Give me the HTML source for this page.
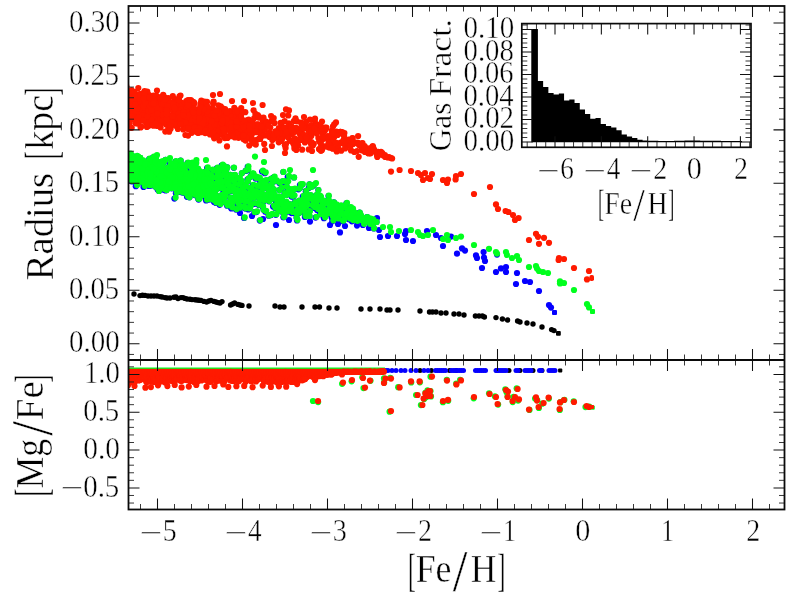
<!DOCTYPE html>
<html lang="en">
<head>
<meta charset="utf-8">
<title>Radius and [Mg/Fe] versus [Fe/H]</title>
<style>
html,body{margin:0;padding:0;background:#fff;}
body{width:800px;height:600px;overflow:hidden;}
svg{display:block;}
</style>
</head>
<body>
<svg width="800" height="600" viewBox="0 0 800 600">
<rect width="800" height="600" fill="#fff"/>
<defs><clipPath id="cu"><rect x="128.5" y="6.0" width="656.0" height="354.0"/></clipPath><clipPath id="cl"><rect x="128.5" y="360.0" width="656.0" height="149.5"/></clipPath></defs>
<g clip-path="url(#cu)">
<g fill="#000"><circle cx="134" cy="294" r="2.7"/><circle cx="140" cy="295.6" r="2.7"/><circle cx="142.5" cy="295.2" r="2.7"/><circle cx="145" cy="295.4" r="2.7"/><circle cx="148" cy="296" r="2.7"/><circle cx="151" cy="296" r="2.7"/><circle cx="154" cy="296" r="2.7"/><circle cx="157" cy="296" r="2.7"/><circle cx="160" cy="296.6" r="2.7"/><circle cx="162" cy="297" r="2.7"/><circle cx="165" cy="297.6" r="2.7"/><circle cx="167" cy="298" r="2.7"/><circle cx="170" cy="298" r="2.7"/><circle cx="174" cy="297.2" r="2.7"/><circle cx="176" cy="297" r="2.7"/><circle cx="178" cy="298.6" r="2.7"/><circle cx="181" cy="297.6" r="2.7"/><circle cx="183" cy="297.6" r="2.7"/><circle cx="185" cy="298.4" r="2.7"/><circle cx="187" cy="299" r="2.7"/><circle cx="190" cy="299.2" r="2.7"/><circle cx="192" cy="299.6" r="2.7"/><circle cx="195" cy="299.8" r="2.7"/><circle cx="197" cy="300" r="2.7"/><circle cx="199" cy="300.2" r="2.7"/><circle cx="201" cy="300.4" r="2.7"/><circle cx="204" cy="301.4" r="2.7"/><circle cx="206.6" cy="302" r="2.7"/><circle cx="209" cy="301" r="2.7"/><circle cx="211" cy="300.4" r="2.7"/><circle cx="214" cy="301.4" r="2.7"/><circle cx="216" cy="302" r="2.7"/><circle cx="218" cy="302.6" r="2.7"/><circle cx="220" cy="303" r="2.7"/><circle cx="222" cy="301.6" r="2.7"/><circle cx="230.6" cy="305" r="2.7"/><circle cx="232.6" cy="304" r="2.7"/><circle cx="234.6" cy="303" r="2.7"/><circle cx="238" cy="304.4" r="2.7"/><circle cx="240" cy="305" r="2.7"/><circle cx="242" cy="305.4" r="2.7"/><circle cx="249" cy="306" r="2.7"/><circle cx="275" cy="306" r="2.7"/><circle cx="280" cy="307" r="2.7"/><circle cx="284" cy="307" r="2.7"/><circle cx="302" cy="307" r="2.7"/><circle cx="315" cy="307" r="2.7"/><circle cx="319.5" cy="307" r="2.7"/><circle cx="329" cy="308" r="2.7"/><circle cx="337" cy="308" r="2.7"/><circle cx="361" cy="309" r="2.7"/><circle cx="370" cy="309" r="2.7"/><circle cx="380" cy="309" r="2.7"/><circle cx="387" cy="310" r="2.7"/><circle cx="390" cy="310" r="2.7"/><circle cx="398" cy="310" r="2.7"/><circle cx="420" cy="311" r="2.7"/><circle cx="429.5" cy="312" r="2.7"/><circle cx="432.5" cy="312" r="2.7"/><circle cx="436" cy="312" r="2.7"/><circle cx="441" cy="313" r="2.7"/><circle cx="446" cy="313" r="2.7"/><circle cx="454" cy="314" r="2.7"/><circle cx="459" cy="314" r="2.7"/><circle cx="464" cy="315" r="2.7"/><circle cx="475.4" cy="316" r="2.7"/><circle cx="479" cy="316" r="2.7"/><circle cx="482.4" cy="316" r="2.7"/><circle cx="484.4" cy="317" r="2.7"/><circle cx="496" cy="317.6" r="2.7"/><circle cx="502.4" cy="319" r="2.7"/><circle cx="507.6" cy="320" r="2.7"/><circle cx="517.6" cy="321" r="2.7"/><circle cx="520" cy="322" r="2.7"/><circle cx="527" cy="323" r="2.7"/><circle cx="533" cy="324" r="2.7"/><circle cx="542" cy="327" r="2.7"/><circle cx="551.6" cy="329.6" r="2.7"/><circle cx="554" cy="330.6" r="2.7"/></g>
<g fill="#000"><rect x="556" y="331" width="4.8" height="4.8" rx="1"/></g>
<g fill="#0500ff"><circle cx="220.7" cy="199.4" r="3.1"/><circle cx="195.7" cy="184.6" r="3.1"/><circle cx="172" cy="183.2" r="3.1"/><circle cx="150.8" cy="178.3" r="3.1"/><circle cx="226.3" cy="175.1" r="3.1"/><circle cx="200.1" cy="187.6" r="3.1"/><circle cx="234.5" cy="175.2" r="3.1"/><circle cx="283.9" cy="181.8" r="3.1"/><circle cx="173.2" cy="164.3" r="3.1"/><circle cx="207.7" cy="182.2" r="3.1"/><circle cx="204.6" cy="196.1" r="3.1"/><circle cx="210.8" cy="189.4" r="3.1"/><circle cx="185.8" cy="180.9" r="3.1"/><circle cx="255.8" cy="178" r="3.1"/><circle cx="205.9" cy="171.8" r="3.1"/><circle cx="330.3" cy="211" r="3.1"/><circle cx="323.6" cy="204.4" r="3.1"/><circle cx="326.4" cy="210.7" r="3.1"/><circle cx="164.3" cy="178.7" r="3.1"/><circle cx="198.7" cy="177.8" r="3.1"/><circle cx="243.7" cy="201.6" r="3.1"/><circle cx="175.6" cy="161.7" r="3.1"/><circle cx="170" cy="183.7" r="3.1"/><circle cx="198.3" cy="198.7" r="3.1"/><circle cx="251.1" cy="204.7" r="3.1"/><circle cx="159.7" cy="170.9" r="3.1"/><circle cx="209.1" cy="176.8" r="3.1"/><circle cx="177.2" cy="178.5" r="3.1"/><circle cx="138.2" cy="172.8" r="3.1"/><circle cx="209.2" cy="183.7" r="3.1"/><circle cx="139.5" cy="161.7" r="3.1"/><circle cx="196.3" cy="187.4" r="3.1"/><circle cx="241.8" cy="173.3" r="3.1"/><circle cx="155.5" cy="157.3" r="3.1"/><circle cx="237" cy="194.5" r="3.1"/><circle cx="146.9" cy="176.9" r="3.1"/><circle cx="221.8" cy="195.6" r="3.1"/><circle cx="271.8" cy="199.1" r="3.1"/><circle cx="260.1" cy="182.4" r="3.1"/><circle cx="162.3" cy="182.5" r="3.1"/><circle cx="258.9" cy="178.7" r="3.1"/><circle cx="175.7" cy="186.8" r="3.1"/><circle cx="153.7" cy="182.5" r="3.1"/><circle cx="333.9" cy="202.3" r="3.1"/><circle cx="174.9" cy="184.6" r="3.1"/><circle cx="321.8" cy="209.3" r="3.1"/><circle cx="299.4" cy="210.3" r="3.1"/><circle cx="178.6" cy="192" r="3.1"/><circle cx="357.5" cy="216.6" r="3.1"/><circle cx="287.7" cy="177.1" r="3.1"/><circle cx="176.1" cy="186" r="3.1"/><circle cx="135.8" cy="172.6" r="3.1"/><circle cx="337.6" cy="213.7" r="3.1"/><circle cx="258.8" cy="205.1" r="3.1"/><circle cx="251.9" cy="192.2" r="3.1"/><circle cx="302.3" cy="200.1" r="3.1"/><circle cx="188.7" cy="183.3" r="3.1"/><circle cx="187.8" cy="174.8" r="3.1"/><circle cx="218.5" cy="181.1" r="3.1"/><circle cx="130.4" cy="154.1" r="3.1"/><circle cx="284.1" cy="205.8" r="3.1"/><circle cx="186.6" cy="185.5" r="3.1"/><circle cx="218.3" cy="187.6" r="3.1"/><circle cx="333.1" cy="216.7" r="3.1"/><circle cx="299.9" cy="185" r="3.1"/><circle cx="126.6" cy="156.3" r="3.1"/><circle cx="128.5" cy="179.6" r="3.1"/><circle cx="311.9" cy="186.5" r="3.1"/><circle cx="159" cy="191" r="3.1"/><circle cx="304.3" cy="197.7" r="3.1"/><circle cx="225.6" cy="181.7" r="3.1"/><circle cx="137" cy="164.1" r="3.1"/><circle cx="247.4" cy="179.6" r="3.1"/><circle cx="316" cy="195.6" r="3.1"/><circle cx="168.8" cy="174.3" r="3.1"/><circle cx="320.5" cy="214.4" r="3.1"/><circle cx="280.5" cy="203" r="3.1"/><circle cx="187.8" cy="174" r="3.1"/><circle cx="143.2" cy="179" r="3.1"/><circle cx="168.9" cy="169.4" r="3.1"/><circle cx="139" cy="160.5" r="3.1"/><circle cx="188.5" cy="181.7" r="3.1"/><circle cx="259.8" cy="187" r="3.1"/><circle cx="256.3" cy="212.1" r="3.1"/><circle cx="172.5" cy="173.3" r="3.1"/><circle cx="163.8" cy="189.7" r="3.1"/><circle cx="147.9" cy="184.9" r="3.1"/><circle cx="194.8" cy="180.9" r="3.1"/><circle cx="312.7" cy="204" r="3.1"/><circle cx="175.6" cy="176.6" r="3.1"/><circle cx="132.9" cy="175" r="3.1"/><circle cx="348.6" cy="213.4" r="3.1"/><circle cx="236.8" cy="190.9" r="3.1"/><circle cx="268.1" cy="200.2" r="3.1"/><circle cx="163" cy="177.7" r="3.1"/><circle cx="172" cy="173.1" r="3.1"/><circle cx="186.3" cy="182.3" r="3.1"/><circle cx="265.3" cy="211.7" r="3.1"/><circle cx="135.5" cy="179.1" r="3.1"/><circle cx="283.3" cy="203" r="3.1"/><circle cx="171.3" cy="174.6" r="3.1"/><circle cx="205.2" cy="187.1" r="3.1"/><circle cx="164.9" cy="170.5" r="3.1"/><circle cx="306.3" cy="206.4" r="3.1"/><circle cx="254.4" cy="212.2" r="3.1"/><circle cx="166.5" cy="190" r="3.1"/><circle cx="227.1" cy="205.7" r="3.1"/><circle cx="336.3" cy="217.9" r="3.1"/><circle cx="347.5" cy="211.5" r="3.1"/><circle cx="182.5" cy="180" r="3.1"/><circle cx="288" cy="207.8" r="3.1"/><circle cx="206.5" cy="194.2" r="3.1"/><circle cx="130.3" cy="161.4" r="3.1"/><circle cx="191.5" cy="177.4" r="3.1"/><circle cx="225.7" cy="181.7" r="3.1"/><circle cx="222.4" cy="187.8" r="3.1"/><circle cx="244.1" cy="185.7" r="3.1"/><circle cx="149.9" cy="178.8" r="3.1"/><circle cx="199.9" cy="174.5" r="3.1"/><circle cx="190.8" cy="186.9" r="3.1"/><circle cx="174.3" cy="173.3" r="3.1"/><circle cx="130.5" cy="162.9" r="3.1"/><circle cx="175.9" cy="178.1" r="3.1"/><circle cx="160.3" cy="181.7" r="3.1"/><circle cx="230.5" cy="178.9" r="3.1"/><circle cx="166" cy="178" r="3.1"/><circle cx="135.6" cy="167.5" r="3.1"/><circle cx="162.3" cy="162.1" r="3.1"/><circle cx="194.7" cy="194.8" r="3.1"/><circle cx="218.1" cy="172.5" r="3.1"/><circle cx="177.8" cy="173.7" r="3.1"/><circle cx="188" cy="176.8" r="3.1"/><circle cx="201.8" cy="187.8" r="3.1"/><circle cx="233.8" cy="167.8" r="3.1"/><circle cx="156.4" cy="183.2" r="3.1"/><circle cx="195.4" cy="195.3" r="3.1"/><circle cx="215.1" cy="171.4" r="3.1"/><circle cx="138.4" cy="160.8" r="3.1"/><circle cx="166.2" cy="189.1" r="3.1"/><circle cx="242.9" cy="188.3" r="3.1"/><circle cx="169" cy="187" r="3.1"/><circle cx="222.6" cy="188.9" r="3.1"/><circle cx="173.8" cy="176.4" r="3.1"/><circle cx="167.3" cy="178.1" r="3.1"/><circle cx="148.2" cy="185.5" r="3.1"/><circle cx="132.7" cy="156.3" r="3.1"/><circle cx="203.1" cy="187" r="3.1"/><circle cx="133.5" cy="157.2" r="3.1"/><circle cx="302.3" cy="184.5" r="3.1"/><circle cx="196.6" cy="171.3" r="3.1"/><circle cx="147.5" cy="180.7" r="3.1"/><circle cx="249.8" cy="199.4" r="3.1"/><circle cx="129.4" cy="173.3" r="3.1"/><circle cx="135.2" cy="180.8" r="3.1"/><circle cx="153.9" cy="174.1" r="3.1"/><circle cx="223.4" cy="198" r="3.1"/><circle cx="158.4" cy="169" r="3.1"/><circle cx="152.8" cy="177.6" r="3.1"/><circle cx="339.5" cy="211" r="3.1"/><circle cx="158.7" cy="174.8" r="3.1"/><circle cx="279.4" cy="190" r="3.1"/><circle cx="137.4" cy="170.6" r="3.1"/><circle cx="174.5" cy="188.3" r="3.1"/><circle cx="127.6" cy="171.1" r="3.1"/><circle cx="282.9" cy="208.1" r="3.1"/><circle cx="182.8" cy="174.7" r="3.1"/><circle cx="167.8" cy="170.4" r="3.1"/><circle cx="202.1" cy="182.9" r="3.1"/><circle cx="231.1" cy="179.2" r="3.1"/><circle cx="309.4" cy="216.1" r="3.1"/><circle cx="194.6" cy="189.9" r="3.1"/><circle cx="237.5" cy="204" r="3.1"/><circle cx="147.2" cy="170.2" r="3.1"/><circle cx="247.8" cy="181.2" r="3.1"/><circle cx="269.3" cy="186.3" r="3.1"/><circle cx="216.8" cy="168.3" r="3.1"/><circle cx="286.6" cy="186.9" r="3.1"/><circle cx="187" cy="196.8" r="3.1"/><circle cx="198.8" cy="185.9" r="3.1"/><circle cx="351" cy="218.9" r="3.1"/><circle cx="175" cy="181.2" r="3.1"/><circle cx="371.9" cy="224.4" r="3.1"/><circle cx="168.4" cy="172.6" r="3.1"/><circle cx="142.4" cy="161" r="3.1"/><circle cx="214.1" cy="193.9" r="3.1"/><circle cx="274.5" cy="197.3" r="3.1"/><circle cx="320.8" cy="202.4" r="3.1"/><circle cx="350.2" cy="211.3" r="3.1"/><circle cx="305.1" cy="202.6" r="3.1"/><circle cx="328.5" cy="196" r="3.1"/><circle cx="183.6" cy="180.7" r="3.1"/><circle cx="313.3" cy="185.5" r="3.1"/><circle cx="281" cy="204.4" r="3.1"/><circle cx="201.5" cy="175.8" r="3.1"/><circle cx="217" cy="180.5" r="3.1"/><circle cx="157.5" cy="169.9" r="3.1"/><circle cx="202.8" cy="175.2" r="3.1"/><circle cx="135.8" cy="186.2" r="3.1"/><circle cx="181.3" cy="189" r="3.1"/><circle cx="162.5" cy="163.2" r="3.1"/><circle cx="176.9" cy="178.9" r="3.1"/><circle cx="221.6" cy="165.7" r="3.1"/><circle cx="170.8" cy="186.5" r="3.1"/><circle cx="330.6" cy="205" r="3.1"/><circle cx="278.6" cy="198.3" r="3.1"/><circle cx="284.2" cy="215.7" r="3.1"/><circle cx="250.5" cy="176.7" r="3.1"/><circle cx="127" cy="173.2" r="3.1"/><circle cx="223.3" cy="166.4" r="3.1"/><circle cx="212.9" cy="185" r="3.1"/><circle cx="165.6" cy="179.8" r="3.1"/><circle cx="149" cy="177.8" r="3.1"/><circle cx="356.9" cy="221.3" r="3.1"/><circle cx="195.8" cy="174.1" r="3.1"/><circle cx="134.9" cy="159.4" r="3.1"/><circle cx="167.3" cy="168.3" r="3.1"/><circle cx="133.3" cy="170.1" r="3.1"/><circle cx="128.6" cy="161.9" r="3.1"/><circle cx="184.6" cy="179.6" r="3.1"/><circle cx="267.3" cy="187.9" r="3.1"/><circle cx="266.4" cy="180.5" r="3.1"/><circle cx="192.6" cy="180.5" r="3.1"/><circle cx="367.1" cy="217.2" r="3.1"/><circle cx="160.8" cy="162.6" r="3.1"/><circle cx="281.7" cy="197.6" r="3.1"/><circle cx="225.5" cy="202.7" r="3.1"/><circle cx="184.1" cy="172" r="3.1"/><circle cx="152.4" cy="185.4" r="3.1"/><circle cx="228.9" cy="186.5" r="3.1"/><circle cx="157.2" cy="172.5" r="3.1"/><circle cx="156" cy="173.4" r="3.1"/><circle cx="161.2" cy="183.2" r="3.1"/><circle cx="157.6" cy="189.5" r="3.1"/><circle cx="310.7" cy="197.8" r="3.1"/><circle cx="140" cy="178" r="3.1"/><circle cx="132.9" cy="168.3" r="3.1"/><circle cx="141.7" cy="167.2" r="3.1"/><circle cx="198.4" cy="191.3" r="3.1"/><circle cx="214.9" cy="178.6" r="3.1"/><circle cx="171.8" cy="170" r="3.1"/><circle cx="206.1" cy="200.5" r="3.1"/><circle cx="315.1" cy="202.3" r="3.1"/><circle cx="127.8" cy="163.9" r="3.1"/><circle cx="320.5" cy="196.8" r="3.1"/><circle cx="296.3" cy="211" r="3.1"/><circle cx="134.5" cy="170.8" r="3.1"/><circle cx="326.1" cy="204.3" r="3.1"/><circle cx="151.8" cy="178.6" r="3.1"/><circle cx="139.2" cy="182.5" r="3.1"/><circle cx="217.8" cy="185.9" r="3.1"/><circle cx="247" cy="201.6" r="3.1"/><circle cx="191.5" cy="180.6" r="3.1"/><circle cx="205.6" cy="197.6" r="3.1"/><circle cx="244.1" cy="217.9" r="3.1"/><circle cx="142.2" cy="175.3" r="3.1"/><circle cx="270.9" cy="185.5" r="3.1"/><circle cx="170.7" cy="164.7" r="3.1"/><circle cx="253.9" cy="204" r="3.1"/><circle cx="175.8" cy="166.7" r="3.1"/><circle cx="150" cy="176.9" r="3.1"/><circle cx="159.3" cy="175.5" r="3.1"/><circle cx="361.3" cy="219" r="3.1"/><circle cx="173.1" cy="186.3" r="3.1"/><circle cx="147.2" cy="173" r="3.1"/><circle cx="277" cy="200.2" r="3.1"/><circle cx="278.7" cy="210.4" r="3.1"/><circle cx="167.9" cy="176.6" r="3.1"/><circle cx="133.7" cy="161.2" r="3.1"/><circle cx="282" cy="211.6" r="3.1"/><circle cx="160.5" cy="171.7" r="3.1"/><circle cx="154.8" cy="180.2" r="3.1"/><circle cx="147" cy="167" r="3.1"/><circle cx="214.1" cy="201.9" r="3.1"/><circle cx="285.3" cy="202.4" r="3.1"/><circle cx="301.9" cy="205.8" r="3.1"/><circle cx="230.2" cy="174.9" r="3.1"/><circle cx="189.5" cy="182.3" r="3.1"/><circle cx="343.7" cy="208.3" r="3.1"/><circle cx="153" cy="169.5" r="3.1"/><circle cx="130.3" cy="170.5" r="3.1"/><circle cx="212.5" cy="198.8" r="3.1"/><circle cx="331.1" cy="207.8" r="3.1"/><circle cx="339.2" cy="214.9" r="3.1"/><circle cx="137.4" cy="157.6" r="3.1"/><circle cx="227.4" cy="179" r="3.1"/><circle cx="365.6" cy="218.1" r="3.1"/><circle cx="131" cy="161" r="3.1"/><circle cx="150.9" cy="166.3" r="3.1"/><circle cx="187.3" cy="190.6" r="3.1"/><circle cx="165.7" cy="184.2" r="3.1"/><circle cx="315.8" cy="207.9" r="3.1"/><circle cx="356.5" cy="216.1" r="3.1"/><circle cx="199.2" cy="190.2" r="3.1"/><circle cx="182.1" cy="187.6" r="3.1"/><circle cx="195.2" cy="164.1" r="3.1"/><circle cx="195.1" cy="186.6" r="3.1"/><circle cx="220.5" cy="169.5" r="3.1"/><circle cx="167.3" cy="185.2" r="3.1"/><circle cx="136.3" cy="160.7" r="3.1"/><circle cx="128" cy="160.3" r="3.1"/><circle cx="347.8" cy="209.6" r="3.1"/><circle cx="164.2" cy="179.4" r="3.1"/><circle cx="228.2" cy="180.2" r="3.1"/><circle cx="293.1" cy="189.8" r="3.1"/><circle cx="274.6" cy="181.3" r="3.1"/><circle cx="203.5" cy="177.5" r="3.1"/><circle cx="198.6" cy="185.7" r="3.1"/><circle cx="208.2" cy="197.8" r="3.1"/><circle cx="187.6" cy="185.2" r="3.1"/><circle cx="199.5" cy="192.8" r="3.1"/><circle cx="194" cy="188.3" r="3.1"/><circle cx="179.9" cy="166.9" r="3.1"/><circle cx="291.5" cy="196.3" r="3.1"/><circle cx="247.7" cy="166.9" r="3.1"/><circle cx="209" cy="199.6" r="3.1"/><circle cx="260.9" cy="192.5" r="3.1"/><circle cx="312.7" cy="206.5" r="3.1"/><circle cx="324.9" cy="211.4" r="3.1"/><circle cx="147.7" cy="174.5" r="3.1"/><circle cx="234.6" cy="191" r="3.1"/><circle cx="271.6" cy="193.5" r="3.1"/><circle cx="171" cy="172" r="3.1"/><circle cx="253.8" cy="176.1" r="3.1"/><circle cx="212.2" cy="198.1" r="3.1"/><circle cx="151.1" cy="167.6" r="3.1"/><circle cx="216.5" cy="198.6" r="3.1"/><circle cx="372.4" cy="220.1" r="3.1"/><circle cx="202.9" cy="182.9" r="3.1"/><circle cx="155.9" cy="186.3" r="3.1"/><circle cx="127.5" cy="159.8" r="3.1"/><circle cx="264" cy="201" r="3.1"/><circle cx="220.5" cy="195.9" r="3.1"/><circle cx="159" cy="182.7" r="3.1"/><circle cx="231.6" cy="188" r="3.1"/><circle cx="197.7" cy="187.4" r="3.1"/><circle cx="301" cy="205.5" r="3.1"/><circle cx="139" cy="162" r="3.1"/><circle cx="249.2" cy="208.4" r="3.1"/><circle cx="144" cy="166.3" r="3.1"/><circle cx="303.8" cy="201" r="3.1"/><circle cx="142.9" cy="173.3" r="3.1"/><circle cx="197.8" cy="168.9" r="3.1"/><circle cx="221" cy="188.3" r="3.1"/><circle cx="148.3" cy="174.1" r="3.1"/><circle cx="305.2" cy="215.1" r="3.1"/><circle cx="253.7" cy="192.7" r="3.1"/><circle cx="146.6" cy="174.3" r="3.1"/><circle cx="259.8" cy="220.6" r="3.1"/><circle cx="326.2" cy="214.2" r="3.1"/><circle cx="155.7" cy="160.9" r="3.1"/><circle cx="171" cy="172.4" r="3.1"/><circle cx="235.5" cy="196" r="3.1"/><circle cx="283.1" cy="212.5" r="3.1"/><circle cx="317.5" cy="207.5" r="3.1"/><circle cx="168.5" cy="174.9" r="3.1"/><circle cx="201.1" cy="175.1" r="3.1"/><circle cx="145.4" cy="164.8" r="3.1"/><circle cx="223.4" cy="198" r="3.1"/><circle cx="127.1" cy="159.5" r="3.1"/><circle cx="128.7" cy="178.9" r="3.1"/><circle cx="334.3" cy="218.4" r="3.1"/><circle cx="171.1" cy="186.6" r="3.1"/><circle cx="216.6" cy="187.7" r="3.1"/><circle cx="180.7" cy="186.3" r="3.1"/><circle cx="267.5" cy="194.3" r="3.1"/><circle cx="318.3" cy="190.1" r="3.1"/><circle cx="302.8" cy="196.5" r="3.1"/><circle cx="271.5" cy="180" r="3.1"/><circle cx="318.8" cy="196.6" r="3.1"/><circle cx="146.4" cy="162.8" r="3.1"/><circle cx="253.9" cy="197.6" r="3.1"/><circle cx="266.3" cy="198.9" r="3.1"/><circle cx="158.6" cy="179.2" r="3.1"/><circle cx="273" cy="189.2" r="3.1"/><circle cx="138.8" cy="163.8" r="3.1"/><circle cx="194.6" cy="174.3" r="3.1"/><circle cx="185.5" cy="177.6" r="3.1"/><circle cx="185.5" cy="181.3" r="3.1"/><circle cx="282.2" cy="181.7" r="3.1"/><circle cx="303.3" cy="211.3" r="3.1"/><circle cx="204.5" cy="174" r="3.1"/><circle cx="189.6" cy="179.7" r="3.1"/><circle cx="136.4" cy="169.4" r="3.1"/><circle cx="276.1" cy="202.7" r="3.1"/><circle cx="202.7" cy="179.6" r="3.1"/><circle cx="241.3" cy="196.8" r="3.1"/><circle cx="191.1" cy="180.1" r="3.1"/><circle cx="155.3" cy="173" r="3.1"/><circle cx="145.2" cy="181.2" r="3.1"/><circle cx="291.1" cy="207.3" r="3.1"/><circle cx="177.8" cy="184.1" r="3.1"/><circle cx="315.5" cy="206.7" r="3.1"/><circle cx="238.7" cy="194.9" r="3.1"/><circle cx="143" cy="169.3" r="3.1"/><circle cx="259.1" cy="178.1" r="3.1"/><circle cx="226.2" cy="169.8" r="3.1"/><circle cx="297" cy="220.4" r="3.1"/><circle cx="283.3" cy="172" r="3.1"/><circle cx="133.7" cy="160" r="3.1"/><circle cx="163.9" cy="176" r="3.1"/><circle cx="258.2" cy="203.8" r="3.1"/><circle cx="231.1" cy="207.4" r="3.1"/><circle cx="204.1" cy="172.6" r="3.1"/><circle cx="344.2" cy="216.8" r="3.1"/><circle cx="280.4" cy="203.6" r="3.1"/><circle cx="242.5" cy="207.4" r="3.1"/><circle cx="146.2" cy="176.8" r="3.1"/><circle cx="192.3" cy="167.6" r="3.1"/><circle cx="186.9" cy="165.7" r="3.1"/><circle cx="198.4" cy="186.3" r="3.1"/><circle cx="132" cy="181.4" r="3.1"/><circle cx="208" cy="184.7" r="3.1"/><circle cx="149" cy="162.2" r="3.1"/><circle cx="130.3" cy="166.3" r="3.1"/><circle cx="242.8" cy="193.5" r="3.1"/><circle cx="139.1" cy="161.4" r="3.1"/><circle cx="170.8" cy="183.2" r="3.1"/><circle cx="314.8" cy="204.4" r="3.1"/><circle cx="201.8" cy="195.2" r="3.1"/><circle cx="287.4" cy="207.2" r="3.1"/><circle cx="133.4" cy="166.2" r="3.1"/><circle cx="213.8" cy="171.6" r="3.1"/><circle cx="187.3" cy="192.9" r="3.1"/><circle cx="188.8" cy="179" r="3.1"/><circle cx="186.4" cy="179.5" r="3.1"/><circle cx="160.9" cy="163.6" r="3.1"/><circle cx="373.8" cy="228.5" r="3.1"/><circle cx="140.1" cy="157.9" r="3.1"/><circle cx="181.1" cy="189.7" r="3.1"/><circle cx="182.2" cy="185.5" r="3.1"/><circle cx="134.3" cy="172.7" r="3.1"/><circle cx="148.3" cy="177.1" r="3.1"/><circle cx="140.4" cy="167.2" r="3.1"/><circle cx="164.4" cy="169.5" r="3.1"/><circle cx="172.8" cy="177.4" r="3.1"/><circle cx="230.3" cy="202" r="3.1"/><circle cx="170.9" cy="174.5" r="3.1"/><circle cx="284.6" cy="193.2" r="3.1"/><circle cx="142.9" cy="164.1" r="3.1"/><circle cx="223.9" cy="194.1" r="3.1"/><circle cx="310.5" cy="195.4" r="3.1"/><circle cx="309.5" cy="184.4" r="3.1"/><circle cx="209.7" cy="176.1" r="3.1"/><circle cx="168.4" cy="174.3" r="3.1"/><circle cx="151.1" cy="171.4" r="3.1"/><circle cx="180.4" cy="178.9" r="3.1"/><circle cx="164.3" cy="185.6" r="3.1"/><circle cx="151.4" cy="184" r="3.1"/><circle cx="368.6" cy="221.4" r="3.1"/><circle cx="230.5" cy="199.1" r="3.1"/><circle cx="273.7" cy="189.7" r="3.1"/><circle cx="342.5" cy="220.9" r="3.1"/><circle cx="169" cy="180.9" r="3.1"/><circle cx="297.7" cy="209.4" r="3.1"/><circle cx="137.2" cy="174.2" r="3.1"/><circle cx="347.2" cy="216.9" r="3.1"/><circle cx="298.4" cy="189.3" r="3.1"/><circle cx="183.5" cy="174.9" r="3.1"/><circle cx="143.4" cy="182.1" r="3.1"/><circle cx="143.5" cy="176.6" r="3.1"/><circle cx="192.1" cy="163" r="3.1"/><circle cx="283.7" cy="207.6" r="3.1"/><circle cx="182.3" cy="187.2" r="3.1"/><circle cx="240.5" cy="191.4" r="3.1"/><circle cx="210.9" cy="197.5" r="3.1"/><circle cx="292.1" cy="196.4" r="3.1"/><circle cx="369.7" cy="219.7" r="3.1"/><circle cx="129.2" cy="173.4" r="3.1"/><circle cx="231.4" cy="208.4" r="3.1"/><circle cx="290" cy="194" r="3.1"/><circle cx="140.6" cy="161" r="3.1"/><circle cx="342.6" cy="206.9" r="3.1"/><circle cx="175.9" cy="193.2" r="3.1"/><circle cx="141.1" cy="170.7" r="3.1"/><circle cx="262.6" cy="206.5" r="3.1"/><circle cx="368.4" cy="219.4" r="3.1"/><circle cx="125.1" cy="162.8" r="3.1"/><circle cx="270.8" cy="179.1" r="3.1"/><circle cx="216.1" cy="202.2" r="3.1"/><circle cx="354" cy="214.1" r="3.1"/><circle cx="179.8" cy="188.6" r="3.1"/><circle cx="341.4" cy="207.6" r="3.1"/><circle cx="210.3" cy="186.8" r="3.1"/><circle cx="224.5" cy="194.8" r="3.1"/><circle cx="276" cy="207.8" r="3.1"/><circle cx="210.7" cy="179.6" r="3.1"/><circle cx="289.2" cy="210.9" r="3.1"/><circle cx="232.6" cy="202.1" r="3.1"/><circle cx="142" cy="165.5" r="3.1"/><circle cx="213.3" cy="192.1" r="3.1"/><circle cx="174.1" cy="187.9" r="3.1"/><circle cx="191.6" cy="168.4" r="3.1"/><circle cx="291.4" cy="193.6" r="3.1"/><circle cx="144.2" cy="168.7" r="3.1"/><circle cx="199" cy="181.2" r="3.1"/><circle cx="159.1" cy="171" r="3.1"/><circle cx="146.1" cy="173.3" r="3.1"/><circle cx="190" cy="187" r="3.1"/><circle cx="179" cy="188.5" r="3.1"/><circle cx="158.4" cy="169.4" r="3.1"/><circle cx="157.6" cy="184.3" r="3.1"/><circle cx="155.5" cy="161.8" r="3.1"/><circle cx="184.7" cy="179.6" r="3.1"/><circle cx="286.8" cy="182.6" r="3.1"/><circle cx="152.1" cy="171.8" r="3.1"/><circle cx="194.6" cy="181.8" r="3.1"/><circle cx="131.8" cy="176.2" r="3.1"/><circle cx="219.1" cy="182.7" r="3.1"/><circle cx="168.4" cy="175.7" r="3.1"/><circle cx="180.8" cy="192.1" r="3.1"/><circle cx="239.7" cy="198.5" r="3.1"/><circle cx="369.7" cy="224.2" r="3.1"/><circle cx="334.6" cy="212.2" r="3.1"/><circle cx="195" cy="189.1" r="3.1"/><circle cx="240.6" cy="200.6" r="3.1"/><circle cx="205.9" cy="173.8" r="3.1"/><circle cx="163.7" cy="171.8" r="3.1"/><circle cx="169.5" cy="172.4" r="3.1"/><circle cx="222.9" cy="172" r="3.1"/><circle cx="226.8" cy="184.4" r="3.1"/><circle cx="239" cy="195" r="3.1"/><circle cx="168.5" cy="184" r="3.1"/><circle cx="157.9" cy="183.3" r="3.1"/><circle cx="261.5" cy="187.1" r="3.1"/><circle cx="149.5" cy="185.9" r="3.1"/><circle cx="184.5" cy="176.5" r="3.1"/><circle cx="140.1" cy="167.2" r="3.1"/><circle cx="334.8" cy="211.5" r="3.1"/><circle cx="179.9" cy="189.3" r="3.1"/><circle cx="192.3" cy="193.8" r="3.1"/><circle cx="150.7" cy="167.8" r="3.1"/><circle cx="163.7" cy="162.3" r="3.1"/><circle cx="130.8" cy="165.3" r="3.1"/><circle cx="170.8" cy="176" r="3.1"/><circle cx="143.7" cy="172.8" r="3.1"/><circle cx="218.3" cy="177.1" r="3.1"/><circle cx="346.4" cy="203.3" r="3.1"/><circle cx="189.6" cy="168" r="3.1"/><circle cx="210.5" cy="184.1" r="3.1"/><circle cx="138.7" cy="177.8" r="3.1"/><circle cx="137" cy="171.5" r="3.1"/><circle cx="304.9" cy="216.9" r="3.1"/><circle cx="310" cy="186.6" r="3.1"/><circle cx="230.8" cy="188.9" r="3.1"/><circle cx="165.9" cy="185.8" r="3.1"/><circle cx="207.6" cy="194.4" r="3.1"/><circle cx="335.7" cy="208.9" r="3.1"/><circle cx="188.5" cy="176.5" r="3.1"/><circle cx="200.5" cy="190.6" r="3.1"/><circle cx="201.3" cy="187.8" r="3.1"/><circle cx="213.2" cy="190" r="3.1"/><circle cx="154.2" cy="171.2" r="3.1"/><circle cx="159.4" cy="174.8" r="3.1"/><circle cx="263.6" cy="209.8" r="3.1"/><circle cx="186.8" cy="182.7" r="3.1"/><circle cx="308.8" cy="196.5" r="3.1"/><circle cx="128.3" cy="157.6" r="3.1"/><circle cx="131.9" cy="172.3" r="3.1"/><circle cx="270.3" cy="191" r="3.1"/><circle cx="176.3" cy="171.7" r="3.1"/><circle cx="244.8" cy="196.7" r="3.1"/><circle cx="127.6" cy="157" r="3.1"/><circle cx="163.8" cy="189" r="3.1"/><circle cx="197.6" cy="174.1" r="3.1"/><circle cx="204.1" cy="194.3" r="3.1"/><circle cx="136.1" cy="156.8" r="3.1"/><circle cx="235.4" cy="199.5" r="3.1"/><circle cx="270.6" cy="215" r="3.1"/><circle cx="214.4" cy="186.9" r="3.1"/><circle cx="250.4" cy="206" r="3.1"/><circle cx="142.1" cy="179.3" r="3.1"/><circle cx="350.3" cy="207.6" r="3.1"/><circle cx="165" cy="171" r="3.1"/><circle cx="253.1" cy="197.2" r="3.1"/><circle cx="266.1" cy="198.7" r="3.1"/><circle cx="196.7" cy="193.2" r="3.1"/><circle cx="130.3" cy="162.4" r="3.1"/><circle cx="252.6" cy="185.5" r="3.1"/><circle cx="162.8" cy="184.2" r="3.1"/><circle cx="143.8" cy="162.9" r="3.1"/><circle cx="305.2" cy="195.7" r="3.1"/><circle cx="175.8" cy="170.2" r="3.1"/><circle cx="199.8" cy="175.5" r="3.1"/><circle cx="321.9" cy="205.9" r="3.1"/><circle cx="237.3" cy="178.9" r="3.1"/><circle cx="208.6" cy="182.4" r="3.1"/><circle cx="181" cy="183.2" r="3.1"/><circle cx="329.4" cy="205.6" r="3.1"/><circle cx="152.1" cy="167.5" r="3.1"/><circle cx="156.6" cy="182.8" r="3.1"/><circle cx="145" cy="179.2" r="3.1"/><circle cx="175.1" cy="169.2" r="3.1"/><circle cx="362.9" cy="224.9" r="3.1"/><circle cx="291.5" cy="213.1" r="3.1"/><circle cx="340.8" cy="213.2" r="3.1"/><circle cx="144.5" cy="172.7" r="3.1"/><circle cx="248.9" cy="194.1" r="3.1"/><circle cx="313.9" cy="207.8" r="3.1"/><circle cx="180.9" cy="183.4" r="3.1"/><circle cx="333.6" cy="205.4" r="3.1"/><circle cx="222.9" cy="194.9" r="3.1"/><circle cx="287.5" cy="191.3" r="3.1"/><circle cx="309.3" cy="199.5" r="3.1"/><circle cx="312.7" cy="199.4" r="3.1"/><circle cx="162.6" cy="187" r="3.1"/><circle cx="198.6" cy="199.6" r="3.1"/><circle cx="126" cy="168.4" r="3.1"/><circle cx="261.7" cy="198.7" r="3.1"/><circle cx="273.1" cy="206.5" r="3.1"/><circle cx="156.4" cy="168" r="3.1"/><circle cx="251.1" cy="189" r="3.1"/><circle cx="275.8" cy="214.8" r="3.1"/><circle cx="331.6" cy="217.6" r="3.1"/><circle cx="373.8" cy="223" r="3.1"/><circle cx="132.1" cy="168.4" r="3.1"/><circle cx="199.5" cy="185.9" r="3.1"/><circle cx="160.5" cy="187.2" r="3.1"/><circle cx="351.7" cy="209.9" r="3.1"/><circle cx="363" cy="218.4" r="3.1"/><circle cx="238.9" cy="208.8" r="3.1"/><circle cx="229.1" cy="176.5" r="3.1"/><circle cx="133.5" cy="172.3" r="3.1"/><circle cx="247.5" cy="193.8" r="3.1"/><circle cx="182.2" cy="178.9" r="3.1"/><circle cx="139" cy="158.8" r="3.1"/><circle cx="228.4" cy="183.7" r="3.1"/><circle cx="323.9" cy="218.2" r="3.1"/><circle cx="130.6" cy="167.6" r="3.1"/><circle cx="192.8" cy="188.1" r="3.1"/><circle cx="127.8" cy="161.3" r="3.1"/><circle cx="195.2" cy="185" r="3.1"/><circle cx="225" cy="177" r="3.1"/><circle cx="224.3" cy="172.1" r="3.1"/><circle cx="165.4" cy="177.2" r="3.1"/><circle cx="309.3" cy="211.7" r="3.1"/><circle cx="153.1" cy="171" r="3.1"/><circle cx="253.2" cy="173.8" r="3.1"/><circle cx="131.9" cy="175.7" r="3.1"/><circle cx="187.8" cy="188" r="3.1"/><circle cx="239" cy="178.4" r="3.1"/><circle cx="329.5" cy="208.1" r="3.1"/><circle cx="203" cy="179.8" r="3.1"/><circle cx="200.6" cy="186.7" r="3.1"/><circle cx="262.9" cy="186.5" r="3.1"/><circle cx="205.3" cy="191.4" r="3.1"/><circle cx="185.5" cy="193.2" r="3.1"/><circle cx="199.9" cy="178.2" r="3.1"/><circle cx="127.4" cy="178.1" r="3.1"/><circle cx="141.1" cy="181.9" r="3.1"/><circle cx="176.4" cy="178.1" r="3.1"/><circle cx="184.4" cy="184.7" r="3.1"/><circle cx="237.1" cy="200.8" r="3.1"/><circle cx="342.9" cy="220.3" r="3.1"/><circle cx="293.7" cy="189.7" r="3.1"/><circle cx="273.5" cy="179.1" r="3.1"/><circle cx="136.7" cy="170.4" r="3.1"/><circle cx="183.3" cy="187.1" r="3.1"/><circle cx="178.4" cy="180.3" r="3.1"/><circle cx="273.1" cy="195" r="3.1"/><circle cx="125.8" cy="168.6" r="3.1"/><circle cx="179" cy="181.1" r="3.1"/><circle cx="155.6" cy="186.8" r="3.1"/><circle cx="341" cy="214.2" r="3.1"/><circle cx="299.3" cy="212.8" r="3.1"/><circle cx="174.3" cy="181.5" r="3.1"/><circle cx="311.6" cy="205.8" r="3.1"/><circle cx="176.6" cy="176.9" r="3.1"/><circle cx="241.1" cy="181.4" r="3.1"/><circle cx="132.1" cy="170.1" r="3.1"/><circle cx="211.7" cy="170.6" r="3.1"/><circle cx="290" cy="190" r="3.1"/><circle cx="154.4" cy="174.2" r="3.1"/><circle cx="191.1" cy="178.1" r="3.1"/><circle cx="191.9" cy="179.8" r="3.1"/><circle cx="138.9" cy="164" r="3.1"/><circle cx="376.5" cy="221.9" r="3.1"/><circle cx="139.8" cy="178.5" r="3.1"/><circle cx="144.2" cy="168" r="3.1"/><circle cx="263.9" cy="181.6" r="3.1"/><circle cx="174.7" cy="164.9" r="3.1"/><circle cx="169.6" cy="164.6" r="3.1"/><circle cx="145.9" cy="176.8" r="3.1"/><circle cx="213" cy="200.2" r="3.1"/><circle cx="299" cy="200.9" r="3.1"/><circle cx="187.9" cy="182.9" r="3.1"/><circle cx="177.5" cy="186.4" r="3.1"/><circle cx="187.5" cy="163.2" r="3.1"/><circle cx="138" cy="173.2" r="3.1"/><circle cx="162.1" cy="178" r="3.1"/><circle cx="152.3" cy="177.9" r="3.1"/><circle cx="151" cy="160.3" r="3.1"/><circle cx="328.1" cy="201.1" r="3.1"/><circle cx="295.2" cy="213.6" r="3.1"/><circle cx="204.3" cy="172.4" r="3.1"/><circle cx="126.6" cy="160.3" r="3.1"/><circle cx="163.3" cy="168.4" r="3.1"/><circle cx="258.6" cy="185.6" r="3.1"/><circle cx="245.4" cy="202.4" r="3.1"/><circle cx="299.1" cy="212" r="3.1"/><circle cx="189.4" cy="174.5" r="3.1"/><circle cx="170.1" cy="174.1" r="3.1"/><circle cx="210.7" cy="175.3" r="3.1"/><circle cx="235" cy="184.3" r="3.1"/><circle cx="315.6" cy="217.6" r="3.1"/><circle cx="332" cy="216.3" r="3.1"/><circle cx="255.3" cy="191.9" r="3.1"/><circle cx="184.7" cy="188.1" r="3.1"/><circle cx="240.6" cy="181" r="3.1"/><circle cx="190.3" cy="174.1" r="3.1"/><circle cx="289.9" cy="204.4" r="3.1"/><circle cx="143.2" cy="168.1" r="3.1"/><circle cx="324.3" cy="202.5" r="3.1"/><circle cx="163.6" cy="179.8" r="3.1"/><circle cx="183.8" cy="180.6" r="3.1"/><circle cx="200.4" cy="176.2" r="3.1"/><circle cx="364.2" cy="221" r="3.1"/><circle cx="173.1" cy="175.7" r="3.1"/><circle cx="198.6" cy="172.1" r="3.1"/><circle cx="191.5" cy="190.5" r="3.1"/><circle cx="335.1" cy="205.5" r="3.1"/><circle cx="141.9" cy="178.3" r="3.1"/><circle cx="137.8" cy="173.6" r="3.1"/><circle cx="262.1" cy="171.5" r="3.1"/><circle cx="148.9" cy="173.9" r="3.1"/><circle cx="125.3" cy="170.2" r="3.1"/><circle cx="247.1" cy="170.3" r="3.1"/><circle cx="227.7" cy="192.1" r="3.1"/><circle cx="174.1" cy="166.6" r="3.1"/><circle cx="251.7" cy="174.2" r="3.1"/><circle cx="169.4" cy="180.2" r="3.1"/><circle cx="271" cy="215.1" r="3.1"/><circle cx="161" cy="167.9" r="3.1"/><circle cx="352.2" cy="218.6" r="3.1"/><circle cx="160.7" cy="177" r="3.1"/><circle cx="183.9" cy="171.6" r="3.1"/><circle cx="147.5" cy="174.8" r="3.1"/><circle cx="300.3" cy="205.1" r="3.1"/><circle cx="136" cy="175.8" r="3.1"/><circle cx="326.6" cy="203.5" r="3.1"/><circle cx="295.6" cy="212.9" r="3.1"/><circle cx="215.1" cy="184.1" r="3.1"/><circle cx="187.5" cy="180.3" r="3.1"/><circle cx="183.1" cy="179.1" r="3.1"/><circle cx="130.3" cy="166" r="3.1"/><circle cx="165.2" cy="186.8" r="3.1"/><circle cx="180.6" cy="160.7" r="3.1"/><circle cx="161.5" cy="169.5" r="3.1"/><circle cx="337.9" cy="219.3" r="3.1"/><circle cx="256.5" cy="186.2" r="3.1"/><circle cx="228.6" cy="191.2" r="3.1"/><circle cx="130" cy="176.7" r="3.1"/><circle cx="219.4" cy="178" r="3.1"/><circle cx="217.9" cy="174.5" r="3.1"/><circle cx="214.6" cy="197.9" r="3.1"/><circle cx="134.1" cy="170.8" r="3.1"/><circle cx="180.6" cy="165.6" r="3.1"/><circle cx="214.7" cy="196" r="3.1"/><circle cx="294.7" cy="202.6" r="3.1"/><circle cx="133.1" cy="175.8" r="3.1"/><circle cx="167" cy="174.1" r="3.1"/><circle cx="161" cy="186.2" r="3.1"/><circle cx="179.5" cy="169.4" r="3.1"/><circle cx="300.1" cy="187.8" r="3.1"/><circle cx="342.8" cy="221.2" r="3.1"/><circle cx="174" cy="178" r="3.1"/><circle cx="344.4" cy="206" r="3.1"/><circle cx="152.3" cy="183.1" r="3.1"/><circle cx="264.8" cy="173.2" r="3.1"/><circle cx="245.3" cy="208.6" r="3.1"/><circle cx="165.6" cy="190.4" r="3.1"/><circle cx="143.5" cy="187" r="3.1"/><circle cx="230.4" cy="197.7" r="3.1"/><circle cx="244.2" cy="192" r="3.1"/><circle cx="221.8" cy="183" r="3.1"/><circle cx="286.3" cy="194.9" r="3.1"/><circle cx="194.7" cy="175" r="3.1"/><circle cx="248.4" cy="189.3" r="3.1"/><circle cx="335.7" cy="210" r="3.1"/><circle cx="202.9" cy="195.1" r="3.1"/><circle cx="130.8" cy="166.7" r="3.1"/><circle cx="217.8" cy="171.1" r="3.1"/><circle cx="153.3" cy="171.1" r="3.1"/><circle cx="184.8" cy="177.8" r="3.1"/><circle cx="159.7" cy="162.6" r="3.1"/><circle cx="236" cy="194" r="3.1"/><circle cx="229.6" cy="203.4" r="3.1"/><circle cx="147.1" cy="175.1" r="3.1"/><circle cx="191.8" cy="185.6" r="3.1"/><circle cx="197" cy="185.1" r="3.1"/><circle cx="144.7" cy="167.2" r="3.1"/><circle cx="156.7" cy="173" r="3.1"/><circle cx="129.4" cy="157.3" r="3.1"/><circle cx="191.7" cy="171.9" r="3.1"/><circle cx="159.2" cy="163.4" r="3.1"/><circle cx="359.6" cy="212.6" r="3.1"/><circle cx="349" cy="219.3" r="3.1"/><circle cx="227.2" cy="167.3" r="3.1"/><circle cx="263.1" cy="200.1" r="3.1"/><circle cx="149.2" cy="159" r="3.1"/><circle cx="215.9" cy="203" r="3.1"/><circle cx="174.5" cy="185.3" r="3.1"/><circle cx="155.4" cy="162" r="3.1"/><circle cx="255.7" cy="178.6" r="3.1"/><circle cx="157.6" cy="186.9" r="3.1"/><circle cx="162" cy="183.2" r="3.1"/><circle cx="281.6" cy="187.8" r="3.1"/><circle cx="199.4" cy="192.9" r="3.1"/><circle cx="360.5" cy="220.8" r="3.1"/><circle cx="152.5" cy="178.7" r="3.1"/><circle cx="361.6" cy="220.3" r="3.1"/><circle cx="279.4" cy="183" r="3.1"/><circle cx="161.5" cy="186.1" r="3.1"/><circle cx="307.2" cy="204.9" r="3.1"/><circle cx="339.9" cy="210.6" r="3.1"/><circle cx="210.8" cy="183" r="3.1"/><circle cx="127.1" cy="169.1" r="3.1"/><circle cx="132.4" cy="159.3" r="3.1"/><circle cx="251.1" cy="196.1" r="3.1"/><circle cx="213.8" cy="189.4" r="3.1"/><circle cx="227.6" cy="191.1" r="3.1"/><circle cx="186.3" cy="174.3" r="3.1"/><circle cx="234.9" cy="190.2" r="3.1"/><circle cx="221.1" cy="181.8" r="3.1"/><circle cx="359.7" cy="216.3" r="3.1"/><circle cx="310.4" cy="186.7" r="3.1"/><circle cx="263.9" cy="184" r="3.1"/><circle cx="312.1" cy="198.2" r="3.1"/><circle cx="177.1" cy="188.6" r="3.1"/><circle cx="197.5" cy="191.3" r="3.1"/><circle cx="143.7" cy="167.1" r="3.1"/><circle cx="183.1" cy="192.7" r="3.1"/><circle cx="191.2" cy="189.3" r="3.1"/><circle cx="167.5" cy="168.2" r="3.1"/><circle cx="155.9" cy="172.1" r="3.1"/><circle cx="217.1" cy="176" r="3.1"/><circle cx="209.6" cy="178.2" r="3.1"/><circle cx="142.4" cy="174" r="3.1"/><circle cx="164" cy="175.3" r="3.1"/><circle cx="353.7" cy="213" r="3.1"/><circle cx="147.7" cy="170.3" r="3.1"/><circle cx="128.2" cy="161.1" r="3.1"/><circle cx="159.4" cy="183.7" r="3.1"/><circle cx="187.6" cy="187.2" r="3.1"/><circle cx="232.8" cy="191" r="3.1"/><circle cx="316.6" cy="201.2" r="3.1"/><circle cx="296.6" cy="217.8" r="3.1"/><circle cx="178.2" cy="173.6" r="3.1"/><circle cx="275.2" cy="208.1" r="3.1"/><circle cx="340.3" cy="206" r="3.1"/><circle cx="206.2" cy="173.7" r="3.1"/><circle cx="213.5" cy="198.5" r="3.1"/><circle cx="189.3" cy="176.5" r="3.1"/><circle cx="181.6" cy="166.2" r="3.1"/><circle cx="322.7" cy="201.7" r="3.1"/><circle cx="220.6" cy="167.9" r="3.1"/><circle cx="137.5" cy="161" r="3.1"/><circle cx="236" cy="209.6" r="3.1"/><circle cx="308.7" cy="188" r="3.1"/><circle cx="266" cy="198.3" r="3.1"/><circle cx="219.6" cy="204.8" r="3.1"/><circle cx="287.2" cy="211.7" r="3.1"/><circle cx="270.2" cy="195.4" r="3.1"/><circle cx="267.6" cy="188.5" r="3.1"/><circle cx="204.8" cy="183.6" r="3.1"/><circle cx="226.3" cy="190.9" r="3.1"/><circle cx="218.6" cy="182.2" r="3.1"/><circle cx="294.4" cy="205.7" r="3.1"/><circle cx="207.9" cy="183.8" r="3.1"/><circle cx="263.1" cy="200.1" r="3.1"/><circle cx="233.3" cy="181.7" r="3.1"/><circle cx="185.1" cy="193" r="3.1"/><circle cx="357.2" cy="218.1" r="3.1"/><circle cx="152.6" cy="157.9" r="3.1"/><circle cx="165.2" cy="172.4" r="3.1"/><circle cx="182.6" cy="165.8" r="3.1"/><circle cx="320.5" cy="212.5" r="3.1"/><circle cx="128.7" cy="163.5" r="3.1"/><circle cx="303.6" cy="206.3" r="3.1"/><circle cx="167.6" cy="173.9" r="3.1"/><circle cx="180.4" cy="176.9" r="3.1"/><circle cx="215.1" cy="190.8" r="3.1"/><circle cx="358" cy="214.8" r="3.1"/><circle cx="244.9" cy="187.5" r="3.1"/><circle cx="286.1" cy="202.8" r="3.1"/><circle cx="330.6" cy="209.1" r="3.1"/><circle cx="236.7" cy="196" r="3.1"/><circle cx="151.3" cy="178.5" r="3.1"/><circle cx="268.6" cy="215.7" r="3.1"/><circle cx="145.8" cy="175.2" r="3.1"/><circle cx="208.7" cy="179.2" r="3.1"/><circle cx="278.8" cy="196.9" r="3.1"/><circle cx="189.4" cy="197.3" r="3.1"/><circle cx="165.6" cy="159.9" r="3.1"/><circle cx="211.5" cy="193.5" r="3.1"/><circle cx="194.3" cy="183.3" r="3.1"/><circle cx="358.1" cy="218" r="3.1"/><circle cx="259.9" cy="195.1" r="3.1"/><circle cx="345.3" cy="214" r="3.1"/><circle cx="168" cy="181.6" r="3.1"/><circle cx="194" cy="167.3" r="3.1"/><circle cx="351.9" cy="221.3" r="3.1"/><circle cx="207.5" cy="194.2" r="3.1"/><circle cx="280.2" cy="202.4" r="3.1"/><circle cx="241.5" cy="188.6" r="3.1"/><circle cx="178.8" cy="187.2" r="3.1"/><circle cx="196.5" cy="187.9" r="3.1"/><circle cx="155.3" cy="172.5" r="3.1"/><circle cx="207.1" cy="168" r="3.1"/><circle cx="205.9" cy="183.8" r="3.1"/><circle cx="276.2" cy="180.9" r="3.1"/><circle cx="202.9" cy="187.1" r="3.1"/><circle cx="329.5" cy="213.7" r="3.1"/><circle cx="351.1" cy="215.4" r="3.1"/><circle cx="352.8" cy="219.4" r="3.1"/><circle cx="175.7" cy="171.1" r="3.1"/><circle cx="180.8" cy="172.6" r="3.1"/><circle cx="332.3" cy="221.3" r="3.1"/><circle cx="265.3" cy="195.5" r="3.1"/><circle cx="319.1" cy="211.1" r="3.1"/><circle cx="207.9" cy="198.4" r="3.1"/><circle cx="234.3" cy="189.7" r="3.1"/><circle cx="170.1" cy="175.1" r="3.1"/><circle cx="259.5" cy="199.4" r="3.1"/><circle cx="151.5" cy="168.1" r="3.1"/><circle cx="222.2" cy="175.4" r="3.1"/><circle cx="149.7" cy="179" r="3.1"/><circle cx="135" cy="175.2" r="3.1"/><circle cx="283.4" cy="217.3" r="3.1"/><circle cx="130.3" cy="161.1" r="3.1"/><circle cx="210.4" cy="186.8" r="3.1"/><circle cx="276" cy="206.4" r="3.1"/><circle cx="269.1" cy="201.3" r="3.1"/><circle cx="211.1" cy="177.6" r="3.1"/><circle cx="142.3" cy="168.9" r="3.1"/><circle cx="317.1" cy="209.9" r="3.1"/><circle cx="224.3" cy="168.6" r="3.1"/><circle cx="147.7" cy="172.2" r="3.1"/><circle cx="179.4" cy="175" r="3.1"/><circle cx="147.3" cy="173.5" r="3.1"/><circle cx="204" cy="182.6" r="3.1"/><circle cx="305.8" cy="191.2" r="3.1"/><circle cx="144.6" cy="164.6" r="3.1"/><circle cx="294" cy="177.5" r="3.1"/><circle cx="126.4" cy="169.9" r="3.1"/><circle cx="155.3" cy="180.4" r="3.1"/><circle cx="293.3" cy="196.4" r="3.1"/><circle cx="239" cy="184.8" r="3.1"/><circle cx="135.7" cy="171.2" r="3.1"/><circle cx="256.2" cy="195.5" r="3.1"/><circle cx="161.4" cy="172.8" r="3.1"/><circle cx="168.3" cy="181.7" r="3.1"/><circle cx="155.2" cy="160.4" r="3.1"/><circle cx="203.8" cy="179.8" r="3.1"/><circle cx="166" cy="173.4" r="3.1"/><circle cx="177.3" cy="173.8" r="3.1"/><circle cx="245.6" cy="170.9" r="3.1"/><circle cx="192.1" cy="169.2" r="3.1"/><circle cx="227.2" cy="186.3" r="3.1"/><circle cx="291.5" cy="205.3" r="3.1"/><circle cx="262.4" cy="188.9" r="3.1"/><circle cx="248.3" cy="209.4" r="3.1"/><circle cx="160.1" cy="176.9" r="3.1"/><circle cx="207.4" cy="191.7" r="3.1"/><circle cx="153.8" cy="168.9" r="3.1"/><circle cx="367.9" cy="220.3" r="3.1"/><circle cx="149.4" cy="175" r="3.1"/><circle cx="171.7" cy="178.6" r="3.1"/><circle cx="253.5" cy="193.9" r="3.1"/><circle cx="171.6" cy="188.3" r="3.1"/><circle cx="207" cy="185.4" r="3.1"/><circle cx="236.2" cy="190.3" r="3.1"/><circle cx="169.8" cy="169.5" r="3.1"/><circle cx="232.8" cy="189.7" r="3.1"/><circle cx="192.6" cy="185.4" r="3.1"/><circle cx="159.7" cy="164" r="3.1"/><circle cx="273.3" cy="177.7" r="3.1"/><circle cx="139" cy="161.7" r="3.1"/><circle cx="209.2" cy="184.5" r="3.1"/><circle cx="236.3" cy="199.3" r="3.1"/><circle cx="179.1" cy="175.2" r="3.1"/><circle cx="179.4" cy="189.9" r="3.1"/><circle cx="155.8" cy="181.2" r="3.1"/><circle cx="138.6" cy="163.5" r="3.1"/><circle cx="213.3" cy="191.7" r="3.1"/><circle cx="148.4" cy="185.6" r="3.1"/><circle cx="174.6" cy="188" r="3.1"/><circle cx="289" cy="220" r="3.1"/><circle cx="310" cy="221.6" r="3.1"/><circle cx="330" cy="225" r="3.1"/><circle cx="338" cy="224" r="3.1"/><circle cx="340" cy="232.4" r="3.1"/><circle cx="345" cy="226" r="3.1"/><circle cx="357" cy="225.6" r="3.1"/><circle cx="369" cy="228" r="3.1"/><circle cx="377" cy="218" r="3.1"/><circle cx="379" cy="230" r="3.1"/><circle cx="380" cy="237" r="3.1"/><circle cx="388" cy="236" r="3.1"/><circle cx="397" cy="236" r="3.1"/><circle cx="405" cy="234" r="3.1"/><circle cx="406" cy="231" r="3.1"/><circle cx="406" cy="240" r="3.1"/><circle cx="413" cy="241" r="3.1"/><circle cx="427" cy="231" r="3.1"/><circle cx="436" cy="235" r="3.1"/><circle cx="441" cy="238" r="3.1"/><circle cx="443" cy="246" r="3.1"/><circle cx="451" cy="236.6" r="3.1"/><circle cx="457" cy="253.6" r="3.1"/><circle cx="462" cy="248.4" r="3.1"/><circle cx="465" cy="250.6" r="3.1"/><circle cx="476" cy="255.4" r="3.1"/><circle cx="477" cy="258" r="3.1"/><circle cx="483.6" cy="252" r="3.1"/><circle cx="484" cy="257.6" r="3.1"/><circle cx="485" cy="261" r="3.1"/><circle cx="482" cy="268" r="3.1"/><circle cx="497" cy="254.6" r="3.1"/><circle cx="496" cy="272" r="3.1"/><circle cx="501" cy="268.4" r="3.1"/><circle cx="506" cy="267" r="3.1"/><circle cx="506" cy="272" r="3.1"/><circle cx="517" cy="273" r="3.1"/><circle cx="516" cy="284" r="3.1"/><circle cx="525" cy="281" r="3.1"/><circle cx="530" cy="282" r="3.1"/><circle cx="539" cy="291" r="3.1"/><circle cx="549" cy="305" r="3.1"/><circle cx="551" cy="307.6" r="3.1"/><circle cx="276" cy="225" r="3.1"/><circle cx="174.4" cy="198.6" r="3.1"/><circle cx="263" cy="219" r="3.1"/><circle cx="252" cy="216" r="3.1"/><circle cx="240" cy="213" r="3.1"/></g>
<g fill="#0500ff"><rect x="552" y="310" width="5" height="5" rx="1"/></g>
<g fill="#00ff1e"><circle cx="221.4" cy="198.8" r="3.1"/><circle cx="196.8" cy="183.6" r="3.1"/><circle cx="172.9" cy="182.4" r="3.1"/><circle cx="151.7" cy="177.4" r="3.1"/><circle cx="226.8" cy="174.8" r="3.1"/><circle cx="201.4" cy="186.5" r="3.1"/><circle cx="235" cy="174.8" r="3.1"/><circle cx="284.8" cy="181" r="3.1"/><circle cx="173.7" cy="163.9" r="3.1"/><circle cx="208.9" cy="181.1" r="3.1"/><circle cx="205.6" cy="195.2" r="3.1"/><circle cx="211.6" cy="188.7" r="3.1"/><circle cx="187.1" cy="179.7" r="3.1"/><circle cx="257.1" cy="176.8" r="3.1"/><circle cx="206.4" cy="171.3" r="3.1"/><circle cx="330.7" cy="210.7" r="3.1"/><circle cx="324.1" cy="204" r="3.1"/><circle cx="326.7" cy="210.4" r="3.1"/><circle cx="164.7" cy="178.3" r="3.1"/><circle cx="198.8" cy="177.7" r="3.1"/><circle cx="244.8" cy="200.7" r="3.1"/><circle cx="176.1" cy="161.2" r="3.1"/><circle cx="171.3" cy="182.6" r="3.1"/><circle cx="198.4" cy="198.7" r="3.1"/><circle cx="251.5" cy="204.3" r="3.1"/><circle cx="161.1" cy="169.7" r="3.1"/><circle cx="210.3" cy="175.7" r="3.1"/><circle cx="178.6" cy="177.3" r="3.1"/><circle cx="139.5" cy="171.6" r="3.1"/><circle cx="210.5" cy="182.5" r="3.1"/><circle cx="140.5" cy="160.9" r="3.1"/><circle cx="197.7" cy="186.2" r="3.1"/><circle cx="242" cy="173.1" r="3.1"/><circle cx="156.1" cy="156.8" r="3.1"/><circle cx="237.8" cy="193.8" r="3.1"/><circle cx="148.1" cy="175.9" r="3.1"/><circle cx="222.6" cy="194.9" r="3.1"/><circle cx="272.1" cy="198.8" r="3.1"/><circle cx="261.3" cy="181.3" r="3.1"/><circle cx="163.1" cy="181.9" r="3.1"/><circle cx="259.8" cy="177.9" r="3.1"/><circle cx="175.7" cy="186.8" r="3.1"/><circle cx="155.1" cy="181.2" r="3.1"/><circle cx="333.9" cy="202.3" r="3.1"/><circle cx="176.3" cy="183.4" r="3.1"/><circle cx="322.7" cy="208.5" r="3.1"/><circle cx="300.1" cy="209.7" r="3.1"/><circle cx="179.5" cy="191.2" r="3.1"/><circle cx="358.2" cy="216" r="3.1"/><circle cx="289" cy="175.9" r="3.1"/><circle cx="177.3" cy="185" r="3.1"/><circle cx="135.8" cy="172.6" r="3.1"/><circle cx="338.2" cy="213.2" r="3.1"/><circle cx="259.3" cy="204.7" r="3.1"/><circle cx="253" cy="191.2" r="3.1"/><circle cx="302.8" cy="199.7" r="3.1"/><circle cx="189.2" cy="182.8" r="3.1"/><circle cx="189.1" cy="173.6" r="3.1"/><circle cx="219.3" cy="180.4" r="3.1"/><circle cx="130.8" cy="153.7" r="3.1"/><circle cx="284.4" cy="205.5" r="3.1"/><circle cx="186.6" cy="185.4" r="3.1"/><circle cx="218.6" cy="187.3" r="3.1"/><circle cx="333.4" cy="216.5" r="3.1"/><circle cx="300.9" cy="184" r="3.1"/><circle cx="127.9" cy="155.1" r="3.1"/><circle cx="129" cy="179.1" r="3.1"/><circle cx="312" cy="186.5" r="3.1"/><circle cx="159" cy="191" r="3.1"/><circle cx="305.7" cy="196.5" r="3.1"/><circle cx="226.8" cy="180.6" r="3.1"/><circle cx="138.2" cy="163" r="3.1"/><circle cx="248.4" cy="178.7" r="3.1"/><circle cx="316.7" cy="194.9" r="3.1"/><circle cx="169.2" cy="173.9" r="3.1"/><circle cx="321" cy="213.9" r="3.1"/><circle cx="281.1" cy="202.4" r="3.1"/><circle cx="188.1" cy="173.7" r="3.1"/><circle cx="143.8" cy="178.4" r="3.1"/><circle cx="170.3" cy="168.3" r="3.1"/><circle cx="139.8" cy="159.9" r="3.1"/><circle cx="189.3" cy="181.1" r="3.1"/><circle cx="260.5" cy="186.4" r="3.1"/><circle cx="257.1" cy="211.4" r="3.1"/><circle cx="173.7" cy="172.2" r="3.1"/><circle cx="164.7" cy="188.9" r="3.1"/><circle cx="148.9" cy="184" r="3.1"/><circle cx="196.1" cy="179.8" r="3.1"/><circle cx="313.8" cy="203" r="3.1"/><circle cx="176.6" cy="175.7" r="3.1"/><circle cx="134" cy="174" r="3.1"/><circle cx="349.2" cy="212.9" r="3.1"/><circle cx="237.7" cy="190.2" r="3.1"/><circle cx="268.5" cy="199.9" r="3.1"/><circle cx="164.3" cy="176.6" r="3.1"/><circle cx="173.2" cy="172.1" r="3.1"/><circle cx="187" cy="181.7" r="3.1"/><circle cx="266.2" cy="210.9" r="3.1"/><circle cx="136.8" cy="177.9" r="3.1"/><circle cx="283.7" cy="202.6" r="3.1"/><circle cx="172.1" cy="173.9" r="3.1"/><circle cx="206.5" cy="186" r="3.1"/><circle cx="165.7" cy="169.8" r="3.1"/><circle cx="306.4" cy="206.3" r="3.1"/><circle cx="254.7" cy="212" r="3.1"/><circle cx="166.6" cy="189.9" r="3.1"/><circle cx="227.6" cy="205.3" r="3.1"/><circle cx="336.4" cy="217.8" r="3.1"/><circle cx="348.5" cy="210.6" r="3.1"/><circle cx="182.7" cy="179.8" r="3.1"/><circle cx="288" cy="207.8" r="3.1"/><circle cx="206.6" cy="194.1" r="3.1"/><circle cx="130.4" cy="161.4" r="3.1"/><circle cx="192.7" cy="176.4" r="3.1"/><circle cx="225.7" cy="181.7" r="3.1"/><circle cx="222.9" cy="187.3" r="3.1"/><circle cx="245.3" cy="184.6" r="3.1"/><circle cx="151.1" cy="177.7" r="3.1"/><circle cx="200.3" cy="174.1" r="3.1"/><circle cx="190.8" cy="186.9" r="3.1"/><circle cx="175.5" cy="172.3" r="3.1"/><circle cx="131.4" cy="162.1" r="3.1"/><circle cx="177.2" cy="177" r="3.1"/><circle cx="161.3" cy="180.9" r="3.1"/><circle cx="231.6" cy="177.9" r="3.1"/><circle cx="166.9" cy="177.2" r="3.1"/><circle cx="136.5" cy="166.6" r="3.1"/><circle cx="163.2" cy="161.3" r="3.1"/><circle cx="194.8" cy="194.6" r="3.1"/><circle cx="218.5" cy="172.2" r="3.1"/><circle cx="178.8" cy="172.8" r="3.1"/><circle cx="189.4" cy="175.6" r="3.1"/><circle cx="202.1" cy="187.6" r="3.1"/><circle cx="234" cy="167.6" r="3.1"/><circle cx="156.9" cy="182.8" r="3.1"/><circle cx="196.2" cy="194.6" r="3.1"/><circle cx="216.3" cy="170.3" r="3.1"/><circle cx="138.6" cy="160.6" r="3.1"/><circle cx="167.5" cy="187.9" r="3.1"/><circle cx="243.6" cy="187.7" r="3.1"/><circle cx="169.1" cy="187" r="3.1"/><circle cx="223.3" cy="188.2" r="3.1"/><circle cx="174.3" cy="176" r="3.1"/><circle cx="167.9" cy="177.6" r="3.1"/><circle cx="149.5" cy="184.4" r="3.1"/><circle cx="132.7" cy="156.3" r="3.1"/><circle cx="203.5" cy="186.6" r="3.1"/><circle cx="134.3" cy="156.6" r="3.1"/><circle cx="302.8" cy="184.1" r="3.1"/><circle cx="197.3" cy="170.7" r="3.1"/><circle cx="148.5" cy="179.8" r="3.1"/><circle cx="250.5" cy="198.8" r="3.1"/><circle cx="129.6" cy="173.2" r="3.1"/><circle cx="136" cy="180.1" r="3.1"/><circle cx="154" cy="174.1" r="3.1"/><circle cx="223.9" cy="197.6" r="3.1"/><circle cx="159.5" cy="168.1" r="3.1"/><circle cx="153.2" cy="177.2" r="3.1"/><circle cx="339.8" cy="210.7" r="3.1"/><circle cx="159" cy="174.5" r="3.1"/><circle cx="279.5" cy="190" r="3.1"/><circle cx="138.2" cy="169.9" r="3.1"/><circle cx="174.7" cy="188" r="3.1"/><circle cx="128.7" cy="170.2" r="3.1"/><circle cx="283" cy="208" r="3.1"/><circle cx="183" cy="174.5" r="3.1"/><circle cx="168.7" cy="169.6" r="3.1"/><circle cx="203" cy="182.1" r="3.1"/><circle cx="231.5" cy="178.8" r="3.1"/><circle cx="309.6" cy="216" r="3.1"/><circle cx="195.8" cy="188.8" r="3.1"/><circle cx="238.4" cy="203.2" r="3.1"/><circle cx="147.9" cy="169.6" r="3.1"/><circle cx="248" cy="181" r="3.1"/><circle cx="269.8" cy="185.9" r="3.1"/><circle cx="217.7" cy="167.5" r="3.1"/><circle cx="286.8" cy="186.7" r="3.1"/><circle cx="187.8" cy="196.1" r="3.1"/><circle cx="200" cy="184.8" r="3.1"/><circle cx="351.6" cy="218.4" r="3.1"/><circle cx="175.8" cy="180.5" r="3.1"/><circle cx="372.5" cy="223.9" r="3.1"/><circle cx="168.5" cy="172.4" r="3.1"/><circle cx="143.2" cy="160.3" r="3.1"/><circle cx="214.2" cy="193.8" r="3.1"/><circle cx="275.7" cy="196.2" r="3.1"/><circle cx="322.2" cy="201.3" r="3.1"/><circle cx="351.5" cy="210.1" r="3.1"/><circle cx="306.4" cy="201.5" r="3.1"/><circle cx="328.8" cy="195.7" r="3.1"/><circle cx="184.4" cy="179.9" r="3.1"/><circle cx="314.4" cy="184.5" r="3.1"/><circle cx="281.6" cy="203.8" r="3.1"/><circle cx="202.5" cy="174.9" r="3.1"/><circle cx="217.9" cy="179.7" r="3.1"/><circle cx="157.6" cy="169.8" r="3.1"/><circle cx="202.8" cy="175.1" r="3.1"/><circle cx="137.1" cy="185.1" r="3.1"/><circle cx="182.6" cy="187.8" r="3.1"/><circle cx="163.5" cy="162.3" r="3.1"/><circle cx="177.7" cy="178.3" r="3.1"/><circle cx="222.8" cy="164.7" r="3.1"/><circle cx="172.1" cy="185.4" r="3.1"/><circle cx="331.7" cy="204.1" r="3.1"/><circle cx="279.6" cy="197.4" r="3.1"/><circle cx="284.3" cy="215.7" r="3.1"/><circle cx="250.9" cy="176.4" r="3.1"/><circle cx="127.5" cy="172.7" r="3.1"/><circle cx="224" cy="165.9" r="3.1"/><circle cx="213.3" cy="184.6" r="3.1"/><circle cx="166.7" cy="178.8" r="3.1"/><circle cx="150.4" cy="176.5" r="3.1"/><circle cx="357.4" cy="220.8" r="3.1"/><circle cx="197" cy="173" r="3.1"/><circle cx="135.3" cy="159" r="3.1"/><circle cx="168.4" cy="167.3" r="3.1"/><circle cx="133.7" cy="169.8" r="3.1"/><circle cx="129.1" cy="161.4" r="3.1"/><circle cx="184.9" cy="179.3" r="3.1"/><circle cx="268" cy="187.3" r="3.1"/><circle cx="266.8" cy="180.1" r="3.1"/><circle cx="193.9" cy="179.4" r="3.1"/><circle cx="367.3" cy="217" r="3.1"/><circle cx="162.1" cy="161.4" r="3.1"/><circle cx="282" cy="197.3" r="3.1"/><circle cx="225.8" cy="202.4" r="3.1"/><circle cx="185.1" cy="171.2" r="3.1"/><circle cx="153.4" cy="184.5" r="3.1"/><circle cx="229.1" cy="186.3" r="3.1"/><circle cx="158" cy="171.8" r="3.1"/><circle cx="156.5" cy="173" r="3.1"/><circle cx="162.1" cy="182.4" r="3.1"/><circle cx="158.2" cy="188.9" r="3.1"/><circle cx="311.4" cy="197.2" r="3.1"/><circle cx="140.1" cy="177.9" r="3.1"/><circle cx="133" cy="168.1" r="3.1"/><circle cx="142.9" cy="166.1" r="3.1"/><circle cx="198.6" cy="191.1" r="3.1"/><circle cx="216.1" cy="177.6" r="3.1"/><circle cx="172.3" cy="169.6" r="3.1"/><circle cx="207" cy="199.6" r="3.1"/><circle cx="315.7" cy="201.8" r="3.1"/><circle cx="128.5" cy="163.3" r="3.1"/><circle cx="320.9" cy="196.5" r="3.1"/><circle cx="296.7" cy="210.6" r="3.1"/><circle cx="134.7" cy="170.6" r="3.1"/><circle cx="327.2" cy="203.3" r="3.1"/><circle cx="151.9" cy="178.6" r="3.1"/><circle cx="140.4" cy="181.4" r="3.1"/><circle cx="219" cy="184.9" r="3.1"/><circle cx="247.4" cy="201.3" r="3.1"/><circle cx="191.8" cy="180.4" r="3.1"/><circle cx="206.8" cy="196.6" r="3.1"/><circle cx="244.7" cy="217.4" r="3.1"/><circle cx="142.6" cy="175" r="3.1"/><circle cx="271.7" cy="184.8" r="3.1"/><circle cx="172.1" cy="163.5" r="3.1"/><circle cx="255.1" cy="203" r="3.1"/><circle cx="176.6" cy="166" r="3.1"/><circle cx="150.8" cy="176.2" r="3.1"/><circle cx="160.4" cy="174.6" r="3.1"/><circle cx="361.8" cy="218.6" r="3.1"/><circle cx="173.1" cy="186.3" r="3.1"/><circle cx="147.9" cy="172.4" r="3.1"/><circle cx="277.2" cy="200" r="3.1"/><circle cx="279.1" cy="210" r="3.1"/><circle cx="168.4" cy="176.2" r="3.1"/><circle cx="134.5" cy="160.6" r="3.1"/><circle cx="282.1" cy="211.6" r="3.1"/><circle cx="160.8" cy="171.4" r="3.1"/><circle cx="154.8" cy="180.2" r="3.1"/><circle cx="148.2" cy="165.9" r="3.1"/><circle cx="215.5" cy="200.7" r="3.1"/><circle cx="286.3" cy="201.5" r="3.1"/><circle cx="301.9" cy="205.8" r="3.1"/><circle cx="230.4" cy="174.8" r="3.1"/><circle cx="190.5" cy="181.4" r="3.1"/><circle cx="344.4" cy="207.7" r="3.1"/><circle cx="154" cy="168.6" r="3.1"/><circle cx="130.9" cy="170" r="3.1"/><circle cx="213.8" cy="197.6" r="3.1"/><circle cx="331.5" cy="207.4" r="3.1"/><circle cx="340" cy="214.1" r="3.1"/><circle cx="138.3" cy="156.9" r="3.1"/><circle cx="227.8" cy="178.6" r="3.1"/><circle cx="366" cy="217.8" r="3.1"/><circle cx="132.3" cy="159.8" r="3.1"/><circle cx="152.2" cy="165.1" r="3.1"/><circle cx="188.5" cy="189.5" r="3.1"/><circle cx="166.7" cy="183.3" r="3.1"/><circle cx="316.6" cy="207.2" r="3.1"/><circle cx="357" cy="215.7" r="3.1"/><circle cx="199.3" cy="190.1" r="3.1"/><circle cx="183.4" cy="186.5" r="3.1"/><circle cx="196.3" cy="163.1" r="3.1"/><circle cx="195.5" cy="186.2" r="3.1"/><circle cx="221.7" cy="168.4" r="3.1"/><circle cx="168.2" cy="184.5" r="3.1"/><circle cx="136.5" cy="160.5" r="3.1"/><circle cx="128.5" cy="159.8" r="3.1"/><circle cx="348.1" cy="209.3" r="3.1"/><circle cx="165.3" cy="178.4" r="3.1"/><circle cx="229.4" cy="179.2" r="3.1"/><circle cx="294" cy="189" r="3.1"/><circle cx="275.2" cy="180.8" r="3.1"/><circle cx="204.7" cy="176.5" r="3.1"/><circle cx="199.2" cy="185.2" r="3.1"/><circle cx="208.4" cy="197.6" r="3.1"/><circle cx="188.5" cy="184.3" r="3.1"/><circle cx="200.8" cy="191.7" r="3.1"/><circle cx="195.3" cy="187.1" r="3.1"/><circle cx="181.1" cy="165.8" r="3.1"/><circle cx="292.1" cy="195.7" r="3.1"/><circle cx="248.4" cy="166.3" r="3.1"/><circle cx="209.9" cy="198.8" r="3.1"/><circle cx="261.7" cy="191.8" r="3.1"/><circle cx="314" cy="205.3" r="3.1"/><circle cx="325.8" cy="210.5" r="3.1"/><circle cx="148.9" cy="173.5" r="3.1"/><circle cx="235.5" cy="190.2" r="3.1"/><circle cx="271.7" cy="193.4" r="3.1"/><circle cx="171.1" cy="171.9" r="3.1"/><circle cx="254.1" cy="175.8" r="3.1"/><circle cx="213" cy="197.4" r="3.1"/><circle cx="152.4" cy="166.5" r="3.1"/><circle cx="217.8" cy="197.5" r="3.1"/><circle cx="373.3" cy="219.4" r="3.1"/><circle cx="203.3" cy="182.6" r="3.1"/><circle cx="156.7" cy="185.5" r="3.1"/><circle cx="127.9" cy="159.5" r="3.1"/><circle cx="264.7" cy="200.3" r="3.1"/><circle cx="221.2" cy="195.3" r="3.1"/><circle cx="160.3" cy="181.5" r="3.1"/><circle cx="232.9" cy="186.9" r="3.1"/><circle cx="197.7" cy="187.3" r="3.1"/><circle cx="302.2" cy="204.5" r="3.1"/><circle cx="139.9" cy="161.2" r="3.1"/><circle cx="250.1" cy="207.6" r="3.1"/><circle cx="144.7" cy="165.7" r="3.1"/><circle cx="305.1" cy="199.9" r="3.1"/><circle cx="144" cy="172.3" r="3.1"/><circle cx="198" cy="168.7" r="3.1"/><circle cx="221.5" cy="187.9" r="3.1"/><circle cx="148.7" cy="173.8" r="3.1"/><circle cx="305.5" cy="214.9" r="3.1"/><circle cx="254" cy="192.5" r="3.1"/><circle cx="147.6" cy="173.5" r="3.1"/><circle cx="260.3" cy="220.1" r="3.1"/><circle cx="326.6" cy="213.9" r="3.1"/><circle cx="156.2" cy="160.5" r="3.1"/><circle cx="172.3" cy="171.4" r="3.1"/><circle cx="235.7" cy="195.8" r="3.1"/><circle cx="284.3" cy="211.4" r="3.1"/><circle cx="318.3" cy="206.7" r="3.1"/><circle cx="169.2" cy="174.3" r="3.1"/><circle cx="201.3" cy="174.9" r="3.1"/><circle cx="146.8" cy="163.6" r="3.1"/><circle cx="224.6" cy="197" r="3.1"/><circle cx="128" cy="158.7" r="3.1"/><circle cx="129.4" cy="178.3" r="3.1"/><circle cx="335.2" cy="217.6" r="3.1"/><circle cx="171.7" cy="186.1" r="3.1"/><circle cx="216.7" cy="187.6" r="3.1"/><circle cx="180.9" cy="186.1" r="3.1"/><circle cx="268" cy="193.9" r="3.1"/><circle cx="318.4" cy="190" r="3.1"/><circle cx="303.9" cy="195.5" r="3.1"/><circle cx="272.2" cy="179.3" r="3.1"/><circle cx="320" cy="195.5" r="3.1"/><circle cx="147.6" cy="161.7" r="3.1"/><circle cx="254.7" cy="196.9" r="3.1"/><circle cx="267.2" cy="198" r="3.1"/><circle cx="158.9" cy="178.9" r="3.1"/><circle cx="273.1" cy="189.1" r="3.1"/><circle cx="139.8" cy="162.9" r="3.1"/><circle cx="195.9" cy="173.2" r="3.1"/><circle cx="185.8" cy="177.3" r="3.1"/><circle cx="186.7" cy="180.2" r="3.1"/><circle cx="282.8" cy="181.1" r="3.1"/><circle cx="304.1" cy="210.6" r="3.1"/><circle cx="205.8" cy="172.9" r="3.1"/><circle cx="190.9" cy="178.6" r="3.1"/><circle cx="137.6" cy="168.3" r="3.1"/><circle cx="277.3" cy="201.7" r="3.1"/><circle cx="203.7" cy="178.7" r="3.1"/><circle cx="242.5" cy="195.7" r="3.1"/><circle cx="192.3" cy="179.1" r="3.1"/><circle cx="155.7" cy="172.7" r="3.1"/><circle cx="146.1" cy="180.4" r="3.1"/><circle cx="291.2" cy="207.3" r="3.1"/><circle cx="178.1" cy="183.9" r="3.1"/><circle cx="316.8" cy="205.5" r="3.1"/><circle cx="239" cy="194.6" r="3.1"/><circle cx="143.6" cy="168.8" r="3.1"/><circle cx="259.4" cy="177.8" r="3.1"/><circle cx="226.5" cy="169.5" r="3.1"/><circle cx="297.6" cy="219.8" r="3.1"/><circle cx="283.4" cy="171.9" r="3.1"/><circle cx="134.8" cy="159" r="3.1"/><circle cx="164.2" cy="175.7" r="3.1"/><circle cx="258.4" cy="203.6" r="3.1"/><circle cx="231.8" cy="206.8" r="3.1"/><circle cx="204.8" cy="172" r="3.1"/><circle cx="344.8" cy="216.3" r="3.1"/><circle cx="281.8" cy="202.4" r="3.1"/><circle cx="243.9" cy="206.2" r="3.1"/><circle cx="147.4" cy="175.8" r="3.1"/><circle cx="193.1" cy="166.8" r="3.1"/><circle cx="187.1" cy="165.6" r="3.1"/><circle cx="199.4" cy="185.4" r="3.1"/><circle cx="132.3" cy="181.1" r="3.1"/><circle cx="208.7" cy="184" r="3.1"/><circle cx="149.2" cy="162" r="3.1"/><circle cx="131.3" cy="165.5" r="3.1"/><circle cx="243.1" cy="193.2" r="3.1"/><circle cx="140.4" cy="160.3" r="3.1"/><circle cx="171.9" cy="182.2" r="3.1"/><circle cx="315.6" cy="203.7" r="3.1"/><circle cx="202" cy="195" r="3.1"/><circle cx="287.7" cy="206.9" r="3.1"/><circle cx="134.1" cy="165.6" r="3.1"/><circle cx="214.9" cy="170.7" r="3.1"/><circle cx="188" cy="192.4" r="3.1"/><circle cx="190.1" cy="177.8" r="3.1"/><circle cx="187.2" cy="178.8" r="3.1"/><circle cx="161.2" cy="163.3" r="3.1"/><circle cx="374.1" cy="228.3" r="3.1"/><circle cx="140.2" cy="157.8" r="3.1"/><circle cx="182.3" cy="188.7" r="3.1"/><circle cx="183.5" cy="184.4" r="3.1"/><circle cx="135.5" cy="171.6" r="3.1"/><circle cx="149.5" cy="176" r="3.1"/><circle cx="141.6" cy="166.1" r="3.1"/><circle cx="165.1" cy="168.9" r="3.1"/><circle cx="173.3" cy="176.9" r="3.1"/><circle cx="231.2" cy="201.3" r="3.1"/><circle cx="172.2" cy="173.3" r="3.1"/><circle cx="284.9" cy="193" r="3.1"/><circle cx="144.2" cy="162.9" r="3.1"/><circle cx="225" cy="193.2" r="3.1"/><circle cx="310.7" cy="195.2" r="3.1"/><circle cx="309.5" cy="184.3" r="3.1"/><circle cx="210" cy="175.9" r="3.1"/><circle cx="169.7" cy="173.2" r="3.1"/><circle cx="151.5" cy="171" r="3.1"/><circle cx="181.6" cy="177.9" r="3.1"/><circle cx="165.3" cy="184.8" r="3.1"/><circle cx="151.6" cy="183.7" r="3.1"/><circle cx="369.1" cy="221" r="3.1"/><circle cx="230.9" cy="198.8" r="3.1"/><circle cx="273.9" cy="189.6" r="3.1"/><circle cx="343" cy="220.5" r="3.1"/><circle cx="170" cy="180" r="3.1"/><circle cx="298.4" cy="208.7" r="3.1"/><circle cx="138" cy="173.5" r="3.1"/><circle cx="347.9" cy="216.3" r="3.1"/><circle cx="299.3" cy="188.5" r="3.1"/><circle cx="184.3" cy="174.2" r="3.1"/><circle cx="143.7" cy="182" r="3.1"/><circle cx="143.6" cy="176.4" r="3.1"/><circle cx="192.6" cy="162.6" r="3.1"/><circle cx="284.7" cy="206.7" r="3.1"/><circle cx="183.5" cy="186.2" r="3.1"/><circle cx="241.3" cy="190.8" r="3.1"/><circle cx="212.1" cy="196.4" r="3.1"/><circle cx="293.1" cy="195.6" r="3.1"/><circle cx="370.8" cy="218.7" r="3.1"/><circle cx="130.1" cy="172.6" r="3.1"/><circle cx="232.7" cy="207.3" r="3.1"/><circle cx="290.5" cy="193.7" r="3.1"/><circle cx="140.9" cy="160.7" r="3.1"/><circle cx="343.5" cy="206.1" r="3.1"/><circle cx="176.8" cy="192.4" r="3.1"/><circle cx="141.9" cy="170.1" r="3.1"/><circle cx="263" cy="206.2" r="3.1"/><circle cx="369.5" cy="218.5" r="3.1"/><circle cx="126" cy="162" r="3.1"/><circle cx="271.4" cy="178.5" r="3.1"/><circle cx="216.9" cy="201.5" r="3.1"/><circle cx="354.5" cy="213.7" r="3.1"/><circle cx="180.4" cy="188.1" r="3.1"/><circle cx="342.8" cy="206.3" r="3.1"/><circle cx="210.5" cy="186.6" r="3.1"/><circle cx="225.2" cy="194.2" r="3.1"/><circle cx="276.9" cy="207.1" r="3.1"/><circle cx="211.4" cy="179" r="3.1"/><circle cx="289.9" cy="210.3" r="3.1"/><circle cx="232.8" cy="202" r="3.1"/><circle cx="143.1" cy="164.5" r="3.1"/><circle cx="213.4" cy="192" r="3.1"/><circle cx="174.7" cy="187.5" r="3.1"/><circle cx="192.1" cy="167.9" r="3.1"/><circle cx="291.6" cy="193.4" r="3.1"/><circle cx="145.4" cy="167.6" r="3.1"/><circle cx="200.2" cy="180.2" r="3.1"/><circle cx="159.1" cy="171" r="3.1"/><circle cx="146.2" cy="173.3" r="3.1"/><circle cx="190" cy="186.9" r="3.1"/><circle cx="179.3" cy="188.2" r="3.1"/><circle cx="158.7" cy="169.2" r="3.1"/><circle cx="158.3" cy="183.7" r="3.1"/><circle cx="155.7" cy="161.6" r="3.1"/><circle cx="184.8" cy="179.6" r="3.1"/><circle cx="288.2" cy="181.3" r="3.1"/><circle cx="153.4" cy="170.7" r="3.1"/><circle cx="194.7" cy="181.7" r="3.1"/><circle cx="132.3" cy="175.7" r="3.1"/><circle cx="219.4" cy="182.5" r="3.1"/><circle cx="168.6" cy="175.5" r="3.1"/><circle cx="181.6" cy="191.4" r="3.1"/><circle cx="240.3" cy="197.9" r="3.1"/><circle cx="370.1" cy="223.8" r="3.1"/><circle cx="335.3" cy="211.6" r="3.1"/><circle cx="195.7" cy="188.5" r="3.1"/><circle cx="240.6" cy="200.5" r="3.1"/><circle cx="206" cy="173.7" r="3.1"/><circle cx="164.3" cy="171.3" r="3.1"/><circle cx="170.5" cy="171.5" r="3.1"/><circle cx="224.1" cy="171" r="3.1"/><circle cx="227.4" cy="183.9" r="3.1"/><circle cx="239.1" cy="195" r="3.1"/><circle cx="169.7" cy="182.9" r="3.1"/><circle cx="158" cy="183.3" r="3.1"/><circle cx="261.8" cy="186.7" r="3.1"/><circle cx="150.3" cy="185.2" r="3.1"/><circle cx="185.2" cy="175.9" r="3.1"/><circle cx="140.5" cy="166.8" r="3.1"/><circle cx="335.6" cy="210.7" r="3.1"/><circle cx="180.1" cy="189.1" r="3.1"/><circle cx="193.4" cy="192.9" r="3.1"/><circle cx="150.7" cy="167.8" r="3.1"/><circle cx="163.7" cy="162.3" r="3.1"/><circle cx="131.3" cy="164.9" r="3.1"/><circle cx="172" cy="175" r="3.1"/><circle cx="144.9" cy="171.7" r="3.1"/><circle cx="219.6" cy="175.9" r="3.1"/><circle cx="347" cy="202.8" r="3.1"/><circle cx="190.9" cy="166.9" r="3.1"/><circle cx="211" cy="183.6" r="3.1"/><circle cx="139.4" cy="177.1" r="3.1"/><circle cx="137.3" cy="171.2" r="3.1"/><circle cx="305.8" cy="216.1" r="3.1"/><circle cx="310.4" cy="186.3" r="3.1"/><circle cx="232.1" cy="187.8" r="3.1"/><circle cx="166.4" cy="185.4" r="3.1"/><circle cx="208.9" cy="193.2" r="3.1"/><circle cx="336.5" cy="208.2" r="3.1"/><circle cx="189.1" cy="176" r="3.1"/><circle cx="201.4" cy="189.8" r="3.1"/><circle cx="201.6" cy="187.5" r="3.1"/><circle cx="213.9" cy="189.4" r="3.1"/><circle cx="154.8" cy="170.7" r="3.1"/><circle cx="159.7" cy="174.5" r="3.1"/><circle cx="263.7" cy="209.8" r="3.1"/><circle cx="187" cy="182.5" r="3.1"/><circle cx="309.9" cy="195.5" r="3.1"/><circle cx="128.4" cy="157.6" r="3.1"/><circle cx="132.4" cy="171.9" r="3.1"/><circle cx="270.6" cy="190.7" r="3.1"/><circle cx="176.4" cy="171.6" r="3.1"/><circle cx="245.5" cy="196.1" r="3.1"/><circle cx="128.8" cy="155.9" r="3.1"/><circle cx="164.4" cy="188.4" r="3.1"/><circle cx="199" cy="172.9" r="3.1"/><circle cx="204.5" cy="194" r="3.1"/><circle cx="137.3" cy="155.8" r="3.1"/><circle cx="235.4" cy="199.5" r="3.1"/><circle cx="270.8" cy="214.8" r="3.1"/><circle cx="215.5" cy="185.9" r="3.1"/><circle cx="250.4" cy="205.9" r="3.1"/><circle cx="142.7" cy="178.7" r="3.1"/><circle cx="350.9" cy="207" r="3.1"/><circle cx="166.1" cy="170" r="3.1"/><circle cx="254" cy="196.5" r="3.1"/><circle cx="267.1" cy="197.7" r="3.1"/><circle cx="196.8" cy="193.1" r="3.1"/><circle cx="130.5" cy="162.2" r="3.1"/><circle cx="253.4" cy="184.8" r="3.1"/><circle cx="163.6" cy="183.6" r="3.1"/><circle cx="145.1" cy="161.8" r="3.1"/><circle cx="306.5" cy="194.5" r="3.1"/><circle cx="177" cy="169.2" r="3.1"/><circle cx="200.9" cy="174.6" r="3.1"/><circle cx="322.3" cy="205.6" r="3.1"/><circle cx="238.1" cy="178.2" r="3.1"/><circle cx="209.3" cy="181.7" r="3.1"/><circle cx="182" cy="182.4" r="3.1"/><circle cx="329.8" cy="205.3" r="3.1"/><circle cx="152.7" cy="167" r="3.1"/><circle cx="156.9" cy="182.5" r="3.1"/><circle cx="146.1" cy="178.3" r="3.1"/><circle cx="175.1" cy="169.2" r="3.1"/><circle cx="364.1" cy="223.8" r="3.1"/><circle cx="292.7" cy="212" r="3.1"/><circle cx="340.9" cy="213" r="3.1"/><circle cx="145.7" cy="171.7" r="3.1"/><circle cx="249.1" cy="193.9" r="3.1"/><circle cx="314.8" cy="207" r="3.1"/><circle cx="181" cy="183.3" r="3.1"/><circle cx="334" cy="205" r="3.1"/><circle cx="223.7" cy="194.1" r="3.1"/><circle cx="288.9" cy="190.1" r="3.1"/><circle cx="310.2" cy="198.7" r="3.1"/><circle cx="312.9" cy="199.1" r="3.1"/><circle cx="162.6" cy="187" r="3.1"/><circle cx="199.8" cy="198.6" r="3.1"/><circle cx="126.3" cy="168.1" r="3.1"/><circle cx="262.3" cy="198.1" r="3.1"/><circle cx="274.1" cy="205.6" r="3.1"/><circle cx="157.4" cy="167.1" r="3.1"/><circle cx="251.4" cy="188.8" r="3.1"/><circle cx="276.5" cy="214.2" r="3.1"/><circle cx="333" cy="216.3" r="3.1"/><circle cx="374.3" cy="222.5" r="3.1"/><circle cx="132.9" cy="167.6" r="3.1"/><circle cx="200.1" cy="185.4" r="3.1"/><circle cx="160.5" cy="187.2" r="3.1"/><circle cx="353" cy="208.7" r="3.1"/><circle cx="363.5" cy="217.9" r="3.1"/><circle cx="240.3" cy="207.6" r="3.1"/><circle cx="229.8" cy="175.9" r="3.1"/><circle cx="134.2" cy="171.6" r="3.1"/><circle cx="247.9" cy="193.4" r="3.1"/><circle cx="182.2" cy="178.8" r="3.1"/><circle cx="140.1" cy="157.9" r="3.1"/><circle cx="228.8" cy="183.4" r="3.1"/><circle cx="325.1" cy="217.2" r="3.1"/><circle cx="131.5" cy="166.9" r="3.1"/><circle cx="194.1" cy="186.9" r="3.1"/><circle cx="128.3" cy="160.8" r="3.1"/><circle cx="195.7" cy="184.5" r="3.1"/><circle cx="225.9" cy="176.2" r="3.1"/><circle cx="225" cy="171.4" r="3.1"/><circle cx="166.7" cy="176" r="3.1"/><circle cx="309.9" cy="211.2" r="3.1"/><circle cx="154.2" cy="169.9" r="3.1"/><circle cx="253.5" cy="173.5" r="3.1"/><circle cx="132.3" cy="175.3" r="3.1"/><circle cx="188.6" cy="187.3" r="3.1"/><circle cx="239.8" cy="177.7" r="3.1"/><circle cx="329.9" cy="207.8" r="3.1"/><circle cx="203.1" cy="179.7" r="3.1"/><circle cx="200.7" cy="186.7" r="3.1"/><circle cx="263.4" cy="186" r="3.1"/><circle cx="205.8" cy="190.9" r="3.1"/><circle cx="186.1" cy="192.6" r="3.1"/><circle cx="200.6" cy="177.6" r="3.1"/><circle cx="127.9" cy="177.7" r="3.1"/><circle cx="141.4" cy="181.7" r="3.1"/><circle cx="176.7" cy="177.8" r="3.1"/><circle cx="185.1" cy="184.1" r="3.1"/><circle cx="238.5" cy="199.7" r="3.1"/><circle cx="344.3" cy="219.1" r="3.1"/><circle cx="295" cy="188.6" r="3.1"/><circle cx="273.9" cy="178.7" r="3.1"/><circle cx="137.1" cy="170" r="3.1"/><circle cx="183.7" cy="186.8" r="3.1"/><circle cx="179.6" cy="179.2" r="3.1"/><circle cx="274.2" cy="194.1" r="3.1"/><circle cx="127.1" cy="167.4" r="3.1"/><circle cx="179.2" cy="180.9" r="3.1"/><circle cx="155.6" cy="186.8" r="3.1"/><circle cx="341.5" cy="213.7" r="3.1"/><circle cx="299.4" cy="212.7" r="3.1"/><circle cx="175" cy="180.9" r="3.1"/><circle cx="312.4" cy="205" r="3.1"/><circle cx="178" cy="175.7" r="3.1"/><circle cx="241.7" cy="180.8" r="3.1"/><circle cx="133.1" cy="169.2" r="3.1"/><circle cx="212.8" cy="169.7" r="3.1"/><circle cx="290.9" cy="189.1" r="3.1"/><circle cx="155.2" cy="173.6" r="3.1"/><circle cx="192" cy="177.3" r="3.1"/><circle cx="193.1" cy="178.7" r="3.1"/><circle cx="139.2" cy="163.7" r="3.1"/><circle cx="376.6" cy="221.9" r="3.1"/><circle cx="140.8" cy="177.6" r="3.1"/><circle cx="144.4" cy="167.8" r="3.1"/><circle cx="265" cy="180.7" r="3.1"/><circle cx="175.3" cy="164.3" r="3.1"/><circle cx="170.9" cy="163.4" r="3.1"/><circle cx="146.9" cy="176" r="3.1"/><circle cx="213.4" cy="199.8" r="3.1"/><circle cx="299.2" cy="200.7" r="3.1"/><circle cx="188" cy="182.9" r="3.1"/><circle cx="177.6" cy="186.3" r="3.1"/><circle cx="188.1" cy="162.7" r="3.1"/><circle cx="139" cy="172.3" r="3.1"/><circle cx="163.5" cy="176.8" r="3.1"/><circle cx="153.4" cy="177" r="3.1"/><circle cx="151.7" cy="159.6" r="3.1"/><circle cx="329" cy="200.4" r="3.1"/><circle cx="296" cy="212.8" r="3.1"/><circle cx="204.4" cy="172.4" r="3.1"/><circle cx="127.4" cy="159.5" r="3.1"/><circle cx="163.4" cy="168.3" r="3.1"/><circle cx="258.9" cy="185.4" r="3.1"/><circle cx="246.7" cy="201.3" r="3.1"/><circle cx="299.6" cy="211.7" r="3.1"/><circle cx="190.3" cy="173.6" r="3.1"/><circle cx="170.6" cy="173.7" r="3.1"/><circle cx="211" cy="175" r="3.1"/><circle cx="235.6" cy="183.8" r="3.1"/><circle cx="316.4" cy="216.9" r="3.1"/><circle cx="333.3" cy="215.1" r="3.1"/><circle cx="256.1" cy="191.1" r="3.1"/><circle cx="184.9" cy="187.9" r="3.1"/><circle cx="240.6" cy="181" r="3.1"/><circle cx="191.1" cy="173.4" r="3.1"/><circle cx="290.1" cy="204.3" r="3.1"/><circle cx="143.6" cy="167.7" r="3.1"/><circle cx="324.4" cy="202.4" r="3.1"/><circle cx="163.7" cy="179.7" r="3.1"/><circle cx="184.9" cy="179.6" r="3.1"/><circle cx="201.2" cy="175.6" r="3.1"/><circle cx="364.8" cy="220.5" r="3.1"/><circle cx="174" cy="174.9" r="3.1"/><circle cx="199.8" cy="171" r="3.1"/><circle cx="191.5" cy="190.5" r="3.1"/><circle cx="336.5" cy="204.4" r="3.1"/><circle cx="142.9" cy="177.3" r="3.1"/><circle cx="138.7" cy="172.8" r="3.1"/><circle cx="263" cy="170.7" r="3.1"/><circle cx="150.1" cy="172.9" r="3.1"/><circle cx="126.2" cy="169.5" r="3.1"/><circle cx="248.3" cy="169.2" r="3.1"/><circle cx="228.2" cy="191.6" r="3.1"/><circle cx="174.4" cy="166.3" r="3.1"/><circle cx="252.6" cy="173.4" r="3.1"/><circle cx="170.5" cy="179.3" r="3.1"/><circle cx="272.4" cy="213.9" r="3.1"/><circle cx="162.2" cy="166.9" r="3.1"/><circle cx="353.1" cy="217.9" r="3.1"/><circle cx="161.9" cy="176" r="3.1"/><circle cx="184.9" cy="170.7" r="3.1"/><circle cx="148.4" cy="174" r="3.1"/><circle cx="301.3" cy="204.2" r="3.1"/><circle cx="136.2" cy="175.6" r="3.1"/><circle cx="327" cy="203.1" r="3.1"/><circle cx="296.5" cy="212.2" r="3.1"/><circle cx="215.4" cy="183.8" r="3.1"/><circle cx="187.9" cy="180" r="3.1"/><circle cx="183.1" cy="179" r="3.1"/><circle cx="130.3" cy="166" r="3.1"/><circle cx="166.6" cy="185.6" r="3.1"/><circle cx="180.7" cy="160.7" r="3.1"/><circle cx="161.6" cy="169.3" r="3.1"/><circle cx="338.8" cy="218.5" r="3.1"/><circle cx="257.3" cy="185.5" r="3.1"/><circle cx="228.8" cy="191.1" r="3.1"/><circle cx="130.8" cy="176.1" r="3.1"/><circle cx="220.3" cy="177.2" r="3.1"/><circle cx="218" cy="174.4" r="3.1"/><circle cx="215.7" cy="196.9" r="3.1"/><circle cx="134.4" cy="170.5" r="3.1"/><circle cx="180.7" cy="165.4" r="3.1"/><circle cx="215.9" cy="195" r="3.1"/><circle cx="295.4" cy="202" r="3.1"/><circle cx="133.3" cy="175.6" r="3.1"/><circle cx="168" cy="173.3" r="3.1"/><circle cx="161.3" cy="185.9" r="3.1"/><circle cx="180.3" cy="168.7" r="3.1"/><circle cx="300.2" cy="187.6" r="3.1"/><circle cx="343.8" cy="220.3" r="3.1"/><circle cx="174.9" cy="177.2" r="3.1"/><circle cx="344.9" cy="205.6" r="3.1"/><circle cx="152.4" cy="183" r="3.1"/><circle cx="265.7" cy="172.4" r="3.1"/><circle cx="245.7" cy="208.2" r="3.1"/><circle cx="166.8" cy="189.4" r="3.1"/><circle cx="144.8" cy="185.8" r="3.1"/><circle cx="230.5" cy="197.6" r="3.1"/><circle cx="244.3" cy="191.9" r="3.1"/><circle cx="221.8" cy="183" r="3.1"/><circle cx="286.3" cy="194.9" r="3.1"/><circle cx="194.8" cy="175" r="3.1"/><circle cx="249.8" cy="188.1" r="3.1"/><circle cx="336.2" cy="209.6" r="3.1"/><circle cx="204" cy="194.2" r="3.1"/><circle cx="131.7" cy="165.9" r="3.1"/><circle cx="218.8" cy="170.2" r="3.1"/><circle cx="153.8" cy="170.7" r="3.1"/><circle cx="185.3" cy="177.4" r="3.1"/><circle cx="160" cy="162.3" r="3.1"/><circle cx="236" cy="194" r="3.1"/><circle cx="230.4" cy="202.7" r="3.1"/><circle cx="147.3" cy="174.9" r="3.1"/><circle cx="192.7" cy="184.8" r="3.1"/><circle cx="197.3" cy="184.8" r="3.1"/><circle cx="145" cy="166.9" r="3.1"/><circle cx="157.1" cy="172.7" r="3.1"/><circle cx="129.5" cy="157.2" r="3.1"/><circle cx="192.3" cy="171.3" r="3.1"/><circle cx="160.3" cy="162.4" r="3.1"/><circle cx="359.8" cy="212.5" r="3.1"/><circle cx="350" cy="218.5" r="3.1"/><circle cx="227.3" cy="167.3" r="3.1"/><circle cx="263.5" cy="199.8" r="3.1"/><circle cx="149.6" cy="158.6" r="3.1"/><circle cx="216.4" cy="202.5" r="3.1"/><circle cx="175.6" cy="184.3" r="3.1"/><circle cx="155.4" cy="162" r="3.1"/><circle cx="256.3" cy="178" r="3.1"/><circle cx="158.1" cy="186.5" r="3.1"/><circle cx="162.3" cy="182.9" r="3.1"/><circle cx="281.8" cy="187.6" r="3.1"/><circle cx="199.7" cy="192.6" r="3.1"/><circle cx="361.3" cy="220.1" r="3.1"/><circle cx="153.7" cy="177.6" r="3.1"/><circle cx="362.9" cy="219.1" r="3.1"/><circle cx="279.9" cy="182.5" r="3.1"/><circle cx="161.6" cy="186.1" r="3.1"/><circle cx="307.7" cy="204.5" r="3.1"/><circle cx="340.9" cy="209.8" r="3.1"/><circle cx="211.4" cy="182.5" r="3.1"/><circle cx="127.6" cy="168.6" r="3.1"/><circle cx="132.7" cy="159" r="3.1"/><circle cx="252.3" cy="195" r="3.1"/><circle cx="214.7" cy="188.6" r="3.1"/><circle cx="228.3" cy="190.6" r="3.1"/><circle cx="186.9" cy="173.7" r="3.1"/><circle cx="235" cy="190.1" r="3.1"/><circle cx="221.7" cy="181.2" r="3.1"/><circle cx="361" cy="215.2" r="3.1"/><circle cx="311.2" cy="185.9" r="3.1"/><circle cx="264.9" cy="183.2" r="3.1"/><circle cx="312.6" cy="197.8" r="3.1"/><circle cx="177.7" cy="188" r="3.1"/><circle cx="198.4" cy="190.4" r="3.1"/><circle cx="144.4" cy="166.4" r="3.1"/><circle cx="183.5" cy="192.4" r="3.1"/><circle cx="191.4" cy="189.1" r="3.1"/><circle cx="167.9" cy="167.8" r="3.1"/><circle cx="156.4" cy="171.6" r="3.1"/><circle cx="217.9" cy="175.3" r="3.1"/><circle cx="209.9" cy="178" r="3.1"/><circle cx="143.6" cy="173" r="3.1"/><circle cx="164.3" cy="175" r="3.1"/><circle cx="354.5" cy="212.3" r="3.1"/><circle cx="148.7" cy="169.5" r="3.1"/><circle cx="129.2" cy="160.2" r="3.1"/><circle cx="160.5" cy="182.7" r="3.1"/><circle cx="188.6" cy="186.3" r="3.1"/><circle cx="233" cy="190.8" r="3.1"/><circle cx="317.2" cy="200.8" r="3.1"/><circle cx="296.7" cy="217.7" r="3.1"/><circle cx="179.6" cy="172.4" r="3.1"/><circle cx="275.6" cy="207.7" r="3.1"/><circle cx="341.1" cy="205.3" r="3.1"/><circle cx="207.4" cy="172.6" r="3.1"/><circle cx="214.4" cy="197.7" r="3.1"/><circle cx="190.6" cy="175.3" r="3.1"/><circle cx="182.2" cy="165.6" r="3.1"/><circle cx="323.9" cy="200.6" r="3.1"/><circle cx="221.5" cy="167.1" r="3.1"/><circle cx="137.9" cy="160.6" r="3.1"/><circle cx="236.6" cy="209.1" r="3.1"/><circle cx="309.7" cy="187.2" r="3.1"/><circle cx="266.2" cy="198.2" r="3.1"/><circle cx="220.5" cy="203.9" r="3.1"/><circle cx="288" cy="211.1" r="3.1"/><circle cx="270.7" cy="194.9" r="3.1"/><circle cx="267.7" cy="188.4" r="3.1"/><circle cx="205.7" cy="182.8" r="3.1"/><circle cx="226.4" cy="190.8" r="3.1"/><circle cx="218.8" cy="182" r="3.1"/><circle cx="295.8" cy="204.5" r="3.1"/><circle cx="208" cy="183.8" r="3.1"/><circle cx="264.4" cy="199" r="3.1"/><circle cx="234" cy="181" r="3.1"/><circle cx="185.6" cy="192.6" r="3.1"/><circle cx="357.4" cy="218" r="3.1"/><circle cx="153.9" cy="156.7" r="3.1"/><circle cx="165.5" cy="172.1" r="3.1"/><circle cx="183.5" cy="165" r="3.1"/><circle cx="321.1" cy="211.9" r="3.1"/><circle cx="129" cy="163.3" r="3.1"/><circle cx="303.8" cy="206.1" r="3.1"/><circle cx="167.9" cy="173.7" r="3.1"/><circle cx="180.5" cy="176.8" r="3.1"/><circle cx="216.5" cy="189.6" r="3.1"/><circle cx="358.3" cy="214.5" r="3.1"/><circle cx="246.2" cy="186.3" r="3.1"/><circle cx="286.5" cy="202.5" r="3.1"/><circle cx="331.4" cy="208.5" r="3.1"/><circle cx="236.9" cy="195.8" r="3.1"/><circle cx="152.2" cy="177.7" r="3.1"/><circle cx="269" cy="215.4" r="3.1"/><circle cx="145.9" cy="175.1" r="3.1"/><circle cx="208.9" cy="179" r="3.1"/><circle cx="279.4" cy="196.4" r="3.1"/><circle cx="189.5" cy="197.2" r="3.1"/><circle cx="165.7" cy="159.8" r="3.1"/><circle cx="212" cy="193.1" r="3.1"/><circle cx="195.2" cy="182.6" r="3.1"/><circle cx="358.4" cy="217.7" r="3.1"/><circle cx="260.8" cy="194.3" r="3.1"/><circle cx="346.2" cy="213.2" r="3.1"/><circle cx="169" cy="180.6" r="3.1"/><circle cx="195.4" cy="166" r="3.1"/><circle cx="353.2" cy="220.1" r="3.1"/><circle cx="207.9" cy="193.8" r="3.1"/><circle cx="280.9" cy="201.7" r="3.1"/><circle cx="242.8" cy="187.4" r="3.1"/><circle cx="179.9" cy="186.2" r="3.1"/><circle cx="197.5" cy="187" r="3.1"/><circle cx="156.5" cy="171.4" r="3.1"/><circle cx="207.8" cy="167.4" r="3.1"/><circle cx="206.4" cy="183.4" r="3.1"/><circle cx="276.8" cy="180.3" r="3.1"/><circle cx="203.9" cy="186.2" r="3.1"/><circle cx="330.1" cy="213.2" r="3.1"/><circle cx="351.2" cy="215.3" r="3.1"/><circle cx="354.1" cy="218.3" r="3.1"/><circle cx="175.9" cy="171" r="3.1"/><circle cx="182.1" cy="171.4" r="3.1"/><circle cx="333.4" cy="220.3" r="3.1"/><circle cx="265.9" cy="194.9" r="3.1"/><circle cx="320.5" cy="209.9" r="3.1"/><circle cx="208.1" cy="198.2" r="3.1"/><circle cx="234.7" cy="189.3" r="3.1"/><circle cx="170.2" cy="175" r="3.1"/><circle cx="259.8" cy="199.2" r="3.1"/><circle cx="152.1" cy="167.6" r="3.1"/><circle cx="222.3" cy="175.3" r="3.1"/><circle cx="150.7" cy="178.1" r="3.1"/><circle cx="135.6" cy="174.6" r="3.1"/><circle cx="284" cy="216.8" r="3.1"/><circle cx="130.9" cy="160.6" r="3.1"/><circle cx="210.9" cy="186.4" r="3.1"/><circle cx="277.2" cy="205.4" r="3.1"/><circle cx="269.4" cy="201.1" r="3.1"/><circle cx="212.1" cy="176.7" r="3.1"/><circle cx="142.5" cy="168.8" r="3.1"/><circle cx="318.2" cy="209" r="3.1"/><circle cx="224.8" cy="168.1" r="3.1"/><circle cx="147.9" cy="172" r="3.1"/><circle cx="180.6" cy="174" r="3.1"/><circle cx="147.4" cy="173.4" r="3.1"/><circle cx="205.1" cy="181.6" r="3.1"/><circle cx="306.3" cy="190.8" r="3.1"/><circle cx="144.9" cy="164.3" r="3.1"/><circle cx="294.1" cy="177.4" r="3.1"/><circle cx="127.6" cy="168.8" r="3.1"/><circle cx="155.4" cy="180.4" r="3.1"/><circle cx="294.5" cy="195.3" r="3.1"/><circle cx="239.3" cy="184.5" r="3.1"/><circle cx="136.6" cy="170.5" r="3.1"/><circle cx="257" cy="194.8" r="3.1"/><circle cx="162.3" cy="171.9" r="3.1"/><circle cx="168.9" cy="181.2" r="3.1"/><circle cx="155.8" cy="159.8" r="3.1"/><circle cx="204.4" cy="179.3" r="3.1"/><circle cx="166.9" cy="172.6" r="3.1"/><circle cx="178.3" cy="173" r="3.1"/><circle cx="246" cy="170.5" r="3.1"/><circle cx="193.4" cy="168.1" r="3.1"/><circle cx="228.6" cy="185.1" r="3.1"/><circle cx="292.3" cy="204.6" r="3.1"/><circle cx="263.4" cy="188.1" r="3.1"/><circle cx="249.5" cy="208.3" r="3.1"/><circle cx="161.1" cy="176" r="3.1"/><circle cx="208.5" cy="190.7" r="3.1"/><circle cx="153.8" cy="168.8" r="3.1"/><circle cx="368.6" cy="219.6" r="3.1"/><circle cx="150.6" cy="173.9" r="3.1"/><circle cx="172.5" cy="177.8" r="3.1"/><circle cx="254.5" cy="192.9" r="3.1"/><circle cx="171.7" cy="188.1" r="3.1"/><circle cx="207.2" cy="185.2" r="3.1"/><circle cx="236.3" cy="190.1" r="3.1"/><circle cx="170.1" cy="169.2" r="3.1"/><circle cx="233.8" cy="188.8" r="3.1"/><circle cx="193.6" cy="184.5" r="3.1"/><circle cx="159.9" cy="163.8" r="3.1"/><circle cx="274.6" cy="176.6" r="3.1"/><circle cx="140" cy="160.8" r="3.1"/><circle cx="210.5" cy="183.4" r="3.1"/><circle cx="237.1" cy="198.6" r="3.1"/><circle cx="179.9" cy="174.5" r="3.1"/><circle cx="179.7" cy="189.7" r="3.1"/><circle cx="156.3" cy="180.7" r="3.1"/><circle cx="139.5" cy="162.7" r="3.1"/><circle cx="214.7" cy="190.4" r="3.1"/><circle cx="149.4" cy="184.7" r="3.1"/><circle cx="174.9" cy="187.7" r="3.1"/><circle cx="157" cy="155" r="3.1"/><circle cx="206" cy="160" r="3.1"/><circle cx="196.4" cy="160" r="3.1"/><circle cx="255" cy="156.6" r="3.1"/><circle cx="264" cy="162" r="3.1"/><circle cx="313" cy="170" r="3.1"/><circle cx="316" cy="183" r="3.1"/><circle cx="170" cy="158" r="3.1"/><circle cx="290" cy="170" r="3.1"/><circle cx="175.6" cy="197.6" r="3.1"/><circle cx="383" cy="227" r="3.1"/><circle cx="390" cy="227" r="3.1"/><circle cx="391" cy="232" r="3.1"/><circle cx="399" cy="231" r="3.1"/><circle cx="411" cy="230" r="3.1"/><circle cx="418" cy="232" r="3.1"/><circle cx="420" cy="235" r="3.1"/><circle cx="423" cy="236" r="3.1"/><circle cx="428" cy="235" r="3.1"/><circle cx="433" cy="230" r="3.1"/><circle cx="443" cy="239" r="3.1"/><circle cx="447" cy="235" r="3.1"/><circle cx="448" cy="240" r="3.1"/><circle cx="456" cy="238" r="3.1"/><circle cx="461" cy="236.6" r="3.1"/><circle cx="474" cy="245" r="3.1"/><circle cx="489" cy="248.8" r="3.1"/><circle cx="496" cy="252" r="3.1"/><circle cx="497" cy="253.6" r="3.1"/><circle cx="506" cy="252" r="3.1"/><circle cx="507" cy="255" r="3.1"/><circle cx="512" cy="258" r="3.1"/><circle cx="517" cy="256" r="3.1"/><circle cx="519" cy="260" r="3.1"/><circle cx="529" cy="267" r="3.1"/><circle cx="536" cy="266" r="3.1"/><circle cx="537" cy="268.6" r="3.1"/><circle cx="539" cy="271" r="3.1"/><circle cx="543" cy="272" r="3.1"/><circle cx="548" cy="273" r="3.1"/><circle cx="560" cy="281.4" r="3.1"/><circle cx="560" cy="283.4" r="3.1"/><circle cx="564" cy="283" r="3.1"/><circle cx="574" cy="290" r="3.1"/><circle cx="587" cy="304" r="3.1"/><circle cx="589" cy="307.4" r="3.1"/></g>
<g fill="#00ff1e"><rect x="590" y="309" width="5" height="5" rx="1"/></g>
<g fill="#ff1a00"><circle cx="306" cy="125.1" r="3.1"/><circle cx="200.7" cy="126" r="3.1"/><circle cx="139.5" cy="106" r="3.1"/><circle cx="135.8" cy="123.3" r="3.1"/><circle cx="230.5" cy="129.1" r="3.1"/><circle cx="151.4" cy="110.7" r="3.1"/><circle cx="126.4" cy="119.9" r="3.1"/><circle cx="257.8" cy="115" r="3.1"/><circle cx="186.7" cy="102.1" r="3.1"/><circle cx="312" cy="151" r="3.1"/><circle cx="332" cy="132.9" r="3.1"/><circle cx="366.4" cy="149.4" r="3.1"/><circle cx="216.8" cy="131.7" r="3.1"/><circle cx="206.6" cy="119.3" r="3.1"/><circle cx="374.1" cy="151.3" r="3.1"/><circle cx="155.8" cy="114.9" r="3.1"/><circle cx="225.6" cy="115.3" r="3.1"/><circle cx="234.9" cy="132.2" r="3.1"/><circle cx="343.9" cy="135" r="3.1"/><circle cx="191.7" cy="129.7" r="3.1"/><circle cx="158" cy="117.1" r="3.1"/><circle cx="324.7" cy="146.3" r="3.1"/><circle cx="184.9" cy="113.5" r="3.1"/><circle cx="324.6" cy="130.2" r="3.1"/><circle cx="309.1" cy="133.6" r="3.1"/><circle cx="177.9" cy="129" r="3.1"/><circle cx="135.8" cy="110.7" r="3.1"/><circle cx="223.7" cy="122.3" r="3.1"/><circle cx="173.1" cy="120.6" r="3.1"/><circle cx="129.9" cy="112.2" r="3.1"/><circle cx="244.6" cy="130.2" r="3.1"/><circle cx="175.3" cy="109.7" r="3.1"/><circle cx="299.4" cy="130.2" r="3.1"/><circle cx="229" cy="116.3" r="3.1"/><circle cx="168.8" cy="118.4" r="3.1"/><circle cx="204" cy="124.6" r="3.1"/><circle cx="168.4" cy="98.1" r="3.1"/><circle cx="173.2" cy="107.6" r="3.1"/><circle cx="173.4" cy="111.4" r="3.1"/><circle cx="194.6" cy="115.7" r="3.1"/><circle cx="340.2" cy="131.9" r="3.1"/><circle cx="140.6" cy="127.5" r="3.1"/><circle cx="134.6" cy="111.8" r="3.1"/><circle cx="156.7" cy="125.8" r="3.1"/><circle cx="202.9" cy="119" r="3.1"/><circle cx="368" cy="153" r="3.1"/><circle cx="261.7" cy="132.1" r="3.1"/><circle cx="170.7" cy="106.6" r="3.1"/><circle cx="129.3" cy="96.1" r="3.1"/><circle cx="193.6" cy="109.8" r="3.1"/><circle cx="152.9" cy="111.9" r="3.1"/><circle cx="154.3" cy="97.2" r="3.1"/><circle cx="141.2" cy="109.2" r="3.1"/><circle cx="148.2" cy="110" r="3.1"/><circle cx="158.9" cy="99.3" r="3.1"/><circle cx="136.4" cy="115.5" r="3.1"/><circle cx="145.2" cy="99.5" r="3.1"/><circle cx="127.6" cy="127.1" r="3.1"/><circle cx="178.3" cy="112.6" r="3.1"/><circle cx="184.4" cy="128.2" r="3.1"/><circle cx="144.4" cy="99.2" r="3.1"/><circle cx="160.5" cy="99" r="3.1"/><circle cx="136.5" cy="102.9" r="3.1"/><circle cx="172.4" cy="102.6" r="3.1"/><circle cx="148.5" cy="119.6" r="3.1"/><circle cx="210" cy="117.7" r="3.1"/><circle cx="251.5" cy="125.1" r="3.1"/><circle cx="163.9" cy="110.9" r="3.1"/><circle cx="188.7" cy="124" r="3.1"/><circle cx="212.3" cy="108.1" r="3.1"/><circle cx="197.6" cy="114.4" r="3.1"/><circle cx="153.8" cy="119.2" r="3.1"/><circle cx="143.2" cy="117.1" r="3.1"/><circle cx="135.9" cy="122" r="3.1"/><circle cx="141.9" cy="118.3" r="3.1"/><circle cx="244.2" cy="131.9" r="3.1"/><circle cx="256.7" cy="124.4" r="3.1"/><circle cx="183.2" cy="114.3" r="3.1"/><circle cx="226.6" cy="116.3" r="3.1"/><circle cx="133.7" cy="98.1" r="3.1"/><circle cx="136.1" cy="113.4" r="3.1"/><circle cx="164.4" cy="102.8" r="3.1"/><circle cx="253.6" cy="110.3" r="3.1"/><circle cx="269.6" cy="132.5" r="3.1"/><circle cx="164.4" cy="120.2" r="3.1"/><circle cx="168.6" cy="129.5" r="3.1"/><circle cx="192.4" cy="119.3" r="3.1"/><circle cx="257.8" cy="117.1" r="3.1"/><circle cx="204.2" cy="113.7" r="3.1"/><circle cx="191.8" cy="111.8" r="3.1"/><circle cx="179.6" cy="119.3" r="3.1"/><circle cx="219.9" cy="124.2" r="3.1"/><circle cx="253.2" cy="132.3" r="3.1"/><circle cx="188.1" cy="135.6" r="3.1"/><circle cx="174.5" cy="99.1" r="3.1"/><circle cx="187.7" cy="128.3" r="3.1"/><circle cx="168.6" cy="101.1" r="3.1"/><circle cx="229.9" cy="130.7" r="3.1"/><circle cx="133.2" cy="95.8" r="3.1"/><circle cx="179.8" cy="101.9" r="3.1"/><circle cx="131.5" cy="108.6" r="3.1"/><circle cx="300.5" cy="134.4" r="3.1"/><circle cx="165.9" cy="117.5" r="3.1"/><circle cx="387.8" cy="157.4" r="3.1"/><circle cx="196.4" cy="131.7" r="3.1"/><circle cx="188" cy="100.1" r="3.1"/><circle cx="229.2" cy="136.1" r="3.1"/><circle cx="135.4" cy="101.3" r="3.1"/><circle cx="305" cy="139.8" r="3.1"/><circle cx="338.2" cy="148" r="3.1"/><circle cx="179" cy="108.5" r="3.1"/><circle cx="197.2" cy="124.1" r="3.1"/><circle cx="138" cy="106" r="3.1"/><circle cx="202.8" cy="128.4" r="3.1"/><circle cx="248.7" cy="119.7" r="3.1"/><circle cx="362.3" cy="149.8" r="3.1"/><circle cx="184.6" cy="118" r="3.1"/><circle cx="171.5" cy="115.8" r="3.1"/><circle cx="176" cy="123.2" r="3.1"/><circle cx="220.2" cy="107.2" r="3.1"/><circle cx="221.8" cy="134.7" r="3.1"/><circle cx="215.7" cy="128.2" r="3.1"/><circle cx="250.3" cy="131.5" r="3.1"/><circle cx="302.1" cy="149.7" r="3.1"/><circle cx="174.6" cy="104" r="3.1"/><circle cx="262.2" cy="129.4" r="3.1"/><circle cx="197.6" cy="120.7" r="3.1"/><circle cx="239.4" cy="124.5" r="3.1"/><circle cx="216.5" cy="127.1" r="3.1"/><circle cx="364.9" cy="151.9" r="3.1"/><circle cx="194.4" cy="119.3" r="3.1"/><circle cx="176.5" cy="106.1" r="3.1"/><circle cx="226.5" cy="124.5" r="3.1"/><circle cx="325" cy="127.6" r="3.1"/><circle cx="166.4" cy="109.7" r="3.1"/><circle cx="156.9" cy="112.3" r="3.1"/><circle cx="143.3" cy="100.7" r="3.1"/><circle cx="239.9" cy="120.6" r="3.1"/><circle cx="179.1" cy="104.3" r="3.1"/><circle cx="194.2" cy="110.6" r="3.1"/><circle cx="257.4" cy="139.6" r="3.1"/><circle cx="250.3" cy="134.6" r="3.1"/><circle cx="370.5" cy="153.3" r="3.1"/><circle cx="322" cy="150.1" r="3.1"/><circle cx="177.3" cy="114.5" r="3.1"/><circle cx="313.8" cy="143.8" r="3.1"/><circle cx="209.9" cy="125.1" r="3.1"/><circle cx="128.5" cy="101.9" r="3.1"/><circle cx="182.5" cy="103.2" r="3.1"/><circle cx="271.6" cy="121" r="3.1"/><circle cx="140.7" cy="118.9" r="3.1"/><circle cx="153.6" cy="111.2" r="3.1"/><circle cx="271.1" cy="116" r="3.1"/><circle cx="306.8" cy="128.2" r="3.1"/><circle cx="151.7" cy="108.5" r="3.1"/><circle cx="235.8" cy="131.7" r="3.1"/><circle cx="193.1" cy="114.4" r="3.1"/><circle cx="182.2" cy="118.5" r="3.1"/><circle cx="163.1" cy="102.6" r="3.1"/><circle cx="238.8" cy="133.2" r="3.1"/><circle cx="207" cy="101.9" r="3.1"/><circle cx="131.7" cy="108" r="3.1"/><circle cx="145.4" cy="119.3" r="3.1"/><circle cx="199.2" cy="112" r="3.1"/><circle cx="195.4" cy="124.6" r="3.1"/><circle cx="222.8" cy="120.4" r="3.1"/><circle cx="311.5" cy="142.2" r="3.1"/><circle cx="200.8" cy="112.3" r="3.1"/><circle cx="192.1" cy="106.9" r="3.1"/><circle cx="302.4" cy="133.7" r="3.1"/><circle cx="266.8" cy="135" r="3.1"/><circle cx="130.8" cy="107.3" r="3.1"/><circle cx="180.4" cy="115" r="3.1"/><circle cx="185.8" cy="108.2" r="3.1"/><circle cx="197.2" cy="131.4" r="3.1"/><circle cx="179.5" cy="96.4" r="3.1"/><circle cx="240.3" cy="117.2" r="3.1"/><circle cx="346.2" cy="141.9" r="3.1"/><circle cx="194.9" cy="123.5" r="3.1"/><circle cx="158.7" cy="124.2" r="3.1"/><circle cx="155.6" cy="116.1" r="3.1"/><circle cx="177.3" cy="112.1" r="3.1"/><circle cx="357.3" cy="143" r="3.1"/><circle cx="188.9" cy="123.2" r="3.1"/><circle cx="136.2" cy="114.9" r="3.1"/><circle cx="183.8" cy="114.1" r="3.1"/><circle cx="156.9" cy="105.9" r="3.1"/><circle cx="173.1" cy="123.5" r="3.1"/><circle cx="133.8" cy="109.6" r="3.1"/><circle cx="149" cy="108.9" r="3.1"/><circle cx="263.5" cy="130" r="3.1"/><circle cx="185.5" cy="108.4" r="3.1"/><circle cx="222.6" cy="134.8" r="3.1"/><circle cx="177.1" cy="111.4" r="3.1"/><circle cx="354.1" cy="142.9" r="3.1"/><circle cx="204.2" cy="107.8" r="3.1"/><circle cx="299.8" cy="133.8" r="3.1"/><circle cx="170.7" cy="108.9" r="3.1"/><circle cx="143.7" cy="94.9" r="3.1"/><circle cx="294.4" cy="148.4" r="3.1"/><circle cx="224.4" cy="111.5" r="3.1"/><circle cx="165.7" cy="104.8" r="3.1"/><circle cx="148.3" cy="110.9" r="3.1"/><circle cx="136.9" cy="101.4" r="3.1"/><circle cx="184.7" cy="109.7" r="3.1"/><circle cx="221.5" cy="133.5" r="3.1"/><circle cx="189.2" cy="112.9" r="3.1"/><circle cx="164" cy="114.2" r="3.1"/><circle cx="210" cy="134.5" r="3.1"/><circle cx="176.1" cy="109.5" r="3.1"/><circle cx="190.8" cy="123.8" r="3.1"/><circle cx="215.5" cy="123.2" r="3.1"/><circle cx="130.4" cy="109.3" r="3.1"/><circle cx="235.5" cy="122.1" r="3.1"/><circle cx="349.6" cy="141.9" r="3.1"/><circle cx="128.1" cy="94.9" r="3.1"/><circle cx="126.4" cy="86.3" r="3.1"/><circle cx="253" cy="128" r="3.1"/><circle cx="391.2" cy="158" r="3.1"/><circle cx="249.4" cy="133.8" r="3.1"/><circle cx="340.8" cy="142.7" r="3.1"/><circle cx="214.2" cy="112.5" r="3.1"/><circle cx="164.3" cy="122.7" r="3.1"/><circle cx="238.8" cy="115.9" r="3.1"/><circle cx="199.3" cy="126.4" r="3.1"/><circle cx="129.5" cy="105.5" r="3.1"/><circle cx="156.3" cy="107.1" r="3.1"/><circle cx="208.5" cy="131.2" r="3.1"/><circle cx="317.5" cy="131.9" r="3.1"/><circle cx="167.3" cy="124.4" r="3.1"/><circle cx="225.3" cy="125.9" r="3.1"/><circle cx="173.5" cy="124.3" r="3.1"/><circle cx="187.2" cy="101" r="3.1"/><circle cx="189.7" cy="117.3" r="3.1"/><circle cx="219.8" cy="117.4" r="3.1"/><circle cx="152" cy="96.3" r="3.1"/><circle cx="174.5" cy="108.9" r="3.1"/><circle cx="174.2" cy="110.8" r="3.1"/><circle cx="169.9" cy="107.1" r="3.1"/><circle cx="168.6" cy="130" r="3.1"/><circle cx="155.8" cy="121.5" r="3.1"/><circle cx="289.8" cy="132.7" r="3.1"/><circle cx="332.5" cy="141.9" r="3.1"/><circle cx="127.7" cy="120.2" r="3.1"/><circle cx="185" cy="106.5" r="3.1"/><circle cx="208.9" cy="123.2" r="3.1"/><circle cx="136.2" cy="119.1" r="3.1"/><circle cx="237.3" cy="122.1" r="3.1"/><circle cx="192.4" cy="122.6" r="3.1"/><circle cx="151.6" cy="116.6" r="3.1"/><circle cx="130" cy="117.3" r="3.1"/><circle cx="265.3" cy="135.5" r="3.1"/><circle cx="374.3" cy="149.9" r="3.1"/><circle cx="369.4" cy="151.7" r="3.1"/><circle cx="246.9" cy="138.3" r="3.1"/><circle cx="168.6" cy="103.1" r="3.1"/><circle cx="269.5" cy="137" r="3.1"/><circle cx="181.2" cy="114.2" r="3.1"/><circle cx="200" cy="124.7" r="3.1"/><circle cx="274.7" cy="123.1" r="3.1"/><circle cx="138.3" cy="101.3" r="3.1"/><circle cx="175.3" cy="114.3" r="3.1"/><circle cx="127.3" cy="102.6" r="3.1"/><circle cx="171.5" cy="115.7" r="3.1"/><circle cx="253" cy="139.9" r="3.1"/><circle cx="229.8" cy="128.5" r="3.1"/><circle cx="172.8" cy="96.2" r="3.1"/><circle cx="208.5" cy="114.8" r="3.1"/><circle cx="230.7" cy="123.6" r="3.1"/><circle cx="211.5" cy="112.1" r="3.1"/><circle cx="146.4" cy="106.6" r="3.1"/><circle cx="346.4" cy="140.6" r="3.1"/><circle cx="169.1" cy="131.7" r="3.1"/><circle cx="151.6" cy="103.5" r="3.1"/><circle cx="201.4" cy="105.7" r="3.1"/><circle cx="145" cy="109.1" r="3.1"/><circle cx="265.5" cy="121.3" r="3.1"/><circle cx="243.7" cy="132.1" r="3.1"/><circle cx="238.4" cy="116.6" r="3.1"/><circle cx="145" cy="103.7" r="3.1"/><circle cx="213.9" cy="132.7" r="3.1"/><circle cx="152.9" cy="103.5" r="3.1"/><circle cx="180.8" cy="106.2" r="3.1"/><circle cx="247.4" cy="125" r="3.1"/><circle cx="255.4" cy="113.9" r="3.1"/><circle cx="148.8" cy="94.8" r="3.1"/><circle cx="348.6" cy="139.5" r="3.1"/><circle cx="165.2" cy="97.7" r="3.1"/><circle cx="303.6" cy="134.8" r="3.1"/><circle cx="281.5" cy="123.3" r="3.1"/><circle cx="216.3" cy="116.7" r="3.1"/><circle cx="206.3" cy="106.6" r="3.1"/><circle cx="278.8" cy="128.1" r="3.1"/><circle cx="221.6" cy="111.7" r="3.1"/><circle cx="166.9" cy="100.9" r="3.1"/><circle cx="132.7" cy="93.3" r="3.1"/><circle cx="238.6" cy="137.8" r="3.1"/><circle cx="203.6" cy="121.1" r="3.1"/><circle cx="311.3" cy="135.9" r="3.1"/><circle cx="298.1" cy="145.3" r="3.1"/><circle cx="160.4" cy="117.3" r="3.1"/><circle cx="357.1" cy="151.1" r="3.1"/><circle cx="319.2" cy="141.3" r="3.1"/><circle cx="277.9" cy="134.9" r="3.1"/><circle cx="207.2" cy="113.4" r="3.1"/><circle cx="160" cy="107.5" r="3.1"/><circle cx="154" cy="114.5" r="3.1"/><circle cx="214.2" cy="138.3" r="3.1"/><circle cx="289.8" cy="140.6" r="3.1"/><circle cx="222.2" cy="108.1" r="3.1"/><circle cx="174.6" cy="118.9" r="3.1"/><circle cx="389" cy="157.2" r="3.1"/><circle cx="133.4" cy="118.9" r="3.1"/><circle cx="203" cy="120.9" r="3.1"/><circle cx="140.4" cy="98.1" r="3.1"/><circle cx="319.1" cy="149" r="3.1"/><circle cx="138.3" cy="123.7" r="3.1"/><circle cx="210.1" cy="114.4" r="3.1"/><circle cx="162.7" cy="119.8" r="3.1"/><circle cx="137.6" cy="101.3" r="3.1"/><circle cx="126.4" cy="113.4" r="3.1"/><circle cx="243.4" cy="137.9" r="3.1"/><circle cx="133.8" cy="110.9" r="3.1"/><circle cx="184" cy="108.3" r="3.1"/><circle cx="165.3" cy="103.8" r="3.1"/><circle cx="201.2" cy="111.8" r="3.1"/><circle cx="232.5" cy="112.9" r="3.1"/><circle cx="352.4" cy="138.3" r="3.1"/><circle cx="186.3" cy="101.1" r="3.1"/><circle cx="208.2" cy="119.1" r="3.1"/><circle cx="352.5" cy="138" r="3.1"/><circle cx="339.4" cy="133.5" r="3.1"/><circle cx="205.1" cy="123.4" r="3.1"/><circle cx="138.3" cy="96.4" r="3.1"/><circle cx="143.4" cy="113.1" r="3.1"/><circle cx="384.9" cy="155.2" r="3.1"/><circle cx="175.9" cy="115.3" r="3.1"/><circle cx="220.7" cy="106.4" r="3.1"/><circle cx="196.8" cy="124.2" r="3.1"/><circle cx="194.1" cy="104.1" r="3.1"/><circle cx="278.8" cy="142.3" r="3.1"/><circle cx="142.3" cy="114.9" r="3.1"/><circle cx="155.8" cy="118.7" r="3.1"/><circle cx="224.5" cy="126.4" r="3.1"/><circle cx="160.6" cy="127.5" r="3.1"/><circle cx="267.5" cy="122.4" r="3.1"/><circle cx="149.1" cy="104.3" r="3.1"/><circle cx="342.2" cy="132" r="3.1"/><circle cx="252.4" cy="120.6" r="3.1"/><circle cx="183.2" cy="129.4" r="3.1"/><circle cx="315.6" cy="132.1" r="3.1"/><circle cx="279.3" cy="129.6" r="3.1"/><circle cx="179.4" cy="118.9" r="3.1"/><circle cx="197.9" cy="112.9" r="3.1"/><circle cx="184.4" cy="117.9" r="3.1"/><circle cx="150.2" cy="105.9" r="3.1"/><circle cx="176.1" cy="116" r="3.1"/><circle cx="189.7" cy="126.1" r="3.1"/><circle cx="221" cy="126.6" r="3.1"/><circle cx="156.3" cy="104" r="3.1"/><circle cx="140.4" cy="100.4" r="3.1"/><circle cx="146.9" cy="107.5" r="3.1"/><circle cx="152.7" cy="111" r="3.1"/><circle cx="158.5" cy="108.9" r="3.1"/><circle cx="208" cy="129.9" r="3.1"/><circle cx="155" cy="103.3" r="3.1"/><circle cx="128.8" cy="104.2" r="3.1"/><circle cx="141.3" cy="126.4" r="3.1"/><circle cx="219.3" cy="129.4" r="3.1"/><circle cx="149" cy="111.3" r="3.1"/><circle cx="347.7" cy="142.6" r="3.1"/><circle cx="193.3" cy="102.2" r="3.1"/><circle cx="271.9" cy="146" r="3.1"/><circle cx="165.3" cy="131.6" r="3.1"/><circle cx="334.2" cy="124.4" r="3.1"/><circle cx="204.1" cy="126.9" r="3.1"/><circle cx="291.8" cy="133.9" r="3.1"/><circle cx="197.3" cy="122.3" r="3.1"/><circle cx="359" cy="145.1" r="3.1"/><circle cx="332.9" cy="148.7" r="3.1"/><circle cx="218.8" cy="117.6" r="3.1"/><circle cx="306.1" cy="121.8" r="3.1"/><circle cx="293.9" cy="121.1" r="3.1"/><circle cx="218.2" cy="124.3" r="3.1"/><circle cx="216" cy="114.1" r="3.1"/><circle cx="211.3" cy="126.1" r="3.1"/><circle cx="162.2" cy="98.7" r="3.1"/><circle cx="183.9" cy="113.6" r="3.1"/><circle cx="313.4" cy="131.1" r="3.1"/><circle cx="233.2" cy="129.2" r="3.1"/><circle cx="245.6" cy="140.6" r="3.1"/><circle cx="230.7" cy="120.1" r="3.1"/><circle cx="159.2" cy="105.1" r="3.1"/><circle cx="183.8" cy="105.4" r="3.1"/><circle cx="255.9" cy="129" r="3.1"/><circle cx="135" cy="112.3" r="3.1"/><circle cx="345.1" cy="148.4" r="3.1"/><circle cx="136.9" cy="103.3" r="3.1"/><circle cx="200.1" cy="113.5" r="3.1"/><circle cx="306.9" cy="140.7" r="3.1"/><circle cx="202.4" cy="116.6" r="3.1"/><circle cx="327.9" cy="139.4" r="3.1"/><circle cx="262" cy="135.7" r="3.1"/><circle cx="205.8" cy="114" r="3.1"/><circle cx="220.8" cy="120.4" r="3.1"/><circle cx="305.4" cy="138.1" r="3.1"/><circle cx="373.2" cy="147.7" r="3.1"/><circle cx="148.7" cy="119.7" r="3.1"/><circle cx="205.8" cy="105.3" r="3.1"/><circle cx="329.2" cy="147.5" r="3.1"/><circle cx="184.6" cy="119.2" r="3.1"/><circle cx="220.4" cy="120.6" r="3.1"/><circle cx="186.3" cy="118.8" r="3.1"/><circle cx="163.3" cy="115.7" r="3.1"/><circle cx="329.7" cy="147.3" r="3.1"/><circle cx="311" cy="143.9" r="3.1"/><circle cx="372.8" cy="146.2" r="3.1"/><circle cx="160.1" cy="102.5" r="3.1"/><circle cx="131.5" cy="90.2" r="3.1"/><circle cx="185.4" cy="127.5" r="3.1"/><circle cx="339.8" cy="143.4" r="3.1"/><circle cx="145.8" cy="110.1" r="3.1"/><circle cx="202.9" cy="114.2" r="3.1"/><circle cx="259.8" cy="139" r="3.1"/><circle cx="147.5" cy="113.4" r="3.1"/><circle cx="228.2" cy="123.5" r="3.1"/><circle cx="236.2" cy="110.2" r="3.1"/><circle cx="181" cy="105.5" r="3.1"/><circle cx="165.8" cy="115.7" r="3.1"/><circle cx="143.4" cy="98.5" r="3.1"/><circle cx="300.4" cy="139.9" r="3.1"/><circle cx="177" cy="99.7" r="3.1"/><circle cx="290.1" cy="140.6" r="3.1"/><circle cx="147.3" cy="106.1" r="3.1"/><circle cx="260.8" cy="135.4" r="3.1"/><circle cx="334.5" cy="136.8" r="3.1"/><circle cx="370.9" cy="152.6" r="3.1"/><circle cx="188" cy="120" r="3.1"/><circle cx="141.1" cy="102.7" r="3.1"/><circle cx="159.8" cy="116.3" r="3.1"/><circle cx="215.1" cy="123.2" r="3.1"/><circle cx="164.7" cy="111.8" r="3.1"/><circle cx="183.3" cy="121.9" r="3.1"/><circle cx="319.3" cy="149.3" r="3.1"/><circle cx="222.1" cy="123.2" r="3.1"/><circle cx="227.2" cy="118.2" r="3.1"/><circle cx="194.9" cy="117.4" r="3.1"/><circle cx="152.4" cy="118.8" r="3.1"/><circle cx="324" cy="130.4" r="3.1"/><circle cx="288.2" cy="115.5" r="3.1"/><circle cx="233.7" cy="118" r="3.1"/><circle cx="213.4" cy="121" r="3.1"/><circle cx="130.5" cy="127.6" r="3.1"/><circle cx="213.7" cy="109.9" r="3.1"/><circle cx="372.3" cy="146.8" r="3.1"/><circle cx="326.4" cy="127.6" r="3.1"/><circle cx="168.3" cy="129.5" r="3.1"/><circle cx="213.9" cy="116.9" r="3.1"/><circle cx="222.7" cy="116.3" r="3.1"/><circle cx="223" cy="120.1" r="3.1"/><circle cx="224.8" cy="132.4" r="3.1"/><circle cx="254.3" cy="118.1" r="3.1"/><circle cx="217.2" cy="136.2" r="3.1"/><circle cx="137.1" cy="104" r="3.1"/><circle cx="206.5" cy="124.4" r="3.1"/><circle cx="361.6" cy="146.9" r="3.1"/><circle cx="188.3" cy="129.3" r="3.1"/><circle cx="155.3" cy="117.1" r="3.1"/><circle cx="269" cy="134.4" r="3.1"/><circle cx="139.7" cy="106.5" r="3.1"/><circle cx="215.7" cy="114.3" r="3.1"/><circle cx="311.5" cy="125.2" r="3.1"/><circle cx="227.9" cy="119.1" r="3.1"/><circle cx="210.6" cy="126.5" r="3.1"/><circle cx="207.5" cy="117.8" r="3.1"/><circle cx="191.3" cy="129.8" r="3.1"/><circle cx="130.8" cy="114.7" r="3.1"/><circle cx="190.5" cy="114.9" r="3.1"/><circle cx="379.4" cy="154.7" r="3.1"/><circle cx="189.5" cy="102.3" r="3.1"/><circle cx="196.6" cy="121.3" r="3.1"/><circle cx="234.9" cy="137.4" r="3.1"/><circle cx="173.8" cy="106.7" r="3.1"/><circle cx="309.4" cy="128.9" r="3.1"/><circle cx="181.2" cy="103.7" r="3.1"/><circle cx="157.1" cy="109.5" r="3.1"/><circle cx="209.3" cy="125.7" r="3.1"/><circle cx="159.6" cy="115.9" r="3.1"/><circle cx="194.2" cy="115" r="3.1"/><circle cx="181.5" cy="114.8" r="3.1"/><circle cx="354.3" cy="152" r="3.1"/><circle cx="159.3" cy="114.4" r="3.1"/><circle cx="126.4" cy="108.2" r="3.1"/><circle cx="163.9" cy="121.9" r="3.1"/><circle cx="233.9" cy="121.5" r="3.1"/><circle cx="192.1" cy="102.9" r="3.1"/><circle cx="199.2" cy="120.8" r="3.1"/><circle cx="207.5" cy="122.8" r="3.1"/><circle cx="141.8" cy="109.8" r="3.1"/><circle cx="297.1" cy="128.7" r="3.1"/><circle cx="187.9" cy="112.8" r="3.1"/><circle cx="172.4" cy="118" r="3.1"/><circle cx="301.1" cy="122.6" r="3.1"/><circle cx="299.5" cy="130.1" r="3.1"/><circle cx="139.9" cy="97.6" r="3.1"/><circle cx="244.9" cy="127" r="3.1"/><circle cx="186.2" cy="109" r="3.1"/><circle cx="191.3" cy="116.6" r="3.1"/><circle cx="127.8" cy="119.4" r="3.1"/><circle cx="277.8" cy="135.5" r="3.1"/><circle cx="197.4" cy="117.4" r="3.1"/><circle cx="147" cy="123.2" r="3.1"/><circle cx="354.1" cy="142.2" r="3.1"/><circle cx="245.2" cy="129.6" r="3.1"/><circle cx="216.2" cy="117.8" r="3.1"/><circle cx="213.1" cy="113.9" r="3.1"/><circle cx="173.6" cy="112.2" r="3.1"/><circle cx="187.5" cy="102.5" r="3.1"/><circle cx="156.5" cy="95.9" r="3.1"/><circle cx="202" cy="115.6" r="3.1"/><circle cx="201.3" cy="100.5" r="3.1"/><circle cx="288" cy="133.8" r="3.1"/><circle cx="144.8" cy="114.6" r="3.1"/><circle cx="153.5" cy="124.4" r="3.1"/><circle cx="179.2" cy="118" r="3.1"/><circle cx="167.8" cy="115.8" r="3.1"/><circle cx="336.7" cy="151.4" r="3.1"/><circle cx="162.9" cy="119.5" r="3.1"/><circle cx="205.2" cy="133.1" r="3.1"/><circle cx="341.2" cy="150.7" r="3.1"/><circle cx="128.3" cy="102.6" r="3.1"/><circle cx="158.1" cy="122.4" r="3.1"/><circle cx="258.8" cy="116.7" r="3.1"/><circle cx="211.7" cy="131.1" r="3.1"/><circle cx="139.4" cy="111.8" r="3.1"/><circle cx="249.3" cy="145.6" r="3.1"/><circle cx="214.3" cy="123.3" r="3.1"/><circle cx="151.2" cy="109.2" r="3.1"/><circle cx="197.8" cy="112.4" r="3.1"/><circle cx="286.4" cy="127.3" r="3.1"/><circle cx="195.3" cy="112.4" r="3.1"/><circle cx="154.2" cy="113.3" r="3.1"/><circle cx="130" cy="104.5" r="3.1"/><circle cx="216.5" cy="135.9" r="3.1"/><circle cx="283.3" cy="133.8" r="3.1"/><circle cx="287.9" cy="137.3" r="3.1"/><circle cx="230" cy="111.2" r="3.1"/><circle cx="218.4" cy="134.6" r="3.1"/><circle cx="166.1" cy="124.4" r="3.1"/><circle cx="231.7" cy="114.2" r="3.1"/><circle cx="149.6" cy="98.4" r="3.1"/><circle cx="188.7" cy="120.8" r="3.1"/><circle cx="192.4" cy="102.7" r="3.1"/><circle cx="247.3" cy="122.3" r="3.1"/><circle cx="136.1" cy="97.7" r="3.1"/><circle cx="249.2" cy="130.9" r="3.1"/><circle cx="285.6" cy="147.9" r="3.1"/><circle cx="140.7" cy="96.8" r="3.1"/><circle cx="134.5" cy="92.1" r="3.1"/><circle cx="192.7" cy="117" r="3.1"/><circle cx="133" cy="114.1" r="3.1"/><circle cx="150.9" cy="104.7" r="3.1"/><circle cx="128.9" cy="101.2" r="3.1"/><circle cx="177" cy="115.7" r="3.1"/><circle cx="199.8" cy="110.6" r="3.1"/><circle cx="170.2" cy="127.6" r="3.1"/><circle cx="161.5" cy="109.6" r="3.1"/><circle cx="209.3" cy="132.5" r="3.1"/><circle cx="357.6" cy="142.7" r="3.1"/><circle cx="241.2" cy="108" r="3.1"/><circle cx="180.7" cy="103.2" r="3.1"/><circle cx="197.2" cy="109.8" r="3.1"/><circle cx="131.3" cy="93.6" r="3.1"/><circle cx="343.7" cy="139.8" r="3.1"/><circle cx="139.2" cy="108.6" r="3.1"/><circle cx="129" cy="97.3" r="3.1"/><circle cx="166.9" cy="99.9" r="3.1"/><circle cx="377.3" cy="157" r="3.1"/><circle cx="134.7" cy="96.7" r="3.1"/><circle cx="150.8" cy="120.9" r="3.1"/><circle cx="280.7" cy="122.9" r="3.1"/><circle cx="138.5" cy="103" r="3.1"/><circle cx="143.1" cy="105.4" r="3.1"/><circle cx="292.7" cy="140.3" r="3.1"/><circle cx="287.7" cy="134.4" r="3.1"/><circle cx="160.4" cy="97.1" r="3.1"/><circle cx="308.8" cy="149.4" r="3.1"/><circle cx="253.9" cy="124.7" r="3.1"/><circle cx="292.4" cy="141" r="3.1"/><circle cx="192.9" cy="102" r="3.1"/><circle cx="146.5" cy="104.2" r="3.1"/><circle cx="258.9" cy="117.6" r="3.1"/><circle cx="199" cy="118.6" r="3.1"/><circle cx="201.3" cy="132.2" r="3.1"/><circle cx="326.9" cy="146.6" r="3.1"/><circle cx="175.2" cy="111.7" r="3.1"/><circle cx="160.3" cy="110.1" r="3.1"/><circle cx="228.9" cy="111.9" r="3.1"/><circle cx="224.8" cy="138.1" r="3.1"/><circle cx="164.6" cy="102.2" r="3.1"/><circle cx="126.3" cy="114.5" r="3.1"/><circle cx="234.4" cy="128.2" r="3.1"/><circle cx="161.9" cy="106.5" r="3.1"/><circle cx="147.3" cy="91.5" r="3.1"/><circle cx="160.2" cy="113" r="3.1"/><circle cx="135.4" cy="117.6" r="3.1"/><circle cx="217.3" cy="131.1" r="3.1"/><circle cx="131.7" cy="92.6" r="3.1"/><circle cx="264.9" cy="129.7" r="3.1"/><circle cx="210.1" cy="118.6" r="3.1"/><circle cx="159.5" cy="108.5" r="3.1"/><circle cx="172.6" cy="119.7" r="3.1"/><circle cx="211.7" cy="113.8" r="3.1"/><circle cx="213" cy="128.5" r="3.1"/><circle cx="270.4" cy="136.2" r="3.1"/><circle cx="167.4" cy="103.8" r="3.1"/><circle cx="190.5" cy="122.5" r="3.1"/><circle cx="128.5" cy="101.2" r="3.1"/><circle cx="243.4" cy="135.5" r="3.1"/><circle cx="203.5" cy="117.1" r="3.1"/><circle cx="288.9" cy="123.3" r="3.1"/><circle cx="301.7" cy="139.4" r="3.1"/><circle cx="340.6" cy="131.9" r="3.1"/><circle cx="132.2" cy="99.7" r="3.1"/><circle cx="166.9" cy="109.4" r="3.1"/><circle cx="134.6" cy="112.7" r="3.1"/><circle cx="202.2" cy="123.9" r="3.1"/><circle cx="242.9" cy="125.5" r="3.1"/><circle cx="184.4" cy="116" r="3.1"/><circle cx="210.4" cy="121.8" r="3.1"/><circle cx="238" cy="126.9" r="3.1"/><circle cx="131.7" cy="127.8" r="3.1"/><circle cx="202" cy="119.7" r="3.1"/><circle cx="220.2" cy="112.5" r="3.1"/><circle cx="159.3" cy="103" r="3.1"/><circle cx="175.4" cy="119.3" r="3.1"/><circle cx="245.8" cy="135.1" r="3.1"/><circle cx="254.5" cy="125" r="3.1"/><circle cx="192.6" cy="123.2" r="3.1"/><circle cx="188.5" cy="111.2" r="3.1"/><circle cx="173.2" cy="121.2" r="3.1"/><circle cx="318" cy="131.3" r="3.1"/><circle cx="160.1" cy="124" r="3.1"/><circle cx="191.2" cy="100.4" r="3.1"/><circle cx="176.9" cy="122.9" r="3.1"/><circle cx="141.8" cy="102.6" r="3.1"/><circle cx="188.2" cy="122.4" r="3.1"/><circle cx="290.7" cy="130.4" r="3.1"/><circle cx="186.7" cy="106.8" r="3.1"/><circle cx="139.5" cy="94.2" r="3.1"/><circle cx="249.3" cy="138.1" r="3.1"/><circle cx="181" cy="109.9" r="3.1"/><circle cx="197" cy="111.9" r="3.1"/><circle cx="161.1" cy="104.2" r="3.1"/><circle cx="164.1" cy="110.1" r="3.1"/><circle cx="312.8" cy="145.6" r="3.1"/><circle cx="166" cy="110.2" r="3.1"/><circle cx="138" cy="121.7" r="3.1"/><circle cx="303.8" cy="128.2" r="3.1"/><circle cx="204.6" cy="101.7" r="3.1"/><circle cx="383.4" cy="155.5" r="3.1"/><circle cx="134" cy="116.8" r="3.1"/><circle cx="156.5" cy="122.8" r="3.1"/><circle cx="129.8" cy="122.9" r="3.1"/><circle cx="138.3" cy="88" r="3.1"/><circle cx="362.2" cy="150.4" r="3.1"/><circle cx="134.6" cy="104.9" r="3.1"/><circle cx="351" cy="150.4" r="3.1"/><circle cx="235.6" cy="112.4" r="3.1"/><circle cx="260.1" cy="138.3" r="3.1"/><circle cx="367.4" cy="148.3" r="3.1"/><circle cx="348.5" cy="141.9" r="3.1"/><circle cx="225.9" cy="122.6" r="3.1"/><circle cx="168" cy="109.3" r="3.1"/><circle cx="170.7" cy="126.2" r="3.1"/><circle cx="233.3" cy="123.9" r="3.1"/><circle cx="326.2" cy="128.5" r="3.1"/><circle cx="135.5" cy="104.1" r="3.1"/><circle cx="161.4" cy="116.8" r="3.1"/><circle cx="224.3" cy="129.2" r="3.1"/><circle cx="168.2" cy="124" r="3.1"/><circle cx="358.1" cy="136" r="3.1"/><circle cx="138.5" cy="112.7" r="3.1"/><circle cx="284.9" cy="145.3" r="3.1"/><circle cx="153.5" cy="95.6" r="3.1"/><circle cx="237.6" cy="132.4" r="3.1"/><circle cx="308.8" cy="138.1" r="3.1"/><circle cx="227.8" cy="126.4" r="3.1"/><circle cx="230.9" cy="133.9" r="3.1"/><circle cx="213.6" cy="101.7" r="3.1"/><circle cx="247.3" cy="120.3" r="3.1"/><circle cx="151.2" cy="102.4" r="3.1"/><circle cx="185.4" cy="135" r="3.1"/><circle cx="182.6" cy="115.3" r="3.1"/><circle cx="239.4" cy="128.1" r="3.1"/><circle cx="314.8" cy="120.8" r="3.1"/><circle cx="167.2" cy="124.8" r="3.1"/><circle cx="251.7" cy="134.8" r="3.1"/><circle cx="136.8" cy="104" r="3.1"/><circle cx="320.9" cy="127.6" r="3.1"/><circle cx="240.6" cy="124.3" r="3.1"/><circle cx="161.5" cy="102" r="3.1"/><circle cx="236.3" cy="112" r="3.1"/><circle cx="279" cy="135.4" r="3.1"/><circle cx="218.2" cy="111.2" r="3.1"/><circle cx="222.2" cy="117.5" r="3.1"/><circle cx="213.1" cy="119.8" r="3.1"/><circle cx="192.8" cy="120.2" r="3.1"/><circle cx="245.3" cy="112.2" r="3.1"/><circle cx="296.4" cy="131.5" r="3.1"/><circle cx="283.3" cy="127.5" r="3.1"/><circle cx="180.5" cy="95.5" r="3.1"/><circle cx="142.8" cy="106.7" r="3.1"/><circle cx="191.8" cy="122.8" r="3.1"/><circle cx="304.5" cy="141" r="3.1"/><circle cx="392.1" cy="158.5" r="3.1"/><circle cx="336.4" cy="131.5" r="3.1"/><circle cx="281.9" cy="137.5" r="3.1"/><circle cx="361.9" cy="143.3" r="3.1"/><circle cx="263.8" cy="129.1" r="3.1"/><circle cx="179.6" cy="111.5" r="3.1"/><circle cx="214.1" cy="125.4" r="3.1"/><circle cx="171.2" cy="106.5" r="3.1"/><circle cx="361.7" cy="146.5" r="3.1"/><circle cx="133.9" cy="113.6" r="3.1"/><circle cx="174.8" cy="103.9" r="3.1"/><circle cx="234.3" cy="107.9" r="3.1"/><circle cx="164" cy="117.9" r="3.1"/><circle cx="247.9" cy="131.3" r="3.1"/><circle cx="344.4" cy="133.1" r="3.1"/><circle cx="136.4" cy="120" r="3.1"/><circle cx="344.3" cy="143.9" r="3.1"/><circle cx="213.1" cy="103.4" r="3.1"/><circle cx="240.5" cy="128.4" r="3.1"/><circle cx="230.2" cy="126.3" r="3.1"/><circle cx="227.8" cy="115.7" r="3.1"/><circle cx="209" cy="128.2" r="3.1"/><circle cx="151.2" cy="121" r="3.1"/><circle cx="246.3" cy="136.8" r="3.1"/><circle cx="132.2" cy="104.3" r="3.1"/><circle cx="134" cy="98.8" r="3.1"/><circle cx="216.7" cy="135.4" r="3.1"/><circle cx="163.2" cy="94.8" r="3.1"/><circle cx="295.5" cy="118.3" r="3.1"/><circle cx="351.3" cy="141.3" r="3.1"/><circle cx="276" cy="131.4" r="3.1"/><circle cx="178.1" cy="104.1" r="3.1"/><circle cx="256.1" cy="132.2" r="3.1"/><circle cx="171.8" cy="119.1" r="3.1"/><circle cx="185.5" cy="107" r="3.1"/><circle cx="204.1" cy="121.3" r="3.1"/><circle cx="262.3" cy="125.1" r="3.1"/><circle cx="156.9" cy="110.3" r="3.1"/><circle cx="141.3" cy="116.7" r="3.1"/><circle cx="324.8" cy="130.7" r="3.1"/><circle cx="318.4" cy="138" r="3.1"/><circle cx="283" cy="129.8" r="3.1"/><circle cx="188.3" cy="126.4" r="3.1"/><circle cx="129.4" cy="95.8" r="3.1"/><circle cx="141.1" cy="107.7" r="3.1"/><circle cx="168" cy="114.3" r="3.1"/><circle cx="182" cy="104" r="3.1"/><circle cx="206.8" cy="114.5" r="3.1"/><circle cx="334.6" cy="134.1" r="3.1"/><circle cx="323.9" cy="131.3" r="3.1"/><circle cx="275.6" cy="132.9" r="3.1"/><circle cx="370.5" cy="148.4" r="3.1"/><circle cx="183.6" cy="120.8" r="3.1"/><circle cx="140.6" cy="109.1" r="3.1"/><circle cx="347.2" cy="142.3" r="3.1"/><circle cx="181.4" cy="123.6" r="3.1"/><circle cx="145.3" cy="107.5" r="3.1"/><circle cx="177.9" cy="115" r="3.1"/><circle cx="175" cy="116.2" r="3.1"/><circle cx="219.1" cy="121.8" r="3.1"/><circle cx="132.8" cy="93.4" r="3.1"/><circle cx="228.7" cy="128.8" r="3.1"/><circle cx="170.2" cy="117" r="3.1"/><circle cx="146.2" cy="122.5" r="3.1"/><circle cx="238.8" cy="114.2" r="3.1"/><circle cx="220.6" cy="118.1" r="3.1"/><circle cx="259.7" cy="130.4" r="3.1"/><circle cx="241.8" cy="112.4" r="3.1"/><circle cx="157.8" cy="108.5" r="3.1"/><circle cx="263.5" cy="117.5" r="3.1"/><circle cx="190.6" cy="113" r="3.1"/><circle cx="180.9" cy="106.8" r="3.1"/><circle cx="344.1" cy="136.1" r="3.1"/><circle cx="160.4" cy="98.3" r="3.1"/><circle cx="195.1" cy="114" r="3.1"/><circle cx="177.9" cy="100.1" r="3.1"/><circle cx="282.5" cy="138" r="3.1"/><circle cx="166.4" cy="117.4" r="3.1"/><circle cx="316.8" cy="124.4" r="3.1"/><circle cx="262.7" cy="120.6" r="3.1"/><circle cx="362.5" cy="143" r="3.1"/><circle cx="187.2" cy="103.8" r="3.1"/><circle cx="158.1" cy="120" r="3.1"/><circle cx="183.8" cy="112.6" r="3.1"/><circle cx="227.6" cy="119.4" r="3.1"/><circle cx="152.3" cy="114.1" r="3.1"/><circle cx="273.1" cy="136.6" r="3.1"/><circle cx="141.5" cy="112.5" r="3.1"/><circle cx="126.5" cy="106.1" r="3.1"/><circle cx="233" cy="125.8" r="3.1"/><circle cx="207.4" cy="115.8" r="3.1"/><circle cx="191.8" cy="132.8" r="3.1"/><circle cx="144.3" cy="102.6" r="3.1"/><circle cx="147.1" cy="119.2" r="3.1"/><circle cx="224" cy="130.4" r="3.1"/><circle cx="133.6" cy="105.9" r="3.1"/><circle cx="240.2" cy="122.5" r="3.1"/><circle cx="239" cy="115.1" r="3.1"/><circle cx="180.7" cy="110.2" r="3.1"/><circle cx="191.6" cy="109.4" r="3.1"/><circle cx="140.4" cy="109.4" r="3.1"/><circle cx="266.1" cy="122.6" r="3.1"/><circle cx="281.2" cy="140.9" r="3.1"/><circle cx="197" cy="127.2" r="3.1"/><circle cx="209.9" cy="122.5" r="3.1"/><circle cx="282.7" cy="134.4" r="3.1"/><circle cx="331.7" cy="145.4" r="3.1"/><circle cx="180.4" cy="122.1" r="3.1"/><circle cx="161.2" cy="117.9" r="3.1"/><circle cx="168.7" cy="125.6" r="3.1"/><circle cx="128.3" cy="93.7" r="3.1"/><circle cx="155.7" cy="112.7" r="3.1"/><circle cx="190.2" cy="100.1" r="3.1"/><circle cx="145.3" cy="111" r="3.1"/><circle cx="207.9" cy="115.5" r="3.1"/><circle cx="129.4" cy="112.8" r="3.1"/><circle cx="294.5" cy="138.4" r="3.1"/><circle cx="131.2" cy="100.4" r="3.1"/><circle cx="235.7" cy="116.3" r="3.1"/><circle cx="131.3" cy="96.2" r="3.1"/><circle cx="134.2" cy="91.8" r="3.1"/><circle cx="215.7" cy="120.2" r="3.1"/><circle cx="136.1" cy="111.3" r="3.1"/><circle cx="142.1" cy="93.8" r="3.1"/><circle cx="260.2" cy="138.9" r="3.1"/><circle cx="322.7" cy="134" r="3.1"/><circle cx="194.1" cy="102.5" r="3.1"/><circle cx="132.7" cy="104.3" r="3.1"/><circle cx="180.4" cy="109.2" r="3.1"/><circle cx="146.5" cy="122.5" r="3.1"/><circle cx="199" cy="117.1" r="3.1"/><circle cx="293.1" cy="143.3" r="3.1"/><circle cx="164.5" cy="104.1" r="3.1"/><circle cx="241.2" cy="118.1" r="3.1"/><circle cx="130.9" cy="99.7" r="3.1"/><circle cx="211" cy="125.5" r="3.1"/><circle cx="139.9" cy="98.5" r="3.1"/><circle cx="187.9" cy="112.2" r="3.1"/><circle cx="158.4" cy="125.7" r="3.1"/><circle cx="154.2" cy="100.9" r="3.1"/><circle cx="148.7" cy="125.8" r="3.1"/><circle cx="256.3" cy="131.2" r="3.1"/><circle cx="143.5" cy="93" r="3.1"/><circle cx="159.6" cy="106.2" r="3.1"/><circle cx="151" cy="102.7" r="3.1"/><circle cx="202.7" cy="118.4" r="3.1"/><circle cx="333.1" cy="140.4" r="3.1"/><circle cx="153.4" cy="125.7" r="3.1"/><circle cx="308.5" cy="130.4" r="3.1"/><circle cx="159.6" cy="109.8" r="3.1"/><circle cx="205.2" cy="129.9" r="3.1"/><circle cx="232.8" cy="135.2" r="3.1"/><circle cx="144.2" cy="113.3" r="3.1"/><circle cx="265" cy="127.5" r="3.1"/><circle cx="275.8" cy="132.8" r="3.1"/><circle cx="218.3" cy="105.3" r="3.1"/><circle cx="164.4" cy="118.7" r="3.1"/><circle cx="320.8" cy="144" r="3.1"/><circle cx="221.4" cy="117.1" r="3.1"/><circle cx="146.9" cy="126.9" r="3.1"/><circle cx="190.8" cy="123.6" r="3.1"/><circle cx="270.3" cy="127.4" r="3.1"/><circle cx="162.8" cy="98.8" r="3.1"/><circle cx="208.3" cy="109.3" r="3.1"/><circle cx="296.3" cy="149.9" r="3.1"/><circle cx="364.5" cy="149" r="3.1"/><circle cx="295.8" cy="127.9" r="3.1"/><circle cx="137.1" cy="122" r="3.1"/><circle cx="209.7" cy="120.2" r="3.1"/><circle cx="218.9" cy="113.2" r="3.1"/><circle cx="272.3" cy="140.1" r="3.1"/><circle cx="155.4" cy="107.1" r="3.1"/><circle cx="153.4" cy="104" r="3.1"/><circle cx="231.6" cy="136.2" r="3.1"/><circle cx="252" cy="141" r="3.1"/><circle cx="204.1" cy="131.7" r="3.1"/><circle cx="216.8" cy="124.6" r="3.1"/><circle cx="315.5" cy="127.2" r="3.1"/><circle cx="349.9" cy="145.4" r="3.1"/><circle cx="225.1" cy="109.2" r="3.1"/><circle cx="149.4" cy="114.1" r="3.1"/><circle cx="264.2" cy="143.9" r="3.1"/><circle cx="210.4" cy="120.4" r="3.1"/><circle cx="273.7" cy="118.1" r="3.1"/><circle cx="204.6" cy="130.4" r="3.1"/><circle cx="291.4" cy="126.3" r="3.1"/><circle cx="171.4" cy="116.2" r="3.1"/><circle cx="198.8" cy="115.8" r="3.1"/><circle cx="320.9" cy="150.8" r="3.1"/><circle cx="176.2" cy="116.3" r="3.1"/><circle cx="154.8" cy="114.5" r="3.1"/><circle cx="191.5" cy="119.6" r="3.1"/><circle cx="203.3" cy="107.9" r="3.1"/><circle cx="286" cy="144.1" r="3.1"/><circle cx="156.3" cy="116.4" r="3.1"/><circle cx="150.3" cy="103.7" r="3.1"/><circle cx="147.4" cy="96.8" r="3.1"/><circle cx="287.1" cy="132.7" r="3.1"/><circle cx="176" cy="117.7" r="3.1"/><circle cx="249.9" cy="125.7" r="3.1"/><circle cx="256.4" cy="126.1" r="3.1"/><circle cx="243.6" cy="139.2" r="3.1"/><circle cx="178.3" cy="110.7" r="3.1"/><circle cx="266.2" cy="123.7" r="3.1"/><circle cx="378.2" cy="151.9" r="3.1"/><circle cx="224.3" cy="119" r="3.1"/><circle cx="367.8" cy="151.3" r="3.1"/><circle cx="208.5" cy="133.1" r="3.1"/><circle cx="144.1" cy="103.1" r="3.1"/><circle cx="144.7" cy="115.8" r="3.1"/><circle cx="195.5" cy="120.3" r="3.1"/><circle cx="170.6" cy="128.8" r="3.1"/><circle cx="176.5" cy="126.3" r="3.1"/><circle cx="364.6" cy="146.1" r="3.1"/><circle cx="207.4" cy="111.3" r="3.1"/><circle cx="202.7" cy="108.1" r="3.1"/><circle cx="311.5" cy="130.5" r="3.1"/><circle cx="192.1" cy="110.9" r="3.1"/><circle cx="258.3" cy="124.4" r="3.1"/><circle cx="261.6" cy="126.8" r="3.1"/><circle cx="187.2" cy="115.5" r="3.1"/><circle cx="358.7" cy="156.8" r="3.1"/><circle cx="244.6" cy="120.6" r="3.1"/><circle cx="127.6" cy="109.3" r="3.1"/><circle cx="240.9" cy="115.3" r="3.1"/><circle cx="178.8" cy="113.6" r="3.1"/><circle cx="235.3" cy="114" r="3.1"/><circle cx="155.8" cy="105.5" r="3.1"/><circle cx="198" cy="116.6" r="3.1"/><circle cx="277.3" cy="137.8" r="3.1"/><circle cx="304.9" cy="142.4" r="3.1"/><circle cx="143.4" cy="105.9" r="3.1"/><circle cx="186.6" cy="118.2" r="3.1"/><circle cx="170.7" cy="109.1" r="3.1"/><circle cx="157.1" cy="111.6" r="3.1"/><circle cx="297" cy="121.3" r="3.1"/><circle cx="167.9" cy="101.8" r="3.1"/><circle cx="163.9" cy="120.7" r="3.1"/><circle cx="273.7" cy="138.7" r="3.1"/><circle cx="188.1" cy="115.1" r="3.1"/><circle cx="153.6" cy="115.9" r="3.1"/><circle cx="135.6" cy="104.8" r="3.1"/><circle cx="145.6" cy="102.9" r="3.1"/><circle cx="320.5" cy="125.6" r="3.1"/><circle cx="259.7" cy="138.4" r="3.1"/><circle cx="173.8" cy="122.6" r="3.1"/><circle cx="229.7" cy="122.4" r="3.1"/><circle cx="206.7" cy="119.7" r="3.1"/><circle cx="329.2" cy="144.7" r="3.1"/><circle cx="224.6" cy="118" r="3.1"/><circle cx="299.9" cy="138.5" r="3.1"/><circle cx="248" cy="124.9" r="3.1"/><circle cx="284.2" cy="128.1" r="3.1"/><circle cx="149.7" cy="97.3" r="3.1"/><circle cx="194.9" cy="116.1" r="3.1"/><circle cx="331.7" cy="130.9" r="3.1"/><circle cx="143.4" cy="116" r="3.1"/><circle cx="327.8" cy="136.2" r="3.1"/><circle cx="251.5" cy="126.5" r="3.1"/><circle cx="142.4" cy="115.6" r="3.1"/><circle cx="212.3" cy="134.8" r="3.1"/><circle cx="337.6" cy="135" r="3.1"/><circle cx="188.2" cy="128.1" r="3.1"/><circle cx="216.4" cy="136.9" r="3.1"/><circle cx="169.5" cy="107.1" r="3.1"/><circle cx="214.7" cy="115.2" r="3.1"/><circle cx="156.2" cy="107.3" r="3.1"/><circle cx="382.3" cy="153.1" r="3.1"/><circle cx="178.5" cy="124.7" r="3.1"/><circle cx="286.7" cy="131.9" r="3.1"/><circle cx="174.3" cy="124.4" r="3.1"/><circle cx="247.2" cy="125.2" r="3.1"/><circle cx="377" cy="155.2" r="3.1"/><circle cx="216.3" cy="136.3" r="3.1"/><circle cx="279.9" cy="133.1" r="3.1"/><circle cx="183" cy="122" r="3.1"/><circle cx="306.6" cy="137.3" r="3.1"/><circle cx="328.4" cy="143.9" r="3.1"/><circle cx="194.6" cy="127.4" r="3.1"/><circle cx="127" cy="98.8" r="3.1"/><circle cx="137.6" cy="108.6" r="3.1"/><circle cx="149.9" cy="105.9" r="3.1"/><circle cx="158.8" cy="125.9" r="3.1"/><circle cx="235.8" cy="123.1" r="3.1"/><circle cx="252" cy="126.3" r="3.1"/><circle cx="233.2" cy="117.4" r="3.1"/><circle cx="343.5" cy="140.6" r="3.1"/><circle cx="201.7" cy="126.1" r="3.1"/><circle cx="254.4" cy="143.5" r="3.1"/><circle cx="293.5" cy="132.5" r="3.1"/><circle cx="194.2" cy="108.7" r="3.1"/><circle cx="199.4" cy="117.5" r="3.1"/><circle cx="132.6" cy="98.3" r="3.1"/><circle cx="199.7" cy="121.7" r="3.1"/><circle cx="146.3" cy="97.8" r="3.1"/><circle cx="172.8" cy="116.4" r="3.1"/><circle cx="203.8" cy="120.4" r="3.1"/><circle cx="297.6" cy="142.2" r="3.1"/><circle cx="170.6" cy="102.6" r="3.1"/><circle cx="368.7" cy="153.5" r="3.1"/><circle cx="151.7" cy="103.7" r="3.1"/><circle cx="230.9" cy="116.7" r="3.1"/><circle cx="284.6" cy="121.1" r="3.1"/><circle cx="173.3" cy="104.2" r="3.1"/><circle cx="131.4" cy="116.9" r="3.1"/><circle cx="147.1" cy="122.5" r="3.1"/><circle cx="227.7" cy="128" r="3.1"/><circle cx="199.6" cy="118" r="3.1"/><circle cx="139.6" cy="94.6" r="3.1"/><circle cx="322.7" cy="139.3" r="3.1"/><circle cx="323" cy="137.4" r="3.1"/><circle cx="152.8" cy="123.4" r="3.1"/><circle cx="160.3" cy="117.8" r="3.1"/><circle cx="153.1" cy="99.8" r="3.1"/><circle cx="162.3" cy="120.6" r="3.1"/><circle cx="134.8" cy="96.2" r="3.1"/><circle cx="233.3" cy="127.7" r="3.1"/><circle cx="155.6" cy="123.6" r="3.1"/><circle cx="147.1" cy="122.4" r="3.1"/><circle cx="255.3" cy="131.3" r="3.1"/><circle cx="192.6" cy="110.4" r="3.1"/><circle cx="223.7" cy="128.9" r="3.1"/><circle cx="249.2" cy="125.8" r="3.1"/><circle cx="320.6" cy="142.6" r="3.1"/><circle cx="138.7" cy="117.4" r="3.1"/><circle cx="144.2" cy="95.2" r="3.1"/><circle cx="207.3" cy="106.4" r="3.1"/><circle cx="185.4" cy="122.3" r="3.1"/><circle cx="169.7" cy="124.1" r="3.1"/><circle cx="153.5" cy="99.6" r="3.1"/><circle cx="198.1" cy="132.9" r="3.1"/><circle cx="179" cy="99.9" r="3.1"/><circle cx="169.7" cy="123.4" r="3.1"/><circle cx="232.9" cy="120.1" r="3.1"/><circle cx="171.1" cy="122.3" r="3.1"/><circle cx="170.2" cy="125.8" r="3.1"/><circle cx="179.9" cy="117.3" r="3.1"/><circle cx="211.4" cy="126" r="3.1"/><circle cx="237.4" cy="111.1" r="3.1"/><circle cx="337.2" cy="145.8" r="3.1"/><circle cx="330.9" cy="135.8" r="3.1"/><circle cx="151.2" cy="119.6" r="3.1"/><circle cx="128.8" cy="108.3" r="3.1"/><circle cx="316.1" cy="130.1" r="3.1"/><circle cx="200.6" cy="110.5" r="3.1"/><circle cx="163.8" cy="116.5" r="3.1"/><circle cx="127" cy="108.5" r="3.1"/><circle cx="381" cy="151.8" r="3.1"/><circle cx="163.6" cy="103.4" r="3.1"/><circle cx="281.9" cy="139" r="3.1"/><circle cx="180.9" cy="124.1" r="3.1"/><circle cx="350.2" cy="146.2" r="3.1"/><circle cx="255.8" cy="144.6" r="3.1"/><circle cx="228.1" cy="123.1" r="3.1"/><circle cx="198.7" cy="112" r="3.1"/><circle cx="219.4" cy="140.4" r="3.1"/><circle cx="294.3" cy="145.7" r="3.1"/><circle cx="250.5" cy="133.3" r="3.1"/><circle cx="230.6" cy="122.5" r="3.1"/><circle cx="249.9" cy="129.8" r="3.1"/><circle cx="147" cy="116.8" r="3.1"/><circle cx="214.5" cy="124.5" r="3.1"/><circle cx="188.1" cy="105.1" r="3.1"/><circle cx="165.1" cy="99.8" r="3.1"/><circle cx="198" cy="131.3" r="3.1"/><circle cx="226.6" cy="119" r="3.1"/><circle cx="385.2" cy="157" r="3.1"/><circle cx="216.3" cy="110.8" r="3.1"/><circle cx="175.3" cy="108.5" r="3.1"/><circle cx="353.1" cy="144.1" r="3.1"/><circle cx="162.7" cy="114.8" r="3.1"/><circle cx="183.8" cy="112.4" r="3.1"/><circle cx="167.6" cy="106.2" r="3.1"/><circle cx="157.3" cy="113.7" r="3.1"/><circle cx="166.8" cy="110.7" r="3.1"/><circle cx="332.4" cy="148.2" r="3.1"/><circle cx="380.1" cy="153.4" r="3.1"/><circle cx="231.5" cy="127" r="3.1"/><circle cx="131.4" cy="91.2" r="3.1"/><circle cx="275.2" cy="131.6" r="3.1"/><circle cx="221.8" cy="123.1" r="3.1"/><circle cx="193.4" cy="112.3" r="3.1"/><circle cx="127.8" cy="111.1" r="3.1"/><circle cx="315.2" cy="126.5" r="3.1"/><circle cx="143.7" cy="98.4" r="3.1"/><circle cx="135" cy="104.7" r="3.1"/><circle cx="268.4" cy="125" r="3.1"/><circle cx="202.5" cy="124.2" r="3.1"/><circle cx="153.6" cy="103.8" r="3.1"/><circle cx="143.1" cy="120.6" r="3.1"/><circle cx="227.5" cy="137.9" r="3.1"/><circle cx="174.6" cy="107.9" r="3.1"/><circle cx="127.8" cy="108.7" r="3.1"/><circle cx="200.4" cy="103.7" r="3.1"/><circle cx="149.4" cy="97.4" r="3.1"/><circle cx="243.5" cy="127" r="3.1"/><circle cx="242.8" cy="112.1" r="3.1"/><circle cx="126.2" cy="96.8" r="3.1"/><circle cx="273.9" cy="135" r="3.1"/><circle cx="237.2" cy="122.5" r="3.1"/><circle cx="148.6" cy="111" r="3.1"/><circle cx="211.9" cy="121.5" r="3.1"/><circle cx="199.5" cy="128.4" r="3.1"/><circle cx="204" cy="109" r="3.1"/><circle cx="333" cy="133.2" r="3.1"/><circle cx="213" cy="132.8" r="3.1"/><circle cx="291.6" cy="130.6" r="3.1"/><circle cx="197.1" cy="131.6" r="3.1"/><circle cx="200.2" cy="106.9" r="3.1"/><circle cx="151.6" cy="110.2" r="3.1"/><circle cx="222.8" cy="120.4" r="3.1"/><circle cx="316.7" cy="133.5" r="3.1"/><circle cx="243.4" cy="135.7" r="3.1"/><circle cx="335.8" cy="142.5" r="3.1"/><circle cx="183.2" cy="115.2" r="3.1"/><circle cx="236.4" cy="126.5" r="3.1"/><circle cx="277.2" cy="133.1" r="3.1"/><circle cx="314.2" cy="128.2" r="3.1"/><circle cx="226.8" cy="112.6" r="3.1"/><circle cx="166.8" cy="119" r="3.1"/><circle cx="301.7" cy="124.9" r="3.1"/><circle cx="166.5" cy="114.2" r="3.1"/><circle cx="236.3" cy="121.2" r="3.1"/><circle cx="144.6" cy="91" r="3.1"/><circle cx="157" cy="90.6" r="3.1"/><circle cx="213" cy="95" r="3.1"/><circle cx="220" cy="94" r="3.1"/><circle cx="232" cy="101" r="3.1"/><circle cx="244" cy="101" r="3.1"/><circle cx="253" cy="103" r="3.1"/><circle cx="262.6" cy="105" r="3.1"/><circle cx="227" cy="146.4" r="3.1"/><circle cx="265" cy="150" r="3.1"/><circle cx="285" cy="153" r="3.1"/><circle cx="286" cy="109.4" r="3.1"/><circle cx="289" cy="110.4" r="3.1"/><circle cx="283" cy="115" r="3.1"/><circle cx="304" cy="117" r="3.1"/><circle cx="310" cy="119.6" r="3.1"/><circle cx="315" cy="118.6" r="3.1"/><circle cx="322" cy="121.6" r="3.1"/><circle cx="336" cy="122.4" r="3.1"/><circle cx="333" cy="126.4" r="3.1"/><circle cx="391" cy="171.6" r="3.1"/><circle cx="399.6" cy="170" r="3.1"/><circle cx="411" cy="171" r="3.1"/><circle cx="418" cy="173" r="3.1"/><circle cx="421" cy="175" r="3.1"/><circle cx="423" cy="180" r="3.1"/><circle cx="425" cy="173" r="3.1"/><circle cx="428" cy="178" r="3.1"/><circle cx="432" cy="174" r="3.1"/><circle cx="430" cy="179" r="3.1"/><circle cx="443" cy="180" r="3.1"/><circle cx="448" cy="179.6" r="3.1"/><circle cx="447" cy="183" r="3.1"/><circle cx="456" cy="176" r="3.1"/><circle cx="455.6" cy="179.4" r="3.1"/><circle cx="461" cy="174" r="3.1"/><circle cx="474" cy="194" r="3.1"/><circle cx="490" cy="187" r="3.1"/><circle cx="496" cy="204.4" r="3.1"/><circle cx="498" cy="209" r="3.1"/><circle cx="505.6" cy="211" r="3.1"/><circle cx="508.4" cy="212" r="3.1"/><circle cx="513" cy="215" r="3.1"/><circle cx="515" cy="220" r="3.1"/><circle cx="518.6" cy="218" r="3.1"/><circle cx="529" cy="240" r="3.1"/><circle cx="536" cy="233.8" r="3.1"/><circle cx="538" cy="236.8" r="3.1"/><circle cx="539" cy="243.8" r="3.1"/><circle cx="544" cy="237.8" r="3.1"/><circle cx="549" cy="242.8" r="3.1"/><circle cx="559" cy="258" r="3.1"/><circle cx="558.6" cy="260" r="3.1"/><circle cx="564" cy="259" r="3.1"/><circle cx="574" cy="268" r="3.1"/><circle cx="589" cy="271" r="3.1"/><circle cx="587" cy="279.4" r="3.1"/></g>
<rect x="589.4" y="275" width="4.6" height="6" rx="1.8" fill="#ff1a00"/>
</g>
<g clip-path="url(#cl)">
<g fill="#000"><circle cx="420" cy="370.5" r="2.5"/><circle cx="431.4" cy="370.5" r="2.5"/><circle cx="449.5" cy="370.5" r="2.5"/><circle cx="456" cy="370.5" r="2.5"/><circle cx="497" cy="370.5" r="2.5"/><circle cx="509" cy="370.5" r="2.5"/><circle cx="520" cy="370.5" r="2.5"/><circle cx="533" cy="370.5" r="2.5"/><circle cx="542" cy="370.5" r="2.5"/></g>
<g fill="#000"><rect x="558.1" y="368.4" width="4.2" height="4.2" rx="1"/></g>
<g fill="#0500ff"><circle cx="380.5" cy="370.5" r="2.5"/><circle cx="382.5" cy="370.5" r="2.5"/><circle cx="386" cy="370.5" r="2.5"/><circle cx="388" cy="370.5" r="2.5"/><circle cx="435.5" cy="370.5" r="2.5"/><circle cx="437.5" cy="370.5" r="2.5"/><circle cx="439.5" cy="370.5" r="2.5"/><circle cx="441.5" cy="370.5" r="2.5"/><circle cx="443.5" cy="370.5" r="2.5"/><circle cx="445.5" cy="370.5" r="2.5"/><circle cx="451.5" cy="370.5" r="2.5"/><circle cx="453.5" cy="370.5" r="2.5"/><circle cx="455.5" cy="370.5" r="2.5"/><circle cx="457.5" cy="370.5" r="2.5"/><circle cx="459.5" cy="370.5" r="2.5"/><circle cx="461.5" cy="370.5" r="2.5"/><circle cx="463.5" cy="370.5" r="2.5"/><circle cx="475.5" cy="370.5" r="2.5"/><circle cx="477.5" cy="370.5" r="2.5"/><circle cx="479.5" cy="370.5" r="2.5"/><circle cx="481.5" cy="370.5" r="2.5"/><circle cx="483.5" cy="370.5" r="2.5"/><circle cx="485.5" cy="370.5" r="2.5"/><circle cx="496" cy="370.5" r="2.5"/><circle cx="498" cy="370.5" r="2.5"/><circle cx="500" cy="370.5" r="2.5"/><circle cx="502" cy="370.5" r="2.5"/><circle cx="504" cy="370.5" r="2.5"/><circle cx="506" cy="370.5" r="2.5"/><circle cx="516" cy="370.5" r="2.5"/><circle cx="518" cy="370.5" r="2.5"/><circle cx="525" cy="370.5" r="2.5"/><circle cx="527" cy="370.5" r="2.5"/><circle cx="529" cy="370.5" r="2.5"/><circle cx="531" cy="370.5" r="2.5"/><circle cx="539.5" cy="370.5" r="2.5"/><circle cx="541.5" cy="370.5" r="2.5"/><circle cx="549" cy="370.5" r="2.5"/><circle cx="551" cy="370.5" r="2.5"/><circle cx="553" cy="370.5" r="2.5"/><circle cx="555" cy="370.5" r="2.5"/><circle cx="392" cy="370.5" r="2.5"/><circle cx="396" cy="370.5" r="2.5"/><circle cx="401" cy="370.5" r="2.5"/><circle cx="405" cy="370.5" r="2.5"/><circle cx="411" cy="370.5" r="2.5"/><circle cx="416" cy="370.5" r="2.5"/><circle cx="424" cy="370.5" r="2.5"/><circle cx="428" cy="370.5" r="2.5"/></g>
<rect x="128.5" y="367.5" width="256.5" height="4" fill="#00ff1e"/>
<g fill="#00ff1e"><circle cx="342.1" cy="383.8" r="3.1"/><circle cx="351.6" cy="381.3" r="3.1"/><circle cx="362.3" cy="377.3" r="3.1"/><circle cx="370.5" cy="380.8" r="3.1"/><circle cx="363.5" cy="388.1" r="3.1"/><circle cx="384.1" cy="382.5" r="3.1"/><circle cx="384" cy="378.4" r="3.1"/><circle cx="390.3" cy="377.9" r="3.1"/><circle cx="398.2" cy="387.2" r="3.1"/><circle cx="411.2" cy="382.4" r="3.1"/><circle cx="419.9" cy="382.3" r="3.1"/><circle cx="430.5" cy="376.7" r="3.1"/><circle cx="416.1" cy="395" r="3.1"/><circle cx="427.5" cy="390.4" r="3.1"/><circle cx="425.4" cy="392.9" r="3.1"/><circle cx="426.5" cy="397.1" r="3.1"/><circle cx="424.1" cy="398.9" r="3.1"/><circle cx="420.9" cy="405.1" r="3.1"/><circle cx="389.6" cy="411.7" r="3.1"/><circle cx="318.1" cy="402.1" r="3.1"/><circle cx="446.8" cy="379.9" r="3.1"/><circle cx="456.2" cy="383.7" r="3.1"/><circle cx="460.1" cy="379.8" r="3.1"/><circle cx="430.5" cy="391.1" r="3.1"/><circle cx="431" cy="396.4" r="3.1"/><circle cx="442.9" cy="402.2" r="3.1"/><circle cx="448.2" cy="400.8" r="3.1"/><circle cx="473.7" cy="398.3" r="3.1"/><circle cx="489.1" cy="393.3" r="3.1"/><circle cx="495" cy="396.4" r="3.1"/><circle cx="498.1" cy="404.6" r="3.1"/><circle cx="505.3" cy="389.3" r="3.1"/><circle cx="506.6" cy="392.2" r="3.1"/><circle cx="507.6" cy="396.4" r="3.1"/><circle cx="516.7" cy="388.4" r="3.1"/><circle cx="513.6" cy="396.9" r="3.1"/><circle cx="512.7" cy="402.1" r="3.1"/><circle cx="518.1" cy="400.6" r="3.1"/><circle cx="529.5" cy="409.9" r="3.1"/><circle cx="535.1" cy="398.6" r="3.1"/><circle cx="537.2" cy="400.1" r="3.1"/><circle cx="538.9" cy="407.9" r="3.1"/><circle cx="542.2" cy="403.7" r="3.1"/><circle cx="548.9" cy="398.6" r="3.1"/><circle cx="560.4" cy="402.2" r="3.1"/><circle cx="564.4" cy="399.8" r="3.1"/><circle cx="559.8" cy="410" r="3.1"/><circle cx="573.7" cy="401.3" r="3.1"/><circle cx="585.5" cy="407.1" r="3.1"/><circle cx="589.2" cy="406.6" r="3.1"/><circle cx="313" cy="401" r="3.1"/></g>
<g fill="#00ff1e"><rect x="590.4" y="405.4" width="4.4" height="4.4" rx="1"/></g>
<g fill="#ff1a00"><circle cx="126.1" cy="376.3" r="3.1"/><circle cx="127.4" cy="373.1" r="3.1"/><circle cx="127.2" cy="372.9" r="3.1"/><circle cx="126.2" cy="378.3" r="3.1"/><circle cx="128" cy="372.3" r="3.1"/><circle cx="126" cy="381.2" r="3.1"/><circle cx="126.4" cy="374.6" r="3.1"/><circle cx="129.5" cy="373.7" r="3.1"/><circle cx="128.4" cy="379.7" r="3.1"/><circle cx="129.4" cy="378.6" r="3.1"/><circle cx="128.8" cy="378.9" r="3.1"/><circle cx="128.6" cy="376.1" r="3.1"/><circle cx="128.1" cy="372.5" r="3.1"/><circle cx="131.3" cy="378.7" r="3.1"/><circle cx="131.7" cy="376.6" r="3.1"/><circle cx="130.8" cy="376.6" r="3.1"/><circle cx="131.3" cy="375.1" r="3.1"/><circle cx="131.6" cy="375.4" r="3.1"/><circle cx="130.1" cy="382.6" r="3.1"/><circle cx="134" cy="382.5" r="3.1"/><circle cx="133.4" cy="374" r="3.1"/><circle cx="132.8" cy="378" r="3.1"/><circle cx="133.1" cy="374.6" r="3.1"/><circle cx="132.2" cy="377.2" r="3.1"/><circle cx="132.2" cy="375.5" r="3.1"/><circle cx="134.4" cy="372.1" r="3.1"/><circle cx="134.1" cy="374.4" r="3.1"/><circle cx="135.2" cy="374.1" r="3.1"/><circle cx="135.4" cy="376.3" r="3.1"/><circle cx="134.6" cy="382.2" r="3.1"/><circle cx="135.2" cy="375.3" r="3.1"/><circle cx="136.4" cy="374.7" r="3.1"/><circle cx="136.3" cy="374.1" r="3.1"/><circle cx="137.7" cy="375.8" r="3.1"/><circle cx="136.4" cy="377.1" r="3.1"/><circle cx="137.4" cy="376.4" r="3.1"/><circle cx="137.6" cy="379.3" r="3.1"/><circle cx="138.9" cy="379.7" r="3.1"/><circle cx="139.3" cy="380.1" r="3.1"/><circle cx="139.3" cy="376.7" r="3.1"/><circle cx="139.9" cy="376.3" r="3.1"/><circle cx="139.3" cy="379.8" r="3.1"/><circle cx="138.7" cy="380.5" r="3.1"/><circle cx="138.6" cy="371.9" r="3.1"/><circle cx="141.3" cy="376.7" r="3.1"/><circle cx="140.5" cy="379.5" r="3.1"/><circle cx="141.4" cy="377.7" r="3.1"/><circle cx="141.3" cy="372.1" r="3.1"/><circle cx="140.7" cy="379.4" r="3.1"/><circle cx="141.2" cy="375.5" r="3.1"/><circle cx="143.2" cy="378.9" r="3.1"/><circle cx="143.7" cy="378.6" r="3.1"/><circle cx="143.6" cy="374.3" r="3.1"/><circle cx="143.6" cy="372.8" r="3.1"/><circle cx="142.2" cy="374.4" r="3.1"/><circle cx="143.8" cy="374.3" r="3.1"/><circle cx="144.6" cy="372.2" r="3.1"/><circle cx="145.2" cy="379.3" r="3.1"/><circle cx="146" cy="374.2" r="3.1"/><circle cx="144.3" cy="373" r="3.1"/><circle cx="144.2" cy="377.2" r="3.1"/><circle cx="145.1" cy="376.9" r="3.1"/><circle cx="146.3" cy="381.7" r="3.1"/><circle cx="147.8" cy="372.8" r="3.1"/><circle cx="146.7" cy="382.2" r="3.1"/><circle cx="147.2" cy="375.9" r="3.1"/><circle cx="147.1" cy="375.6" r="3.1"/><circle cx="146.5" cy="376.9" r="3.1"/><circle cx="146.7" cy="376.3" r="3.1"/><circle cx="149.4" cy="375.7" r="3.1"/><circle cx="149.2" cy="374" r="3.1"/><circle cx="149" cy="377.2" r="3.1"/><circle cx="149.3" cy="372.4" r="3.1"/><circle cx="148.7" cy="372" r="3.1"/><circle cx="149.3" cy="375.7" r="3.1"/><circle cx="150.6" cy="377.4" r="3.1"/><circle cx="151.8" cy="372.9" r="3.1"/><circle cx="150.8" cy="381.4" r="3.1"/><circle cx="150.6" cy="374.7" r="3.1"/><circle cx="151.9" cy="378.9" r="3.1"/><circle cx="151.5" cy="374.2" r="3.1"/><circle cx="152.2" cy="374.3" r="3.1"/><circle cx="153.3" cy="381.4" r="3.1"/><circle cx="153.6" cy="378" r="3.1"/><circle cx="152.8" cy="375.8" r="3.1"/><circle cx="153.8" cy="378.1" r="3.1"/><circle cx="153.4" cy="373.7" r="3.1"/><circle cx="155.3" cy="379" r="3.1"/><circle cx="154.1" cy="381.9" r="3.1"/><circle cx="155.5" cy="381.3" r="3.1"/><circle cx="156" cy="376.5" r="3.1"/><circle cx="155.9" cy="372.3" r="3.1"/><circle cx="155.1" cy="378.4" r="3.1"/><circle cx="156" cy="372" r="3.1"/><circle cx="157.4" cy="375.3" r="3.1"/><circle cx="157.7" cy="372.3" r="3.1"/><circle cx="158" cy="377.7" r="3.1"/><circle cx="157.3" cy="374.3" r="3.1"/><circle cx="157.4" cy="372.4" r="3.1"/><circle cx="158.3" cy="374.6" r="3.1"/><circle cx="158.7" cy="375.4" r="3.1"/><circle cx="159" cy="374" r="3.1"/><circle cx="158.9" cy="381.7" r="3.1"/><circle cx="159" cy="377.8" r="3.1"/><circle cx="158.9" cy="376.5" r="3.1"/><circle cx="159" cy="372.9" r="3.1"/><circle cx="160.4" cy="379.6" r="3.1"/><circle cx="160.2" cy="381.3" r="3.1"/><circle cx="160.8" cy="375.8" r="3.1"/><circle cx="161.1" cy="380.1" r="3.1"/><circle cx="160.1" cy="375.9" r="3.1"/><circle cx="160.1" cy="378.8" r="3.1"/><circle cx="162.1" cy="373.6" r="3.1"/><circle cx="162.9" cy="378.5" r="3.1"/><circle cx="163.2" cy="377.9" r="3.1"/><circle cx="162.4" cy="381.5" r="3.1"/><circle cx="162.2" cy="377.7" r="3.1"/><circle cx="163.5" cy="373.6" r="3.1"/><circle cx="162.9" cy="373.2" r="3.1"/><circle cx="165.2" cy="372.1" r="3.1"/><circle cx="165.3" cy="379.2" r="3.1"/><circle cx="164.1" cy="375.2" r="3.1"/><circle cx="165.7" cy="382.3" r="3.1"/><circle cx="164.5" cy="372.8" r="3.1"/><circle cx="165.3" cy="382.4" r="3.1"/><circle cx="167.4" cy="379.9" r="3.1"/><circle cx="168" cy="374.7" r="3.1"/><circle cx="167.6" cy="377.2" r="3.1"/><circle cx="166.2" cy="374.4" r="3.1"/><circle cx="167.2" cy="381" r="3.1"/><circle cx="166.6" cy="377.9" r="3.1"/><circle cx="168.6" cy="372.5" r="3.1"/><circle cx="168.4" cy="377.7" r="3.1"/><circle cx="168.9" cy="380.6" r="3.1"/><circle cx="169.4" cy="380.3" r="3.1"/><circle cx="169.9" cy="376" r="3.1"/><circle cx="168.1" cy="374.3" r="3.1"/><circle cx="170.9" cy="374.7" r="3.1"/><circle cx="170.4" cy="377.2" r="3.1"/><circle cx="171.4" cy="372.4" r="3.1"/><circle cx="170.9" cy="377.2" r="3.1"/><circle cx="170.5" cy="377" r="3.1"/><circle cx="170.9" cy="375" r="3.1"/><circle cx="172.5" cy="374.5" r="3.1"/><circle cx="172.5" cy="376.8" r="3.1"/><circle cx="173.3" cy="378.9" r="3.1"/><circle cx="172.8" cy="381" r="3.1"/><circle cx="172.3" cy="380.1" r="3.1"/><circle cx="172.7" cy="374.3" r="3.1"/><circle cx="172.2" cy="381" r="3.1"/><circle cx="175" cy="374.9" r="3.1"/><circle cx="174.2" cy="377.8" r="3.1"/><circle cx="175" cy="379.4" r="3.1"/><circle cx="175.1" cy="378" r="3.1"/><circle cx="175" cy="379.8" r="3.1"/><circle cx="174.1" cy="375.4" r="3.1"/><circle cx="177.2" cy="376.9" r="3.1"/><circle cx="176.3" cy="375.5" r="3.1"/><circle cx="176.2" cy="377" r="3.1"/><circle cx="176.5" cy="375.7" r="3.1"/><circle cx="176.5" cy="374.8" r="3.1"/><circle cx="176.7" cy="379.7" r="3.1"/><circle cx="179.8" cy="373.3" r="3.1"/><circle cx="179.7" cy="378.3" r="3.1"/><circle cx="178.1" cy="373" r="3.1"/><circle cx="178.1" cy="373.2" r="3.1"/><circle cx="178.1" cy="372.1" r="3.1"/><circle cx="179.6" cy="376.5" r="3.1"/><circle cx="179.4" cy="372.6" r="3.1"/><circle cx="181.7" cy="378.1" r="3.1"/><circle cx="181.1" cy="380.4" r="3.1"/><circle cx="180.7" cy="375.7" r="3.1"/><circle cx="181.2" cy="380.6" r="3.1"/><circle cx="180.5" cy="376.3" r="3.1"/><circle cx="181.5" cy="380.6" r="3.1"/><circle cx="180.2" cy="380.6" r="3.1"/><circle cx="183" cy="375.8" r="3.1"/><circle cx="182.8" cy="372.3" r="3.1"/><circle cx="183" cy="377.5" r="3.1"/><circle cx="182.3" cy="380.4" r="3.1"/><circle cx="183.4" cy="373.7" r="3.1"/><circle cx="182.6" cy="374.5" r="3.1"/><circle cx="185.6" cy="375.7" r="3.1"/><circle cx="185.1" cy="372.3" r="3.1"/><circle cx="185.8" cy="378.1" r="3.1"/><circle cx="185" cy="373.1" r="3.1"/><circle cx="184.4" cy="373.7" r="3.1"/><circle cx="184.4" cy="373.6" r="3.1"/><circle cx="186.2" cy="379.8" r="3.1"/><circle cx="187.8" cy="376.6" r="3.1"/><circle cx="186.9" cy="374.5" r="3.1"/><circle cx="187.9" cy="377.5" r="3.1"/><circle cx="186.7" cy="380.1" r="3.1"/><circle cx="187.3" cy="376" r="3.1"/><circle cx="188.5" cy="373.9" r="3.1"/><circle cx="190" cy="375.1" r="3.1"/><circle cx="189.8" cy="380.8" r="3.1"/><circle cx="188.7" cy="372.8" r="3.1"/><circle cx="188.7" cy="379.2" r="3.1"/><circle cx="189.8" cy="381" r="3.1"/><circle cx="190.8" cy="378.7" r="3.1"/><circle cx="191.2" cy="373.2" r="3.1"/><circle cx="191.1" cy="376.1" r="3.1"/><circle cx="190.7" cy="371.9" r="3.1"/><circle cx="190.8" cy="380.2" r="3.1"/><circle cx="190.7" cy="372.6" r="3.1"/><circle cx="192.4" cy="372.2" r="3.1"/><circle cx="193.9" cy="379.4" r="3.1"/><circle cx="192.5" cy="380.5" r="3.1"/><circle cx="194" cy="381.8" r="3.1"/><circle cx="193.3" cy="372.9" r="3.1"/><circle cx="192.5" cy="380" r="3.1"/><circle cx="194.7" cy="372.7" r="3.1"/><circle cx="194.3" cy="379.7" r="3.1"/><circle cx="194.3" cy="382.1" r="3.1"/><circle cx="195.4" cy="377" r="3.1"/><circle cx="195.4" cy="382" r="3.1"/><circle cx="195.5" cy="373.8" r="3.1"/><circle cx="197.8" cy="381.3" r="3.1"/><circle cx="196" cy="375.4" r="3.1"/><circle cx="197" cy="378.6" r="3.1"/><circle cx="197.7" cy="374.7" r="3.1"/><circle cx="197.5" cy="373.5" r="3.1"/><circle cx="197.1" cy="373.6" r="3.1"/><circle cx="198.3" cy="374.4" r="3.1"/><circle cx="199.3" cy="375.5" r="3.1"/><circle cx="198.5" cy="377.8" r="3.1"/><circle cx="198.4" cy="374.6" r="3.1"/><circle cx="198.7" cy="375" r="3.1"/><circle cx="198.6" cy="380.2" r="3.1"/><circle cx="200" cy="375.3" r="3.1"/><circle cx="201.4" cy="380.5" r="3.1"/><circle cx="200.8" cy="372.4" r="3.1"/><circle cx="200.3" cy="373.9" r="3.1"/><circle cx="200.8" cy="375.5" r="3.1"/><circle cx="200.1" cy="378.9" r="3.1"/><circle cx="203" cy="373.3" r="3.1"/><circle cx="202.6" cy="374.1" r="3.1"/><circle cx="203.3" cy="375.4" r="3.1"/><circle cx="202" cy="378" r="3.1"/><circle cx="203.9" cy="375.5" r="3.1"/><circle cx="202.2" cy="377.1" r="3.1"/><circle cx="206" cy="373.6" r="3.1"/><circle cx="204.8" cy="379.4" r="3.1"/><circle cx="204.6" cy="373.8" r="3.1"/><circle cx="205.4" cy="372.2" r="3.1"/><circle cx="205.5" cy="375.9" r="3.1"/><circle cx="204.8" cy="375" r="3.1"/><circle cx="206.3" cy="374.9" r="3.1"/><circle cx="206.7" cy="378.7" r="3.1"/><circle cx="206.7" cy="380.3" r="3.1"/><circle cx="206.1" cy="375.2" r="3.1"/><circle cx="207.7" cy="381.1" r="3.1"/><circle cx="206.6" cy="372.4" r="3.1"/><circle cx="210" cy="374.5" r="3.1"/><circle cx="208.5" cy="377.1" r="3.1"/><circle cx="208.7" cy="377.4" r="3.1"/><circle cx="208.5" cy="375.8" r="3.1"/><circle cx="208.6" cy="374.4" r="3.1"/><circle cx="209.7" cy="380.2" r="3.1"/><circle cx="208.2" cy="373.2" r="3.1"/><circle cx="210.7" cy="377.7" r="3.1"/><circle cx="210.5" cy="381.6" r="3.1"/><circle cx="211.2" cy="379.7" r="3.1"/><circle cx="210.1" cy="381.8" r="3.1"/><circle cx="211.9" cy="376.7" r="3.1"/><circle cx="210.8" cy="377.3" r="3.1"/><circle cx="212.4" cy="374.1" r="3.1"/><circle cx="212.9" cy="374.6" r="3.1"/><circle cx="213.9" cy="372" r="3.1"/><circle cx="213.1" cy="372.3" r="3.1"/><circle cx="213.7" cy="376.2" r="3.1"/><circle cx="212.7" cy="379.5" r="3.1"/><circle cx="215.9" cy="376.1" r="3.1"/><circle cx="215" cy="374.4" r="3.1"/><circle cx="215.9" cy="374.9" r="3.1"/><circle cx="214.9" cy="374.9" r="3.1"/><circle cx="215.1" cy="376.5" r="3.1"/><circle cx="215.5" cy="375.3" r="3.1"/><circle cx="217.5" cy="374.7" r="3.1"/><circle cx="217.8" cy="377.4" r="3.1"/><circle cx="217.7" cy="373.7" r="3.1"/><circle cx="217.2" cy="372.1" r="3.1"/><circle cx="216.1" cy="381.4" r="3.1"/><circle cx="217.9" cy="379.9" r="3.1"/><circle cx="218.5" cy="374.8" r="3.1"/><circle cx="219.2" cy="376.2" r="3.1"/><circle cx="219.2" cy="376.5" r="3.1"/><circle cx="218.7" cy="377.5" r="3.1"/><circle cx="219.1" cy="380.6" r="3.1"/><circle cx="218.2" cy="373.2" r="3.1"/><circle cx="221.7" cy="378.1" r="3.1"/><circle cx="220.4" cy="375.6" r="3.1"/><circle cx="220.6" cy="374.2" r="3.1"/><circle cx="220.1" cy="375.1" r="3.1"/><circle cx="220.9" cy="374.2" r="3.1"/><circle cx="220.9" cy="373.7" r="3.1"/><circle cx="222.9" cy="373.4" r="3.1"/><circle cx="222.5" cy="379.7" r="3.1"/><circle cx="223.3" cy="377.8" r="3.1"/><circle cx="223.5" cy="375.8" r="3.1"/><circle cx="222.1" cy="381.1" r="3.1"/><circle cx="223.6" cy="372.1" r="3.1"/><circle cx="222.7" cy="376.7" r="3.1"/><circle cx="224.3" cy="373.6" r="3.1"/><circle cx="224.1" cy="380.7" r="3.1"/><circle cx="225.7" cy="374.3" r="3.1"/><circle cx="224.4" cy="374.3" r="3.1"/><circle cx="225.9" cy="377.5" r="3.1"/><circle cx="224.6" cy="381.3" r="3.1"/><circle cx="226.7" cy="373.6" r="3.1"/><circle cx="226.3" cy="372.2" r="3.1"/><circle cx="226.5" cy="372.2" r="3.1"/><circle cx="226.9" cy="372.9" r="3.1"/><circle cx="226.7" cy="377.6" r="3.1"/><circle cx="227.1" cy="378.2" r="3.1"/><circle cx="228.2" cy="373.6" r="3.1"/><circle cx="229.1" cy="372.8" r="3.1"/><circle cx="229.4" cy="374.3" r="3.1"/><circle cx="229.5" cy="374" r="3.1"/><circle cx="228.2" cy="377" r="3.1"/><circle cx="229.3" cy="372.8" r="3.1"/><circle cx="230.8" cy="371.9" r="3.1"/><circle cx="231.5" cy="376.6" r="3.1"/><circle cx="230.4" cy="380.4" r="3.1"/><circle cx="230.4" cy="376.6" r="3.1"/><circle cx="231.3" cy="378.3" r="3.1"/><circle cx="230.7" cy="374.1" r="3.1"/><circle cx="233.7" cy="373.8" r="3.1"/><circle cx="232.4" cy="380.9" r="3.1"/><circle cx="232.4" cy="379.4" r="3.1"/><circle cx="233.8" cy="374.4" r="3.1"/><circle cx="233.5" cy="381" r="3.1"/><circle cx="232.9" cy="372" r="3.1"/><circle cx="234.8" cy="372.9" r="3.1"/><circle cx="235.4" cy="372" r="3.1"/><circle cx="235.6" cy="374.7" r="3.1"/><circle cx="234.7" cy="376.5" r="3.1"/><circle cx="234.7" cy="377.8" r="3.1"/><circle cx="234.9" cy="374.1" r="3.1"/><circle cx="237.8" cy="374.2" r="3.1"/><circle cx="236" cy="373.7" r="3.1"/><circle cx="236.9" cy="377.6" r="3.1"/><circle cx="237.6" cy="380.4" r="3.1"/><circle cx="237.3" cy="377.6" r="3.1"/><circle cx="236.5" cy="380.5" r="3.1"/><circle cx="238.8" cy="381.2" r="3.1"/><circle cx="239.9" cy="379.5" r="3.1"/><circle cx="238.3" cy="377.3" r="3.1"/><circle cx="239.9" cy="375.2" r="3.1"/><circle cx="238.9" cy="374.1" r="3.1"/><circle cx="239.6" cy="379.4" r="3.1"/><circle cx="240.2" cy="376.7" r="3.1"/><circle cx="240.8" cy="377.2" r="3.1"/><circle cx="241.6" cy="372.8" r="3.1"/><circle cx="241.1" cy="374" r="3.1"/><circle cx="241.7" cy="373.2" r="3.1"/><circle cx="241.2" cy="373.4" r="3.1"/><circle cx="241.5" cy="372.5" r="3.1"/><circle cx="242.3" cy="373.3" r="3.1"/><circle cx="243.2" cy="373.6" r="3.1"/><circle cx="242.3" cy="378.8" r="3.1"/><circle cx="242.8" cy="373.2" r="3.1"/><circle cx="243.5" cy="372.2" r="3.1"/><circle cx="243.6" cy="375.2" r="3.1"/><circle cx="245.8" cy="378.1" r="3.1"/><circle cx="244.3" cy="373.9" r="3.1"/><circle cx="245.5" cy="373.7" r="3.1"/><circle cx="245.8" cy="373.1" r="3.1"/><circle cx="244.9" cy="379.1" r="3.1"/><circle cx="245.6" cy="381.7" r="3.1"/><circle cx="247.2" cy="377.4" r="3.1"/><circle cx="246.9" cy="373.1" r="3.1"/><circle cx="247.3" cy="373.4" r="3.1"/><circle cx="246.3" cy="380.4" r="3.1"/><circle cx="247.6" cy="376.4" r="3.1"/><circle cx="246.3" cy="372.7" r="3.1"/><circle cx="248.2" cy="373.3" r="3.1"/><circle cx="249.8" cy="372.2" r="3.1"/><circle cx="248.7" cy="374.4" r="3.1"/><circle cx="248.7" cy="373.5" r="3.1"/><circle cx="249.7" cy="379.3" r="3.1"/><circle cx="248.9" cy="376.4" r="3.1"/><circle cx="251.8" cy="380.8" r="3.1"/><circle cx="251.9" cy="380.4" r="3.1"/><circle cx="250.7" cy="380.2" r="3.1"/><circle cx="251.1" cy="381.2" r="3.1"/><circle cx="251.9" cy="375.4" r="3.1"/><circle cx="251.8" cy="373.9" r="3.1"/><circle cx="253" cy="379.4" r="3.1"/><circle cx="252.8" cy="379.2" r="3.1"/><circle cx="252.8" cy="374.1" r="3.1"/><circle cx="252.1" cy="373.9" r="3.1"/><circle cx="252.8" cy="372" r="3.1"/><circle cx="253.9" cy="375.1" r="3.1"/><circle cx="255.5" cy="377.5" r="3.1"/><circle cx="254.1" cy="372.1" r="3.1"/><circle cx="255.5" cy="379.6" r="3.1"/><circle cx="255.2" cy="372.9" r="3.1"/><circle cx="254.9" cy="373.9" r="3.1"/><circle cx="256" cy="381.5" r="3.1"/><circle cx="256.1" cy="373.5" r="3.1"/><circle cx="256.7" cy="379.4" r="3.1"/><circle cx="256" cy="378.7" r="3.1"/><circle cx="256" cy="372.2" r="3.1"/><circle cx="257.5" cy="376.7" r="3.1"/><circle cx="258" cy="374" r="3.1"/><circle cx="259.5" cy="372.3" r="3.1"/><circle cx="258.1" cy="377.5" r="3.1"/><circle cx="258.6" cy="379.3" r="3.1"/><circle cx="258.4" cy="372.8" r="3.1"/><circle cx="258.5" cy="377.8" r="3.1"/><circle cx="258.6" cy="374.7" r="3.1"/><circle cx="260.8" cy="375.7" r="3.1"/><circle cx="260" cy="377.9" r="3.1"/><circle cx="261.1" cy="376.3" r="3.1"/><circle cx="260.4" cy="376.6" r="3.1"/><circle cx="260.9" cy="372.6" r="3.1"/><circle cx="261.4" cy="374" r="3.1"/><circle cx="263.7" cy="373.9" r="3.1"/><circle cx="264" cy="381.4" r="3.1"/><circle cx="263" cy="376.9" r="3.1"/><circle cx="262.9" cy="372.1" r="3.1"/><circle cx="264" cy="373.2" r="3.1"/><circle cx="262.6" cy="373.9" r="3.1"/><circle cx="264.7" cy="375.5" r="3.1"/><circle cx="264.4" cy="376.7" r="3.1"/><circle cx="264.1" cy="378.9" r="3.1"/><circle cx="265.4" cy="379.4" r="3.1"/><circle cx="265.1" cy="377.5" r="3.1"/><circle cx="264.7" cy="379.8" r="3.1"/><circle cx="267.6" cy="376.3" r="3.1"/><circle cx="266.5" cy="377.1" r="3.1"/><circle cx="266.5" cy="372.6" r="3.1"/><circle cx="268" cy="381.8" r="3.1"/><circle cx="266.5" cy="373.5" r="3.1"/><circle cx="266" cy="378.4" r="3.1"/><circle cx="268.5" cy="379.1" r="3.1"/><circle cx="268.2" cy="375.6" r="3.1"/><circle cx="269" cy="379.6" r="3.1"/><circle cx="268.7" cy="380.6" r="3.1"/><circle cx="269.2" cy="376.5" r="3.1"/><circle cx="268.7" cy="377.9" r="3.1"/><circle cx="270.3" cy="380.2" r="3.1"/><circle cx="271.4" cy="381.7" r="3.1"/><circle cx="270.9" cy="373.8" r="3.1"/><circle cx="271" cy="382" r="3.1"/><circle cx="271.3" cy="373.3" r="3.1"/><circle cx="271.3" cy="375.5" r="3.1"/><circle cx="271.2" cy="373.3" r="3.1"/><circle cx="272.5" cy="379" r="3.1"/><circle cx="272.6" cy="374.9" r="3.1"/><circle cx="272.7" cy="380.7" r="3.1"/><circle cx="273.6" cy="376.2" r="3.1"/><circle cx="272.9" cy="381.3" r="3.1"/><circle cx="272.2" cy="377.9" r="3.1"/><circle cx="274.9" cy="374.7" r="3.1"/><circle cx="275.7" cy="377.7" r="3.1"/><circle cx="275.2" cy="378.2" r="3.1"/><circle cx="274.8" cy="372.7" r="3.1"/><circle cx="274.5" cy="377.7" r="3.1"/><circle cx="274.2" cy="378.7" r="3.1"/><circle cx="277.5" cy="380.2" r="3.1"/><circle cx="276.4" cy="377.6" r="3.1"/><circle cx="276.9" cy="382.4" r="3.1"/><circle cx="276.9" cy="377.7" r="3.1"/><circle cx="277.4" cy="375.7" r="3.1"/><circle cx="277.3" cy="376.5" r="3.1"/><circle cx="279.2" cy="377.5" r="3.1"/><circle cx="279" cy="378.5" r="3.1"/><circle cx="278.1" cy="379" r="3.1"/><circle cx="278.5" cy="377.8" r="3.1"/><circle cx="278.3" cy="377.4" r="3.1"/><circle cx="279.2" cy="379.3" r="3.1"/><circle cx="279.7" cy="372.4" r="3.1"/><circle cx="280.7" cy="373.4" r="3.1"/><circle cx="280" cy="381.9" r="3.1"/><circle cx="281.2" cy="373.2" r="3.1"/><circle cx="280.4" cy="375.9" r="3.1"/><circle cx="280.5" cy="372.8" r="3.1"/><circle cx="280.8" cy="373.8" r="3.1"/><circle cx="281.8" cy="381.9" r="3.1"/><circle cx="283.1" cy="374.1" r="3.1"/><circle cx="283.6" cy="374.7" r="3.1"/><circle cx="283.5" cy="376.3" r="3.1"/><circle cx="283.3" cy="374.7" r="3.1"/><circle cx="282.1" cy="376.8" r="3.1"/><circle cx="283.3" cy="375.9" r="3.1"/><circle cx="282.5" cy="378.3" r="3.1"/><circle cx="284.5" cy="373.8" r="3.1"/><circle cx="284.1" cy="381.3" r="3.1"/><circle cx="284.1" cy="378.6" r="3.1"/><circle cx="284.2" cy="374.3" r="3.1"/><circle cx="285.9" cy="380.3" r="3.1"/><circle cx="285.6" cy="379.3" r="3.1"/><circle cx="285.4" cy="371.9" r="3.1"/><circle cx="287.3" cy="374.2" r="3.1"/><circle cx="287.1" cy="380.8" r="3.1"/><circle cx="286.8" cy="381.2" r="3.1"/><circle cx="286.8" cy="375.1" r="3.1"/><circle cx="286.3" cy="381.6" r="3.1"/><circle cx="287.4" cy="381.3" r="3.1"/><circle cx="287.9" cy="373.6" r="3.1"/><circle cx="288.1" cy="378.6" r="3.1"/><circle cx="289.6" cy="381.5" r="3.1"/><circle cx="288.6" cy="375.9" r="3.1"/><circle cx="289.4" cy="372.6" r="3.1"/><circle cx="289.4" cy="373.7" r="3.1"/><circle cx="289" cy="375.5" r="3.1"/><circle cx="291.7" cy="381.9" r="3.1"/><circle cx="291.4" cy="381.4" r="3.1"/><circle cx="291.6" cy="381.2" r="3.1"/><circle cx="291.8" cy="379.5" r="3.1"/><circle cx="290.5" cy="376.4" r="3.1"/><circle cx="290.5" cy="380.7" r="3.1"/><circle cx="291" cy="379.2" r="3.1"/><circle cx="293.7" cy="375.3" r="3.1"/><circle cx="293.1" cy="373" r="3.1"/><circle cx="293.3" cy="380.1" r="3.1"/><circle cx="292.2" cy="373.5" r="3.1"/><circle cx="292.8" cy="375.8" r="3.1"/><circle cx="292.9" cy="378.9" r="3.1"/><circle cx="295.4" cy="381.9" r="3.1"/><circle cx="295.6" cy="380.6" r="3.1"/><circle cx="294.5" cy="382" r="3.1"/><circle cx="295.9" cy="376.6" r="3.1"/><circle cx="295.9" cy="373" r="3.1"/><circle cx="295.5" cy="378.6" r="3.1"/><circle cx="296.9" cy="378" r="3.1"/><circle cx="296.7" cy="374.8" r="3.1"/><circle cx="297.2" cy="379.8" r="3.1"/><circle cx="297.6" cy="373.6" r="3.1"/><circle cx="297.6" cy="381.9" r="3.1"/><circle cx="298.8" cy="373.8" r="3.1"/><circle cx="299.3" cy="379.6" r="3.1"/><circle cx="298.8" cy="375.6" r="3.1"/><circle cx="299.4" cy="376" r="3.1"/><circle cx="299.4" cy="378.4" r="3.1"/><circle cx="298.2" cy="373.8" r="3.1"/><circle cx="301.4" cy="374.5" r="3.1"/><circle cx="300.6" cy="373.5" r="3.1"/><circle cx="300.9" cy="379.5" r="3.1"/><circle cx="300.8" cy="372.6" r="3.1"/><circle cx="300.6" cy="375.6" r="3.1"/><circle cx="303.6" cy="377.3" r="3.1"/><circle cx="304" cy="373.3" r="3.1"/><circle cx="304" cy="379.6" r="3.1"/><circle cx="302.5" cy="372.8" r="3.1"/><circle cx="302.2" cy="380.3" r="3.1"/><circle cx="306" cy="373.8" r="3.1"/><circle cx="304.8" cy="378.2" r="3.1"/><circle cx="304.1" cy="372.4" r="3.1"/><circle cx="304.1" cy="377.3" r="3.1"/><circle cx="304.3" cy="377.2" r="3.1"/><circle cx="306.7" cy="373.9" r="3.1"/><circle cx="308" cy="375.4" r="3.1"/><circle cx="307.1" cy="377.1" r="3.1"/><circle cx="306.2" cy="373.7" r="3.1"/><circle cx="309.8" cy="373.1" r="3.1"/><circle cx="308.3" cy="372.4" r="3.1"/><circle cx="309.3" cy="375.5" r="3.1"/><circle cx="308.5" cy="374.4" r="3.1"/><circle cx="310.7" cy="375.4" r="3.1"/><circle cx="310.6" cy="372.8" r="3.1"/><circle cx="310.6" cy="374" r="3.1"/><circle cx="310.7" cy="372" r="3.1"/><circle cx="312.3" cy="376.5" r="3.1"/><circle cx="313.8" cy="377.5" r="3.1"/><circle cx="313.9" cy="373.8" r="3.1"/><circle cx="313.4" cy="376.1" r="3.1"/><circle cx="312.2" cy="372.3" r="3.1"/><circle cx="314.3" cy="376.8" r="3.1"/><circle cx="314.8" cy="375.2" r="3.1"/><circle cx="315.3" cy="376.1" r="3.1"/><circle cx="315.6" cy="372.5" r="3.1"/><circle cx="317" cy="373.4" r="3.1"/><circle cx="317" cy="374.1" r="3.1"/><circle cx="317.3" cy="376.4" r="3.1"/><circle cx="319.9" cy="376.1" r="3.1"/><circle cx="319.9" cy="373.5" r="3.1"/><circle cx="319.1" cy="375.7" r="3.1"/><circle cx="318.6" cy="375.3" r="3.1"/><circle cx="322" cy="375.2" r="3.1"/><circle cx="320.4" cy="375.3" r="3.1"/><circle cx="321.9" cy="374.7" r="3.1"/><circle cx="320.4" cy="375.8" r="3.1"/><circle cx="324" cy="373.8" r="3.1"/><circle cx="323.9" cy="372.7" r="3.1"/><circle cx="322.3" cy="375" r="3.1"/><circle cx="323.2" cy="372.9" r="3.1"/><circle cx="324.9" cy="375.1" r="3.1"/><circle cx="325.7" cy="372.6" r="3.1"/><circle cx="325.7" cy="372.7" r="3.1"/><circle cx="327.9" cy="373.4" r="3.1"/><circle cx="327.5" cy="374.8" r="3.1"/><circle cx="327.3" cy="373.4" r="3.1"/><circle cx="329.3" cy="372.6" r="3.1"/><circle cx="328.3" cy="373.3" r="3.1"/><circle cx="329.3" cy="374" r="3.1"/><circle cx="331.2" cy="373.9" r="3.1"/><circle cx="331.7" cy="372.5" r="3.1"/><circle cx="331.9" cy="373.2" r="3.1"/><circle cx="332.3" cy="372.9" r="3.1"/><circle cx="332.5" cy="373.6" r="3.1"/><circle cx="332.5" cy="373.4" r="3.1"/><circle cx="334" cy="372.7" r="3.1"/><circle cx="335.8" cy="372.6" r="3.1"/><circle cx="335.6" cy="372.9" r="3.1"/><circle cx="337.5" cy="372.2" r="3.1"/><circle cx="337.1" cy="372.4" r="3.1"/><circle cx="339.6" cy="372" r="3.1"/><circle cx="339" cy="372.3" r="3.1"/><circle cx="341.3" cy="372.1" r="3.1"/><circle cx="340.3" cy="372" r="3.1"/><circle cx="343.2" cy="371.9" r="3.1"/><circle cx="343.4" cy="371.9" r="3.1"/><circle cx="344.3" cy="371.9" r="3.1"/><circle cx="344.1" cy="371.9" r="3.1"/><circle cx="345.6" cy="371.9" r="3.1"/><circle cx="347.5" cy="371.9" r="3.1"/><circle cx="347.4" cy="371.9" r="3.1"/><circle cx="348.8" cy="371.8" r="3.1"/><circle cx="350.8" cy="371.8" r="3.1"/><circle cx="353.8" cy="371.8" r="3.1"/><circle cx="354.2" cy="371.7" r="3.1"/><circle cx="354.1" cy="371.8" r="3.1"/><circle cx="356.7" cy="371.7" r="3.1"/><circle cx="356.4" cy="371.8" r="3.1"/><circle cx="358.9" cy="371.9" r="3.1"/><circle cx="361.1" cy="371.6" r="3.1"/><circle cx="361" cy="371.7" r="3.1"/><circle cx="363" cy="371.6" r="3.1"/><circle cx="365.8" cy="371.7" r="3.1"/><circle cx="365" cy="371.9" r="3.1"/><circle cx="367.3" cy="371.9" r="3.1"/><circle cx="366.3" cy="371.5" r="3.1"/><circle cx="368.4" cy="371.8" r="3.1"/><circle cx="369.3" cy="371.5" r="3.1"/><circle cx="370.1" cy="371.7" r="3.1"/><circle cx="370" cy="371.4" r="3.1"/><circle cx="373.9" cy="371.8" r="3.1"/><circle cx="375.5" cy="371.8" r="3.1"/><circle cx="374.5" cy="371.6" r="3.1"/><circle cx="377.8" cy="371.9" r="3.1"/><circle cx="378.9" cy="371.6" r="3.1"/><circle cx="381.9" cy="371" r="3.1"/><circle cx="380.7" cy="371.6" r="3.1"/><circle cx="383.9" cy="371.7" r="3.1"/><circle cx="383.1" cy="371.1" r="3.1"/><circle cx="128" cy="385.3" r="3.1"/><circle cx="134.5" cy="386" r="3.1"/><circle cx="145.4" cy="387.7" r="3.1"/><circle cx="150.9" cy="387.1" r="3.1"/><circle cx="158" cy="385.3" r="3.1"/><circle cx="167.4" cy="386.1" r="3.1"/><circle cx="174.7" cy="384.9" r="3.1"/><circle cx="181.6" cy="387.4" r="3.1"/><circle cx="188.8" cy="386.6" r="3.1"/><circle cx="196.3" cy="385" r="3.1"/><circle cx="206.5" cy="386.7" r="3.1"/><circle cx="214.5" cy="386" r="3.1"/><circle cx="223.3" cy="384.4" r="3.1"/><circle cx="228.3" cy="386.9" r="3.1"/><circle cx="236.4" cy="386.2" r="3.1"/><circle cx="244.2" cy="385.9" r="3.1"/><circle cx="252.6" cy="387.2" r="3.1"/><circle cx="262.7" cy="385.6" r="3.1"/><circle cx="270.9" cy="386.9" r="3.1"/><circle cx="278.9" cy="386.3" r="3.1"/><circle cx="286.2" cy="386.7" r="3.1"/><circle cx="297.1" cy="384.1" r="3.1"/><circle cx="305.2" cy="379" r="3.1"/><circle cx="315" cy="380.1" r="3.1"/><circle cx="323.2" cy="376.2" r="3.1"/><circle cx="331.1" cy="374.7" r="3.1"/><circle cx="342" cy="374.5" r="3.1"/><circle cx="127" cy="371.9" r="3.1"/><circle cx="128.7" cy="371.9" r="3.1"/><circle cx="130.4" cy="371.9" r="3.1"/><circle cx="132.1" cy="371.9" r="3.1"/><circle cx="133.8" cy="371.9" r="3.1"/><circle cx="135.5" cy="371.9" r="3.1"/><circle cx="137.2" cy="371.9" r="3.1"/><circle cx="138.9" cy="371.9" r="3.1"/><circle cx="140.6" cy="371.9" r="3.1"/><circle cx="142.3" cy="371.9" r="3.1"/><circle cx="144" cy="371.9" r="3.1"/><circle cx="145.7" cy="371.9" r="3.1"/><circle cx="147.4" cy="371.9" r="3.1"/><circle cx="149.1" cy="371.9" r="3.1"/><circle cx="150.8" cy="371.9" r="3.1"/><circle cx="152.5" cy="371.9" r="3.1"/><circle cx="154.2" cy="371.9" r="3.1"/><circle cx="155.9" cy="371.9" r="3.1"/><circle cx="157.6" cy="371.9" r="3.1"/><circle cx="159.3" cy="371.9" r="3.1"/><circle cx="161" cy="371.9" r="3.1"/><circle cx="162.7" cy="371.9" r="3.1"/><circle cx="164.4" cy="371.9" r="3.1"/><circle cx="166.1" cy="371.9" r="3.1"/><circle cx="167.8" cy="371.9" r="3.1"/><circle cx="169.5" cy="371.9" r="3.1"/><circle cx="171.2" cy="371.9" r="3.1"/><circle cx="172.9" cy="371.9" r="3.1"/><circle cx="174.6" cy="371.9" r="3.1"/><circle cx="176.3" cy="371.9" r="3.1"/><circle cx="178" cy="371.9" r="3.1"/><circle cx="179.7" cy="371.9" r="3.1"/><circle cx="181.4" cy="371.9" r="3.1"/><circle cx="183.1" cy="371.9" r="3.1"/><circle cx="184.8" cy="371.9" r="3.1"/><circle cx="186.5" cy="371.9" r="3.1"/><circle cx="188.2" cy="371.9" r="3.1"/><circle cx="189.9" cy="371.9" r="3.1"/><circle cx="191.6" cy="371.9" r="3.1"/><circle cx="193.3" cy="371.9" r="3.1"/><circle cx="195" cy="371.9" r="3.1"/><circle cx="196.7" cy="371.9" r="3.1"/><circle cx="198.4" cy="371.9" r="3.1"/><circle cx="200.1" cy="371.9" r="3.1"/><circle cx="201.8" cy="371.9" r="3.1"/><circle cx="203.5" cy="371.9" r="3.1"/><circle cx="205.2" cy="371.9" r="3.1"/><circle cx="206.9" cy="371.9" r="3.1"/><circle cx="208.6" cy="371.9" r="3.1"/><circle cx="210.3" cy="371.9" r="3.1"/><circle cx="212" cy="371.9" r="3.1"/><circle cx="213.7" cy="371.9" r="3.1"/><circle cx="215.4" cy="371.9" r="3.1"/><circle cx="217.1" cy="371.9" r="3.1"/><circle cx="218.8" cy="371.9" r="3.1"/><circle cx="220.5" cy="371.9" r="3.1"/><circle cx="222.2" cy="371.9" r="3.1"/><circle cx="223.9" cy="371.9" r="3.1"/><circle cx="225.6" cy="371.9" r="3.1"/><circle cx="227.3" cy="371.9" r="3.1"/><circle cx="229" cy="371.9" r="3.1"/><circle cx="230.7" cy="371.9" r="3.1"/><circle cx="232.4" cy="371.9" r="3.1"/><circle cx="234.1" cy="371.9" r="3.1"/><circle cx="235.8" cy="371.9" r="3.1"/><circle cx="237.5" cy="371.9" r="3.1"/><circle cx="239.2" cy="371.9" r="3.1"/><circle cx="240.9" cy="371.9" r="3.1"/><circle cx="242.6" cy="371.9" r="3.1"/><circle cx="244.3" cy="371.9" r="3.1"/><circle cx="246" cy="371.9" r="3.1"/><circle cx="247.7" cy="371.9" r="3.1"/><circle cx="249.4" cy="371.9" r="3.1"/><circle cx="251.1" cy="371.9" r="3.1"/><circle cx="252.8" cy="371.9" r="3.1"/><circle cx="254.5" cy="371.9" r="3.1"/><circle cx="256.2" cy="371.9" r="3.1"/><circle cx="257.9" cy="371.9" r="3.1"/><circle cx="259.6" cy="371.9" r="3.1"/><circle cx="261.3" cy="371.9" r="3.1"/><circle cx="263" cy="371.9" r="3.1"/><circle cx="264.7" cy="371.9" r="3.1"/><circle cx="266.4" cy="371.9" r="3.1"/><circle cx="268.1" cy="371.9" r="3.1"/><circle cx="269.8" cy="371.9" r="3.1"/><circle cx="271.5" cy="371.9" r="3.1"/><circle cx="273.2" cy="371.9" r="3.1"/><circle cx="274.9" cy="371.9" r="3.1"/><circle cx="276.6" cy="371.9" r="3.1"/><circle cx="278.3" cy="371.9" r="3.1"/><circle cx="280" cy="371.9" r="3.1"/><circle cx="281.7" cy="371.9" r="3.1"/><circle cx="283.4" cy="371.9" r="3.1"/><circle cx="285.1" cy="371.9" r="3.1"/><circle cx="286.8" cy="371.9" r="3.1"/><circle cx="288.5" cy="371.9" r="3.1"/><circle cx="290.2" cy="371.9" r="3.1"/><circle cx="291.9" cy="371.9" r="3.1"/><circle cx="293.6" cy="371.9" r="3.1"/><circle cx="295.3" cy="371.9" r="3.1"/><circle cx="297" cy="371.9" r="3.1"/><circle cx="298.7" cy="371.9" r="3.1"/><circle cx="300.4" cy="371.9" r="3.1"/><circle cx="302.1" cy="371.9" r="3.1"/><circle cx="303.8" cy="371.9" r="3.1"/><circle cx="305.5" cy="371.9" r="3.1"/><circle cx="307.2" cy="371.9" r="3.1"/><circle cx="308.9" cy="371.9" r="3.1"/><circle cx="310.6" cy="371.9" r="3.1"/><circle cx="312.3" cy="371.9" r="3.1"/><circle cx="314" cy="371.9" r="3.1"/><circle cx="315.7" cy="371.9" r="3.1"/><circle cx="317.4" cy="371.9" r="3.1"/><circle cx="319.1" cy="371.9" r="3.1"/><circle cx="320.8" cy="371.9" r="3.1"/><circle cx="322.5" cy="371.9" r="3.1"/><circle cx="324.2" cy="371.9" r="3.1"/><circle cx="325.9" cy="371.9" r="3.1"/><circle cx="327.6" cy="371.9" r="3.1"/><circle cx="329.3" cy="371.9" r="3.1"/><circle cx="331" cy="371.9" r="3.1"/><circle cx="332.7" cy="371.9" r="3.1"/><circle cx="334.4" cy="371.9" r="3.1"/><circle cx="336.1" cy="371.9" r="3.1"/><circle cx="337.8" cy="371.9" r="3.1"/><circle cx="339.5" cy="371.9" r="3.1"/><circle cx="341.2" cy="371.9" r="3.1"/><circle cx="342.9" cy="371.9" r="3.1"/><circle cx="344.6" cy="371.9" r="3.1"/><circle cx="346.3" cy="371.9" r="3.1"/><circle cx="348" cy="371.9" r="3.1"/><circle cx="349.7" cy="371.9" r="3.1"/><circle cx="351.4" cy="371.9" r="3.1"/><circle cx="353.1" cy="371.9" r="3.1"/><circle cx="354.8" cy="371.9" r="3.1"/><circle cx="356.5" cy="371.9" r="3.1"/><circle cx="358.2" cy="371.9" r="3.1"/><circle cx="359.9" cy="371.9" r="3.1"/><circle cx="361.6" cy="371.9" r="3.1"/><circle cx="363.3" cy="371.9" r="3.1"/><circle cx="365" cy="371.9" r="3.1"/><circle cx="366.7" cy="371.9" r="3.1"/><circle cx="368.4" cy="371.9" r="3.1"/><circle cx="370.1" cy="371.9" r="3.1"/><circle cx="371.8" cy="371.9" r="3.1"/><circle cx="373.5" cy="371.9" r="3.1"/><circle cx="375.2" cy="371.9" r="3.1"/><circle cx="376.9" cy="371.9" r="3.1"/><circle cx="378.6" cy="371.9" r="3.1"/><circle cx="380.3" cy="371.9" r="3.1"/><circle cx="382" cy="371.9" r="3.1"/><circle cx="343" cy="382.6" r="3.1"/><circle cx="352" cy="380" r="3.1"/><circle cx="363" cy="378" r="3.1"/><circle cx="370" cy="380.6" r="3.1"/><circle cx="365" cy="387.6" r="3.1"/><circle cx="384" cy="383" r="3.1"/><circle cx="385.4" cy="378.6" r="3.1"/><circle cx="391" cy="378.6" r="3.1"/><circle cx="399.6" cy="387.4" r="3.1"/><circle cx="411" cy="381.4" r="3.1"/><circle cx="419.6" cy="381.4" r="3.1"/><circle cx="432" cy="376.6" r="3.1"/><circle cx="417.6" cy="395" r="3.1"/><circle cx="428.4" cy="391" r="3.1"/><circle cx="425.4" cy="393.4" r="3.1"/><circle cx="427.6" cy="396" r="3.1"/><circle cx="423.6" cy="398.6" r="3.1"/><circle cx="422.4" cy="405" r="3.1"/><circle cx="391" cy="411" r="3.1"/><circle cx="318" cy="401" r="3.1"/><circle cx="447" cy="380.6" r="3.1"/><circle cx="456.4" cy="384.4" r="3.1"/><circle cx="461" cy="380.4" r="3.1"/><circle cx="430" cy="391" r="3.1"/><circle cx="430.5" cy="396" r="3.1"/><circle cx="443" cy="401" r="3.1"/><circle cx="448" cy="399.8" r="3.1"/><circle cx="474" cy="397" r="3.1"/><circle cx="489.6" cy="394" r="3.1"/><circle cx="496" cy="397" r="3.1"/><circle cx="497.6" cy="404" r="3.1"/><circle cx="506" cy="390" r="3.1"/><circle cx="508" cy="391.6" r="3.1"/><circle cx="507.6" cy="397" r="3.1"/><circle cx="517.6" cy="389" r="3.1"/><circle cx="515" cy="397" r="3.1"/><circle cx="512.6" cy="401" r="3.1"/><circle cx="519" cy="399.4" r="3.1"/><circle cx="529" cy="409.6" r="3.1"/><circle cx="536" cy="397.4" r="3.1"/><circle cx="537" cy="400.6" r="3.1"/><circle cx="538.6" cy="407" r="3.1"/><circle cx="543.6" cy="403" r="3.1"/><circle cx="548.6" cy="397.6" r="3.1"/><circle cx="560" cy="402.4" r="3.1"/><circle cx="564" cy="400" r="3.1"/><circle cx="559.6" cy="409" r="3.1"/><circle cx="574" cy="402" r="3.1"/><circle cx="586.6" cy="406" r="3.1"/><circle cx="589" cy="407" r="3.1"/></g>
<g fill="#ff1a00"><rect x="589.9" y="404.9" width="4.2" height="4.2" rx="1"/></g>
</g>
<path d="M531.3 142.3V29H537.9V81H543.13V86.9H548.37V93.1H553.61V94.6H558.84V93.4H564.07V100.6H569.31V99.6H574.54V103.1H579.78V109.4H585.01V114H590.25V118.75H595.49V118.1H600.72V124.1H605.95V125.9H611.19V127.5H616.42V130.2H621.66V134.5H626.89V136.5H632.13V137.9H637.37V139.75H642.6V140.5H647.84V140.7H653.07V140.8H658.3V140.9H663.54V140.9H668.77V140.9H674.01V140.8H679.25V140.7H684.48V140.5H689.71V140.4H694.95V140.5H700.18V140.7H705.42V140.8H710.65V140.8H715.89V140.8H721.12V140.9H726.36V140.9H731.6V140.9H736.83V140.9H742.07V142.3Z" fill="#000"/>
<path d="M157.5 6V17M157.5 349V371M157.5 498.5V509.5M242.5 6V17M242.5 349V371M242.5 498.5V509.5M327.5 6V17M327.5 349V371M327.5 498.5V509.5M412.5 6V17M412.5 349V371M412.5 498.5V509.5M497.5 6V17M497.5 349V371M497.5 498.5V509.5M582.5 6V17M582.5 349V371M582.5 498.5V509.5M667.5 6V17M667.5 349V371M667.5 498.5V509.5M752.5 6V17M752.5 349V371M752.5 498.5V509.5M128.5 343.75H139.5M773.5 343.75H784.5M128.5 290.27H139.5M773.5 290.27H784.5M128.5 236.8H139.5M773.5 236.8H784.5M128.5 183.32H139.5M773.5 183.32H784.5M128.5 129.85H139.5M773.5 129.85H784.5M128.5 76.37H139.5M773.5 76.37H784.5M128.5 22.9H139.5M773.5 22.9H784.5M128.5 487.9H139.5M773.5 487.9H784.5M128.5 450.07H139.5M773.5 450.07H784.5M128.5 412.23H139.5M773.5 412.23H784.5M128.5 374.4H139.5M773.5 374.4H784.5M555 23.6V34.6M555 136.3V147.3M601.35 23.6V34.6M601.35 136.3V147.3M647.7 23.6V34.6M647.7 136.3V147.3M694.05 23.6V34.6M694.05 136.3V147.3M740.4 23.6V34.6M740.4 136.3V147.3M521.8 142H532.8M740 142H751M521.8 119.5H532.8M740 119.5H751M521.8 97H532.8M740 97H751M521.8 74.5H532.8M740 74.5H751M521.8 52H532.8M740 52H751M521.8 29.5H532.8M740 29.5H751" stroke="#111" stroke-width="1.05" fill="none"/>
<path d="M140.5 6V11.5M140.5 354.5V365.5M140.5 504V509.5M174.5 6V11.5M174.5 354.5V365.5M174.5 504V509.5M191.5 6V11.5M191.5 354.5V365.5M191.5 504V509.5M208.5 6V11.5M208.5 354.5V365.5M208.5 504V509.5M225.5 6V11.5M225.5 354.5V365.5M225.5 504V509.5M259.5 6V11.5M259.5 354.5V365.5M259.5 504V509.5M276.5 6V11.5M276.5 354.5V365.5M276.5 504V509.5M293.5 6V11.5M293.5 354.5V365.5M293.5 504V509.5M310.5 6V11.5M310.5 354.5V365.5M310.5 504V509.5M344.5 6V11.5M344.5 354.5V365.5M344.5 504V509.5M361.5 6V11.5M361.5 354.5V365.5M361.5 504V509.5M378.5 6V11.5M378.5 354.5V365.5M378.5 504V509.5M395.5 6V11.5M395.5 354.5V365.5M395.5 504V509.5M429.5 6V11.5M429.5 354.5V365.5M429.5 504V509.5M446.5 6V11.5M446.5 354.5V365.5M446.5 504V509.5M463.5 6V11.5M463.5 354.5V365.5M463.5 504V509.5M480.5 6V11.5M480.5 354.5V365.5M480.5 504V509.5M514.5 6V11.5M514.5 354.5V365.5M514.5 504V509.5M531.5 6V11.5M531.5 354.5V365.5M531.5 504V509.5M548.5 6V11.5M548.5 354.5V365.5M548.5 504V509.5M565.5 6V11.5M565.5 354.5V365.5M565.5 504V509.5M599.5 6V11.5M599.5 354.5V365.5M599.5 504V509.5M616.5 6V11.5M616.5 354.5V365.5M616.5 504V509.5M633.5 6V11.5M633.5 354.5V365.5M633.5 504V509.5M650.5 6V11.5M650.5 354.5V365.5M650.5 504V509.5M684.5 6V11.5M684.5 354.5V365.5M684.5 504V509.5M701.5 6V11.5M701.5 354.5V365.5M701.5 504V509.5M718.5 6V11.5M718.5 354.5V365.5M718.5 504V509.5M735.5 6V11.5M735.5 354.5V365.5M735.5 504V509.5M769.5 6V11.5M769.5 354.5V365.5M769.5 504V509.5M128.5 354.44H134M779 354.44H784.5M128.5 333.05H134M779 333.05H784.5M128.5 322.36H134M779 322.36H784.5M128.5 311.67H134M779 311.67H784.5M128.5 300.97H134M779 300.97H784.5M128.5 279.58H134M779 279.58H784.5M128.5 268.88H134M779 268.88H784.5M128.5 258.19H134M779 258.19H784.5M128.5 247.5H134M779 247.5H784.5M128.5 226.11H134M779 226.11H784.5M128.5 215.41H134M779 215.41H784.5M128.5 204.71H134M779 204.71H784.5M128.5 194.02H134M779 194.02H784.5M128.5 172.63H134M779 172.63H784.5M128.5 161.93H134M779 161.93H784.5M128.5 151.24H134M779 151.24H784.5M128.5 140.54H134M779 140.54H784.5M128.5 119.16H134M779 119.16H784.5M128.5 108.46H134M779 108.46H784.5M128.5 97.76H134M779 97.76H784.5M128.5 87.07H134M779 87.07H784.5M128.5 65.68H134M779 65.68H784.5M128.5 54.98H134M779 54.98H784.5M128.5 44.29H134M779 44.29H784.5M128.5 33.6H134M779 33.6H784.5M128.5 12.2H134M779 12.2H784.5M128.5 503.04H134M779 503.04H784.5M128.5 495.47H134M779 495.47H784.5M128.5 480.34H134M779 480.34H784.5M128.5 472.77H134M779 472.77H784.5M128.5 465.2H134M779 465.2H784.5M128.5 457.64H134M779 457.64H784.5M128.5 442.5H134M779 442.5H784.5M128.5 434.94H134M779 434.94H784.5M128.5 427.37H134M779 427.37H784.5M128.5 419.8H134M779 419.8H784.5M128.5 404.67H134M779 404.67H784.5M128.5 397.1H134M779 397.1H784.5M128.5 389.53H134M779 389.53H784.5M128.5 381.97H134M779 381.97H784.5M128.5 366.83H134M779 366.83H784.5M527.19 23.6V29.1M527.19 141.8V147.3M536.46 23.6V29.1M536.46 141.8V147.3M545.73 23.6V29.1M545.73 141.8V147.3M564.27 23.6V29.1M564.27 141.8V147.3M573.54 23.6V29.1M573.54 141.8V147.3M582.81 23.6V29.1M582.81 141.8V147.3M592.08 23.6V29.1M592.08 141.8V147.3M610.62 23.6V29.1M610.62 141.8V147.3M619.89 23.6V29.1M619.89 141.8V147.3M629.16 23.6V29.1M629.16 141.8V147.3M638.43 23.6V29.1M638.43 141.8V147.3M656.97 23.6V29.1M656.97 141.8V147.3M666.24 23.6V29.1M666.24 141.8V147.3M675.51 23.6V29.1M675.51 141.8V147.3M684.78 23.6V29.1M684.78 141.8V147.3M703.32 23.6V29.1M703.32 141.8V147.3M712.59 23.6V29.1M712.59 141.8V147.3M721.86 23.6V29.1M721.86 141.8V147.3M731.13 23.6V29.1M731.13 141.8V147.3M749.67 23.6V29.1M749.67 141.8V147.3M521.8 137.5H527.3M745.5 137.5H751M521.8 133H527.3M745.5 133H751M521.8 128.5H527.3M745.5 128.5H751M521.8 124H527.3M745.5 124H751M521.8 115H527.3M745.5 115H751M521.8 110.5H527.3M745.5 110.5H751M521.8 106H527.3M745.5 106H751M521.8 101.5H527.3M745.5 101.5H751M521.8 92.5H527.3M745.5 92.5H751M521.8 88H527.3M745.5 88H751M521.8 83.5H527.3M745.5 83.5H751M521.8 79H527.3M745.5 79H751M521.8 70H527.3M745.5 70H751M521.8 65.5H527.3M745.5 65.5H751M521.8 61H527.3M745.5 61H751M521.8 56.5H527.3M745.5 56.5H751M521.8 47.5H527.3M745.5 47.5H751M521.8 43H527.3M745.5 43H751M521.8 38.5H527.3M745.5 38.5H751M521.8 34H527.3M745.5 34H751M521.8 25H527.3M745.5 25H751" stroke="#222" stroke-width="0.9" fill="none"/>
<g fill="none" stroke="#0a0a0a" stroke-width="1.8">
<rect x="128.5" y="6" width="656" height="503.5"/>
<path d="M128.5 360H784.5"/>
<rect x="521.8" y="23.6" width="229.2" height="123.7" stroke-width="1.7"/>
</g>
<g font-family="'Liberation Serif', 'DejaVu Serif', serif" fill="#000" stroke="#fff" stroke-width="0.45" opacity="0.999">
<text><tspan x="69.01" y="352.45" font-size="30.8" textLength="50.8" lengthAdjust="spacingAndGlyphs">0.00</tspan></text>
<text><tspan x="69.02" y="298.97" font-size="30.8" textLength="50.09" lengthAdjust="spacingAndGlyphs">0.05</tspan></text>
<text><tspan x="69.01" y="245.5" font-size="30.8" textLength="50.8" lengthAdjust="spacingAndGlyphs">0.10</tspan></text>
<text><tspan x="69.02" y="192.02" font-size="30.8" textLength="50.09" lengthAdjust="spacingAndGlyphs">0.15</tspan></text>
<text><tspan x="69.01" y="138.55" font-size="30.8" textLength="50.8" lengthAdjust="spacingAndGlyphs">0.20</tspan></text>
<text><tspan x="69.02" y="85.07" font-size="30.8" textLength="50.09" lengthAdjust="spacingAndGlyphs">0.25</tspan></text>
<text><tspan x="69.01" y="31.6" font-size="30.8" textLength="50.8" lengthAdjust="spacingAndGlyphs">0.30</tspan></text>
<text><tspan x="83.89" y="383.1" font-size="30.8" textLength="36.11" lengthAdjust="spacingAndGlyphs">1.0</tspan></text>
<text><tspan x="83.23" y="420.93" font-size="30.8" textLength="36.09" lengthAdjust="spacingAndGlyphs">0.5</tspan></text>
<text><tspan x="83.21" y="458.77" font-size="30.8" textLength="36.81" lengthAdjust="spacingAndGlyphs">0.0</tspan></text>
<text><tspan x="60.47" y="498.2" font-size="30.8" textLength="22.68" lengthAdjust="spacingAndGlyphs">−</tspan><tspan x="83.23" y="496.6" font-size="30.8" textLength="36.09" lengthAdjust="spacingAndGlyphs">0.5</tspan></text>
<text><tspan x="139.53" y="542.9" font-size="30.8" textLength="22.68" lengthAdjust="spacingAndGlyphs">−</tspan><tspan x="162.68" y="541.3" font-size="30.8" textLength="13.92" lengthAdjust="spacingAndGlyphs">5</tspan></text>
<text><tspan x="224.53" y="542.9" font-size="30.8" textLength="22.68" lengthAdjust="spacingAndGlyphs">−</tspan><tspan x="248.05" y="541.3" font-size="30.8" textLength="13.6" lengthAdjust="spacingAndGlyphs">4</tspan></text>
<text><tspan x="309.53" y="542.9" font-size="30.8" textLength="22.68" lengthAdjust="spacingAndGlyphs">−</tspan><tspan x="332.74" y="541.3" font-size="30.8" textLength="14.07" lengthAdjust="spacingAndGlyphs">3</tspan></text>
<text><tspan x="394.53" y="542.9" font-size="30.8" textLength="22.68" lengthAdjust="spacingAndGlyphs">−</tspan><tspan x="418.06" y="541.3" font-size="30.8" textLength="13.99" lengthAdjust="spacingAndGlyphs">2</tspan></text>
<text><tspan x="479.53" y="542.9" font-size="30.8" textLength="22.68" lengthAdjust="spacingAndGlyphs">−</tspan><tspan x="503.26" y="541.3" font-size="30.8" textLength="12.67" lengthAdjust="spacingAndGlyphs">1</tspan></text>
<text><tspan x="575.34" y="541.3" font-size="30.8" textLength="15.12" lengthAdjust="spacingAndGlyphs">0</tspan></text>
<text><tspan x="661.36" y="541.3" font-size="30.8" textLength="12.67" lengthAdjust="spacingAndGlyphs">1</tspan></text>
<text><tspan x="746.16" y="541.3" font-size="30.8" textLength="13.99" lengthAdjust="spacingAndGlyphs">2</tspan></text>
<text><tspan x="463.51" y="150.6" font-size="30.8" textLength="50.8" lengthAdjust="spacingAndGlyphs">0.00</tspan></text>
<text><tspan x="463.51" y="128.1" font-size="30.8" textLength="50.58" lengthAdjust="spacingAndGlyphs">0.02</tspan></text>
<text><tspan x="463.52" y="105.6" font-size="30.8" textLength="50.14" lengthAdjust="spacingAndGlyphs">0.04</tspan></text>
<text><tspan x="463.52" y="83.1" font-size="30.8" textLength="50.03" lengthAdjust="spacingAndGlyphs">0.06</tspan></text>
<text><tspan x="463.52" y="60.6" font-size="30.8" textLength="50.38" lengthAdjust="spacingAndGlyphs">0.08</tspan></text>
<text><tspan x="463.51" y="38.1" font-size="30.8" textLength="50.8" lengthAdjust="spacingAndGlyphs">0.10</tspan></text>
<text><tspan x="536.93" y="180.7" font-size="30.8" textLength="22.68" lengthAdjust="spacingAndGlyphs">−</tspan><tspan x="560.32" y="179.1" font-size="30.8" textLength="13.61" lengthAdjust="spacingAndGlyphs">6</tspan></text>
<text><tspan x="583.28" y="180.7" font-size="30.8" textLength="22.68" lengthAdjust="spacingAndGlyphs">−</tspan><tspan x="606.8" y="179.1" font-size="30.8" textLength="13.6" lengthAdjust="spacingAndGlyphs">4</tspan></text>
<text><tspan x="629.63" y="180.7" font-size="30.8" textLength="22.68" lengthAdjust="spacingAndGlyphs">−</tspan><tspan x="653.16" y="179.1" font-size="30.8" textLength="13.99" lengthAdjust="spacingAndGlyphs">2</tspan></text>
<text><tspan x="686.79" y="179.1" font-size="30.8" textLength="15.12" lengthAdjust="spacingAndGlyphs">0</tspan></text>
<text><tspan x="733.96" y="179.1" font-size="30.8" textLength="13.99" lengthAdjust="spacingAndGlyphs">2</tspan></text>
<text><tspan x="408.01" y="585.73" font-size="46.98" textLength="7.84" lengthAdjust="spacingAndGlyphs">[</tspan><tspan x="415.76" y="582.3" font-size="40.6" textLength="35.74" lengthAdjust="spacingAndGlyphs">Fe</tspan><tspan x="452.8" y="591.44" font-size="58.15" textLength="14.69" lengthAdjust="spacingAndGlyphs">/</tspan><tspan x="470.67" y="582.3" font-size="40.6" textLength="25.61" lengthAdjust="spacingAndGlyphs">H</tspan><tspan x="497.4" y="585.73" font-size="46.98" textLength="7.84" lengthAdjust="spacingAndGlyphs">]</tspan></text>
<text><tspan x="598.04" y="216.39" font-size="36.91" textLength="6.12" lengthAdjust="spacingAndGlyphs">[</tspan><tspan x="604.19" y="213.7" font-size="31.9" textLength="27.99" lengthAdjust="spacingAndGlyphs">Fe</tspan><tspan x="633.3" y="220.88" font-size="45.68" textLength="11.59" lengthAdjust="spacingAndGlyphs">/</tspan><tspan x="647.39" y="213.7" font-size="31.9" textLength="20.12" lengthAdjust="spacingAndGlyphs">H</tspan><tspan x="668.34" y="216.39" font-size="36.91" textLength="6.12" lengthAdjust="spacingAndGlyphs">]</tspan></text>
<text transform="translate(53.2 0) rotate(-90)"><tspan x="-280.32" y="0" font-size="40.6" textLength="107.51" lengthAdjust="spacingAndGlyphs">Radius</tspan><tspan font-size="40.6"> </tspan><tspan x="-158.96" y="3.43" font-size="46.98" textLength="7.91" lengthAdjust="spacingAndGlyphs">[</tspan><tspan x="-149.47" y="0" font-size="40.6" textLength="54.38" lengthAdjust="spacingAndGlyphs">kpc</tspan><tspan x="-95.44" y="3.43" font-size="46.98" textLength="7.77" lengthAdjust="spacingAndGlyphs">]</tspan></text>
<text transform="translate(43.2 0) rotate(-90)"><tspan x="-496.16" y="3.43" font-size="46.98" textLength="7.91" lengthAdjust="spacingAndGlyphs">[</tspan><tspan x="-488.54" y="0" font-size="40.6" textLength="49.72" lengthAdjust="spacingAndGlyphs">Mg</tspan><tspan x="-435.7" y="9.14" font-size="58.15" textLength="14.69" lengthAdjust="spacingAndGlyphs">/</tspan><tspan x="-420.13" y="0" font-size="40.6" textLength="39" lengthAdjust="spacingAndGlyphs">Fe</tspan><tspan x="-382.54" y="3.43" font-size="46.98" textLength="7.77" lengthAdjust="spacingAndGlyphs">]</tspan></text>
<text transform="translate(450.6 0) rotate(-90)"><tspan x="-151.28" y="0" font-size="31.9" textLength="48.66" lengthAdjust="spacingAndGlyphs">Gas</tspan><tspan font-size="31.9"> </tspan><tspan x="-96.47" y="0" font-size="31.9" textLength="77.43" lengthAdjust="spacingAndGlyphs">Fract.</tspan></text>
</g>
</svg>
</body>
</html>
